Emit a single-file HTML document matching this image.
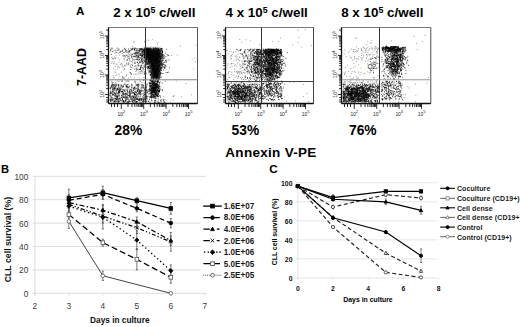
<!DOCTYPE html>
<html><head><meta charset="utf-8"><style>
html,body{margin:0;padding:0;background:#fff;}
body{width:520px;height:327px;overflow:hidden;font-family:"Liberation Sans",sans-serif;}
svg{display:block;}
</style></head><body>
<svg width="520" height="327" viewBox="0 0 520 327">
<rect width="520" height="327" fill="#fff"/>
<defs><filter id="bl" x="-5%" y="-5%" width="110%" height="110%"><feGaussianBlur stdDeviation="0.35"/></filter><filter id="bl2" x="-20%" y="-20%" width="140%" height="140%"><feGaussianBlur stdDeviation="0.8"/></filter></defs>
<text x="76" y="14.9" font-size="11.6" font-weight="bold" font-family="Liberation Sans, sans-serif">A</text>
<text x="113.2" y="16.9" font-size="13.4" font-weight="bold" font-family="Liberation Sans, sans-serif">2 x 10<tspan font-size="8.8" dy="-4.1">5</tspan><tspan dy="4.1"> c/well</tspan></text>
<text x="225.5" y="16.9" font-size="13.4" font-weight="bold" font-family="Liberation Sans, sans-serif">4 x 10<tspan font-size="8.8" dy="-4.1">5</tspan><tspan dy="4.1"> c/well</tspan></text>
<text x="341.2" y="16.9" font-size="13.4" font-weight="bold" font-family="Liberation Sans, sans-serif">8 x 10<tspan font-size="8.8" dy="-4.1">5</tspan><tspan dy="4.1"> c/well</tspan></text>
<text transform="translate(85.8,85.9) rotate(-90)" font-size="12.4" font-weight="bold" font-family="Liberation Sans, sans-serif">7-AAD</text>
<text x="114.6" y="134.6" font-size="13.8" font-weight="bold" font-family="Liberation Sans, sans-serif">28%</text>
<text x="231.6" y="134.6" font-size="13.8" font-weight="bold" font-family="Liberation Sans, sans-serif">53%</text>
<text x="349.0" y="134.6" font-size="13.8" font-weight="bold" font-family="Liberation Sans, sans-serif">76%</text>
<text x="225.3" y="156.6" font-size="13.5" font-weight="bold" letter-spacing="0.3" font-family="Liberation Sans, sans-serif">Annexin V-PE</text>
<path d="M143.4 77.7h.9M131.5 58.1h.9M123.2 56.6h.9M141.6 73.4h.9M137.6 74.3h.9M144.7 70.0h.9M121.1 72.2h.9M119.2 67.5h.9M115.5 75.4h.9M127.1 56.8h.9M142.3 50.7h.9M142.6 72.2h.9M115.2 72.4h.9M130.1 77.0h.9M130.5 61.7h.9M142.7 50.8h.9M137.2 51.3h.9M119.7 51.6h.9M140.5 62.1h.9M135.4 56.2h.9M135.6 68.8h.9M113.4 63.8h.9M135.3 54.9h.9M132.9 56.9h.9M123.0 77.4h.9M143.0 79.9h.9M124.9 66.3h.9M138.3 72.3h.9M126.0 75.6h.9M124.0 78.4h.9M126.5 51.8h.9M136.2 52.6h.9M133.8 49.7h.9M144.6 65.3h.9M135.9 52.2h.9M132.3 60.0h.9M118.7 74.1h.9M111.2 63.3h.9M113.0 75.2h.9M141.3 49.1h.9M126.3 63.0h.9M135.2 71.3h.9M122.0 77.8h.9M116.5 52.4h.9M138.5 51.8h.9M116.5 64.0h.9M121.8 53.2h.9M142.5 63.2h.9M137.5 56.0h.9M141.9 55.1h.9M141.7 67.6h.9M144.0 72.7h.9M132.1 65.1h.9M139.9 62.2h.9M113.4 77.2h.9M138.2 69.8h.9M136.1 55.4h.9M126.2 74.3h.9M143.7 77.5h.9M115.6 69.9h.9M129.4 61.0h.9M115.9 52.4h.9M126.5 63.8h.9M119.4 59.8h.9M129.4 72.4h.9M130.6 53.2h.9M141.0 59.8h.9M143.6 79.4h.9M114.9 66.6h.9M143.8 60.3h.9M129.2 58.0h.9M111.0 54.5h.9M114.3 57.1h.9M132.0 66.0h.9M143.2 69.9h.9M122.7 78.4h.9M132.2 65.4h.9M140.2 69.4h.9M122.6 67.4h.9M120.5 79.0h.9M118.5 79.1h.9M112.3 48.3h.9M129.4 54.6h.9M127.8 51.8h.9M139.3 69.4h.9M133.9 77.7h.9M144.7 69.7h.9M135.0 48.1h.9M111.7 61.6h.9M143.9 58.0h.9M129.9 48.3h.9M124.6 76.9h.9M130.6 74.4h.9M110.5 54.5h.9M116.3 74.6h.9M113.6 77.8h.9M119.4 76.2h.9M128.0 58.4h.9M143.8 61.0h.9M134.4 50.2h.9M139.1 79.4h.9M113.9 71.9h.9M119.5 52.7h.9M122.7 69.2h.9M143.4 79.8h.9M144.8 67.9h.9M132.9 53.2h.9M135.4 65.6h.9M122.6 76.8h.9M118.9 52.5h.9M115.5 52.8h.9M130.6 73.6h.9M115.6 64.1h.9M130.1 65.9h.9M124.4 65.4h.9M110.5 49.9h.9M124.8 55.6h.9M136.5 55.7h.9M138.8 55.7h.9M113.2 63.3h.9M123.6 58.7h.9M136.8 55.1h.9M133.5 74.7h.9M125.8 64.1h.9M142.3 67.3h.9M116.3 50.2h.9M112.9 58.6h.9M113.1 68.8h.9M124.8 57.9h.9M127.9 78.0h.9M118.7 81.0h.9M121.0 81.6h.9M143.6 83.0h.9M125.6 81.1h.9M111.2 80.9h.9M141.3 82.8h.9M115.4 82.7h.9M111.7 82.3h.9M122.1 80.9h.9M137.3 83.0h.9M128.6 81.1h.9M134.6 82.0h.9M134.3 80.8h.9M143.3 80.5h.9M117.9 81.9h.9M116.9 80.8h.9M135.3 84.0h.9M122.1 81.4h.9M134.6 81.3h.9M124.5 82.9h.9M125.7 81.0h.9M112.1 82.4h.9M146.6 83.7h.9M113.2 82.3h.9M127.8 81.2h.9M134.6 82.2h.9M139.8 81.5h.9M144.5 83.4h.9M127.3 81.0h.9M127.6 80.9h.9M135.2 82.9h.9M131.2 83.9h.9M111.2 83.0h.9M139.5 80.9h.9M121.6 80.7h.9M181.0 96.7h.9M172.5 96.1h.9M173.2 96.5h.9M170.0 102.2h.9M175.8 81.1h.9M163.3 96.8h.9M191.1 94.8h.9M165.6 99.9h.9M185.8 83.5h.9M173.7 95.6h.9M160.1 81.9h.9M172.7 100.0h.9M195.9 45.2h.9M193.2 69.1h.9M191.8 59.0h.9M195.0 61.8h.9M194.4 57.9h.9M171.1 55.5h.9M180.0 46.2h.9M176.6 55.0h.9M148.2 40.0h.9M133.3 42.5h.9M144.2 41.8h.9M151.9 39.7h.9M145.5 40.5h.9M157.0 44.3h.9M157.5 42.7h.9M132.0 46.3h.9M144.5 41.4h.9M133.9 41.6h.9M114.4 53.8h.9M140.5 62.7h.9M129.5 58.7h.9M122.1 65.0h.9M139.5 69.4h.9M136.3 55.5h.9M134.7 54.0h.9M133.5 56.1h.9M123.6 52.7h.9M135.0 63.5h.9M123.4 55.9h.9M122.2 76.9h.9M140.3 57.4h.9M130.9 74.2h.9M128.8 54.9h.9M123.9 55.7h.9M135.5 53.0h.9M120.6 64.2h.9M126.5 65.1h.9M145.5 70.7h.9M145.6 48.1h.9M135.3 54.4h.9M127.8 64.8h.9M144.0 56.8h.9M131.5 61.6h.9M117.3 68.3h.9M138.7 71.7h.9M137.8 65.3h.9M134.2 53.9h.9M134.1 69.2h.9M139.7 65.9h.9M123.8 49.0h.9M135.5 68.7h.9M137.2 52.6h.9M142.1 54.4h.9M126.9 59.8h.9M125.4 51.6h.9M145.5 51.3h.9M120.7 51.2h.9M117.7 66.3h.9M144.2 71.8h.9M129.1 59.0h.9M135.8 56.1h.9M124.8 50.2h.9M124.2 69.0h.9M129.3 60.8h.9M130.2 55.4h.9M123.5 55.4h.9M139.7 69.6h.9M111.5 57.0h.9M120.9 63.5h.9M127.9 53.1h.9M124.9 51.5h.9M129.9 50.3h.9M117.7 53.4h.9M145.0 58.4h.9M128.1 48.9h.9M112.3 58.7h.9M127.0 60.2h.9M133.2 48.1h.9M134.2 50.3h.9M112.5 58.9h.9M142.0 53.6h.9M131.9 48.4h.9M143.3 59.0h.9M131.3 74.1h.9M132.5 68.2h.9M138.6 58.9h.9M120.5 51.3h.9M131.0 57.4h.9M123.9 65.3h.9M129.0 51.1h.9M112.4 51.2h.9M144.2 67.2h.9M121.5 66.6h.9M123.8 61.2h.9M140.0 62.5h.9M136.3 70.8h.9M131.9 48.3h.9M117.7 57.8h.9M145.7 50.1h.9M129.1 51.7h.9M142.1 71.7h.9M130.9 55.7h.9M144.5 64.0h.9M142.9 62.6h.9M122.4 49.5h.9M110.3 51.6h.9M138.2 54.7h.9M127.5 50.3h.9M125.9 60.3h.9M140.1 49.7h.9M137.1 56.2h.9M136.9 56.2h.9M126.4 52.5h.9M132.2 62.6h.9M119.9 64.7h.9M137.3 53.3h.9M133.8 56.2h.9M127.5 57.4h.9M122.0 51.2h.9M114.9 58.6h.9M143.2 61.2h.9M119.2 55.1h.9M137.5 64.8h.9M140.8 48.9h.9M117.4 67.1h.9M139.3 51.8h.9M145.0 58.2h.9M142.7 65.8h.9M128.4 64.0h.9M133.2 56.5h.9M131.0 56.6h.9M124.0 59.2h.9M130.8 54.6h.9M125.3 50.8h.9M127.7 54.8h.9M118.6 62.4h.9M135.8 56.7h.9M114.9 58.2h.9M135.7 57.7h.9M122.4 50.7h.9M138.3 64.8h.9M133.8 53.3h.9M130.9 64.6h.9M135.8 48.5h.9M143.0 49.8h.9M129.9 67.0h.9M145.0 52.6h.9M138.0 56.1h.9M144.8 55.5h.9M129.4 51.4h.9M136.9 59.4h.9M139.3 49.4h.9M141.1 54.1h.9M128.0 52.1h.9M126.5 55.1h.9M133.9 66.2h.9M126.9 52.2h.9M114.7 51.6h.9M126.9 59.3h.9M135.8 70.3h.9M141.9 58.9h.9M115.5 55.7h.9M145.8 53.7h.9M124.9 56.4h.9M131.9 60.9h.9M140.9 57.1h.9M128.2 49.1h.9M133.6 56.0h.9M141.5 71.1h.9M124.0 69.1h.9M133.4 59.5h.9M135.3 53.0h.9M124.4 55.9h.9M136.7 52.2h.9M136.9 54.2h.9M137.3 60.2h.9M135.6 62.0h.9M144.9 66.6h.9M125.6 48.4h.9M122.3 55.7h.9M142.3 55.9h.9M124.4 52.4h.9M113.6 57.9h.9M145.5 50.9h.9M113.7 62.1h.9M137.9 60.5h.9M123.0 52.5h.9M128.5 64.3h.9" stroke="#000" stroke-width="0.9" fill="none" stroke-opacity="0.45" filter="url(#bl)"/>
<polygon points="144.3,48.3 160.5,48.3 161,58 160.3,70 159,76 157,78.8 152.5,78.8 151,72 149,62 145.5,56" fill="#0a0a0a" filter="url(#bl2)"/>
<path d="M124.9 49.5h.9M116.8 48.1h.9M141.3 49.3h.9M140.4 49.0h.9M132.7 48.9h.9M134.1 49.5h.9M131.7 48.4h.9M131.7 49.3h.9M120.1 51.9h.9M134.7 50.9h.9M123.9 48.3h.9M135.6 49.0h.9M121.8 50.9h.9M118.3 49.0h.9M128.6 51.1h.9M134.0 48.4h.9M110.4 50.2h.9M136.0 50.4h.9M145.3 49.2h.9M110.5 49.0h.9M145.3 49.7h.9M114.6 50.5h.9M141.2 48.8h.9M130.9 49.4h.9M134.2 49.6h.9M139.5 49.6h.9M125.8 50.5h.9M112.3 51.7h.9M134.6 48.2h.9M131.9 49.8h.9M129.4 50.8h.9M140.5 48.6h.9M117.4 50.4h.9M111.4 48.2h.9M118.6 49.8h.9M145.6 67.7h.9M141.7 61.3h.9M140.8 65.2h.9M139.1 62.5h.9M142.9 60.0h.9M143.8 65.1h.9M137.9 56.6h.9M139.9 68.3h.9M138.3 63.5h.9M134.4 62.2h.9M142.0 62.1h.9M137.8 65.9h.9M141.4 55.3h.9M137.2 59.1h.9M138.9 59.4h.9M126.4 55.6h.9M145.0 49.5h.9M139.7 68.6h.9M144.3 73.4h.9M131.5 56.8h.9M138.3 65.6h.9M140.9 70.8h.9M139.3 61.7h.9M144.0 61.3h.9M139.6 73.8h.9M145.2 57.4h.9M144.6 57.6h.9M140.7 66.3h.9M141.1 65.7h.9M143.1 51.3h.9M140.0 49.7h.9M143.8 74.3h.9M135.5 74.0h.9M144.9 58.4h.9M130.1 72.7h.9M139.5 54.6h.9M142.0 63.7h.9M145.7 73.4h.9M136.3 69.2h.9M140.6 61.1h.9M128.5 56.5h.9M130.7 67.4h.9M141.6 54.5h.9M140.0 67.5h.9M140.4 71.9h.9M139.7 69.4h.9M136.6 67.9h.9M130.6 50.2h.9M130.2 69.6h.9M133.8 59.9h.9M139.0 59.7h.9M137.0 62.1h.9M142.7 69.0h.9M139.0 48.7h.9M137.2 69.7h.9M131.8 54.6h.9M145.0 67.1h.9M140.0 67.2h.9M140.8 49.4h.9M132.2 54.2h.9M144.6 54.9h.9M135.5 53.1h.9M132.3 58.9h.9M134.1 63.3h.9M128.2 63.0h.9M143.6 57.5h.9M128.8 52.1h.9M141.5 55.9h.9M143.9 66.7h.9M143.3 62.9h.9M144.5 71.8h.9M138.5 55.8h.9M135.4 66.2h.9M142.8 68.1h.9M135.5 59.2h.9M141.5 67.4h.9M139.8 58.2h.9M134.9 56.8h.9M144.5 60.9h.9M135.7 52.4h.9M158.9 79.1h.9M145.5 56.5h.9M148.8 52.1h.9M151.7 77.2h.9M159.5 56.3h.9M154.6 70.4h.9M145.2 49.8h.9M156.9 61.6h.9M155.9 73.7h.9M152.3 58.9h.9M154.3 77.7h.9M148.7 52.1h.9M153.8 55.6h.9M145.6 53.2h.9M144.5 54.5h.9M149.6 57.8h.9M158.3 57.3h.9M153.3 53.7h.9M150.3 48.6h.9M148.4 48.5h.9M157.8 65.6h.9M147.2 63.2h.9M161.7 51.4h.9M159.5 61.8h.9M153.2 74.7h.9M151.2 64.2h.9M156.9 79.4h.9M150.2 74.6h.9M157.3 68.4h.9M151.4 59.1h.9M144.6 52.2h.9M148.5 53.2h.9M160.5 69.5h.9M149.0 55.8h.9M149.2 62.7h.9M146.6 62.3h.9M149.5 59.4h.9M152.8 64.1h.9M147.4 64.2h.9M145.3 60.8h.9M144.3 48.7h.9M149.4 55.4h.9M154.9 64.9h.9M158.1 69.0h.9M157.5 76.1h.9M151.1 58.4h.9M157.6 68.6h.9M160.9 68.1h.9M157.8 74.0h.9M146.2 64.8h.9M153.3 74.7h.9M159.2 74.4h.9M154.9 76.6h.9M156.8 70.2h.9M148.0 49.0h.9M146.1 59.5h.9M154.4 68.1h.9M155.7 69.8h.9M153.0 48.1h.9M159.1 71.9h.9M153.3 65.1h.9M156.4 50.1h.9M157.9 56.1h.9M145.0 56.5h.9M157.7 54.6h.9M157.9 79.2h.9M153.1 60.2h.9M152.8 69.9h.9M158.5 67.7h.9M156.0 50.5h.9M146.4 56.1h.9M158.0 57.7h.9M154.6 48.4h.9M144.7 56.6h.9M156.6 70.1h.9M156.7 57.3h.9M153.6 62.9h.9M152.6 51.8h.9M160.9 54.4h.9M152.3 56.6h.9M147.6 66.6h.9M146.3 64.8h.9M162.1 52.2h.9M159.5 64.3h.9M160.8 70.5h.9M153.0 48.8h.9M152.3 57.7h.9M146.2 59.0h.9M149.7 74.9h.9M159.9 51.8h.9M161.1 57.3h.9M150.8 60.6h.9M150.5 61.7h.9M148.9 49.5h.9M148.4 56.5h.9M153.5 54.1h.9M150.8 78.6h.9M155.8 77.2h.9M161.8 65.6h.9M157.5 49.6h.9M157.8 62.4h.9M158.2 68.6h.9M149.1 49.6h.9M161.6 52.1h.9M152.7 59.0h.9M149.3 71.6h.9M162.5 56.3h.9M156.3 57.6h.9M154.4 60.6h.9M146.8 53.2h.9M153.2 55.0h.9M152.3 52.5h.9M147.3 50.9h.9M150.2 50.9h.9M148.2 56.3h.9M154.6 76.4h.9M158.1 61.2h.9M151.6 64.8h.9M150.8 58.8h.9M144.7 56.9h.9M162.4 52.0h.9M153.3 68.1h.9M160.3 54.9h.9M148.8 56.0h.9M151.3 62.3h.9M160.5 48.7h.9M161.0 63.1h.9M154.9 48.0h.9M151.1 77.7h.9M159.6 75.4h.9M162.5 56.0h.9M145.6 52.9h.9M153.7 69.8h.9M156.1 72.5h.9M152.4 65.6h.9M156.1 57.7h.9M146.0 56.1h.9M155.9 70.4h.9M145.7 50.3h.9M153.7 66.7h.9M151.1 55.2h.9M155.2 48.3h.9M149.4 62.7h.9M160.7 63.2h.9M148.1 55.9h.9M149.5 48.7h.9M153.2 69.6h.9M151.7 56.2h.9M156.5 77.6h.9M147.9 49.1h.9M150.1 61.5h.9M156.8 54.3h.9M159.0 71.7h.9M153.3 54.6h.9M162.4 58.0h.9M159.5 55.4h.9M153.2 54.0h.9M147.9 61.3h.9M156.5 78.4h.9M146.4 60.6h.9M146.3 49.7h.9M157.8 79.9h.9M161.7 58.5h.9M158.1 49.0h.9M156.5 60.1h.9M150.8 58.6h.9M146.8 48.1h.9M149.0 59.2h.9M162.1 52.0h.9M162.3 54.6h.9M150.5 74.3h.9M159.5 61.8h.9M150.8 77.4h.9M147.3 59.7h.9M161.0 49.0h.9M151.5 74.0h.9M158.5 49.3h.9M144.2 50.0h.9M161.4 56.2h.9M158.1 76.8h.9M150.1 56.7h.9M148.6 70.9h.9M149.7 56.8h.9M161.4 68.3h.9M161.9 48.8h.9M148.1 63.2h.9M151.0 56.0h.9M151.9 63.8h.9M161.6 53.9h.9M159.2 71.6h.9M159.5 72.7h.9M155.3 58.5h.9M149.7 59.6h.9M158.8 50.5h.9M148.3 50.1h.9M148.7 50.7h.9M157.3 62.3h.9M148.1 61.3h.9M155.6 69.6h.9M158.1 75.1h.9M156.5 51.9h.9M159.9 57.4h.9M154.6 59.9h.9M157.9 54.4h.9M148.3 55.9h.9M154.8 58.4h.9M151.2 79.8h.9M153.4 55.4h.9M159.3 68.9h.9M152.8 74.2h.9M144.3 57.4h.9M145.8 54.1h.9M161.6 59.9h.9M160.4 62.4h.9M148.6 72.9h.9M161.9 51.4h.9M155.1 67.8h.9M147.7 59.8h.9M146.3 54.5h.9M148.5 67.2h.9M156.2 54.5h.9M156.7 53.9h.9M149.6 54.5h.9M159.0 65.5h.9M144.7 51.2h.9M151.2 65.6h.9M156.0 50.9h.9M151.5 57.1h.9M149.6 66.1h.9M150.5 61.3h.9M150.6 54.3h.9M157.7 54.5h.9M151.8 74.3h.9M151.4 76.3h.9M152.5 53.2h.9M156.0 77.1h.9M150.7 64.1h.9M146.3 57.1h.9M153.7 77.6h.9M145.6 63.7h.9M159.2 78.9h.9M147.3 52.1h.9M152.9 49.7h.9M161.6 60.4h.9M161.1 67.9h.9M159.6 53.1h.9M158.8 55.1h.9M151.4 75.1h.9M159.7 53.9h.9M147.8 60.8h.9M153.6 60.3h.9M145.9 55.9h.9M157.6 76.7h.9M158.3 49.2h.9M159.8 51.8h.9M155.2 65.6h.9M155.7 57.8h.9M151.7 66.6h.9M151.8 69.1h.9M152.2 62.0h.9M153.0 55.5h.9M158.4 73.0h.9M152.4 53.7h.9M152.7 51.4h.9M146.0 61.8h.9M145.3 62.1h.9M153.4 49.3h.9M155.9 50.6h.9M157.8 72.9h.9M153.5 49.7h.9M153.3 60.1h.9M162.0 52.4h.9M157.8 74.1h.9M153.1 78.6h.9M161.4 53.3h.9M158.9 77.8h.9M144.8 59.2h.9M158.2 53.1h.9M161.0 56.8h.9M159.4 52.6h.9M153.3 77.4h.9M147.6 56.4h.9M153.4 58.2h.9M144.2 53.8h.9M156.8 76.7h.9M155.9 59.5h.9M160.5 65.8h.9M154.8 76.2h.9M155.8 60.6h.9M159.1 56.5h.9M150.5 72.5h.9M152.1 53.7h.9M158.0 49.5h.9M159.5 56.1h.9M156.0 79.5h.9M154.9 69.2h.9M149.6 48.1h.9M144.2 52.8h.9M155.5 61.8h.9M153.5 76.7h.9M146.1 55.3h.9M156.2 48.7h.9M145.6 59.4h.9M147.9 66.7h.9M155.0 54.5h.9M155.7 63.2h.9M148.2 52.8h.9M160.5 73.0h.9M151.3 56.5h.9M154.5 59.2h.9M156.1 62.2h.9M151.4 55.6h.9M161.8 52.6h.9M147.4 67.5h.9M153.4 68.5h.9M159.4 53.6h.9M149.5 57.6h.9M158.8 70.9h.9M158.0 62.9h.9M158.0 62.5h.9M147.9 51.4h.9M148.0 49.2h.9M150.0 72.0h.9M157.1 75.1h.9M157.4 56.5h.9M154.3 62.0h.9M158.9 64.7h.9M148.7 68.5h.9M162.3 54.9h.9M160.7 48.5h.9M148.6 55.6h.9M158.0 78.2h.9M158.0 58.5h.9M160.7 58.5h.9M155.8 70.2h.9M156.5 79.3h.9M152.7 74.9h.9M157.1 75.4h.9M152.0 71.2h.9M154.6 57.8h.9M147.6 67.9h.9M146.3 48.9h.9M150.2 52.5h.9M144.1 49.3h.9M157.0 68.3h.9M157.1 71.6h.9M150.6 74.2h.9M159.5 76.5h.9M145.6 54.6h.9M145.7 49.1h.9M160.0 74.0h.9M155.9 74.4h.9M155.8 57.2h.9M145.4 51.1h.9M158.3 54.6h.9M149.7 61.6h.9M143.9 56.2h.9M149.0 70.9h.9M150.7 58.3h.9M162.3 64.1h.9M160.1 67.8h.9M152.0 72.7h.9M150.3 70.5h.9M154.0 54.9h.9M160.3 50.9h.9M159.5 53.5h.9M143.5 54.5h.9M158.4 79.3h.9M153.1 73.5h.9M147.1 63.8h.9M150.3 74.6h.9M149.0 54.9h.9M157.1 63.9h.9M157.1 73.2h.9M155.7 59.4h.9M151.3 60.6h.9M160.9 50.8h.9M160.8 48.8h.9M147.5 56.4h.9M161.1 64.0h.9M150.9 76.3h.9M148.1 62.7h.9M153.9 72.1h.9M158.2 68.7h.9M150.3 58.5h.9M156.4 71.7h.9M146.8 62.0h.9M158.6 66.5h.9M146.0 62.8h.9M160.8 55.6h.9M147.2 57.6h.9M157.2 75.0h.9M146.5 53.0h.9M148.3 58.5h.9M153.7 53.1h.9M149.9 54.1h.9M145.5 60.3h.9M157.8 61.9h.9M147.3 68.4h.9M145.6 54.6h.9M151.1 49.1h.9M151.3 73.3h.9M157.0 64.0h.9M155.8 62.8h.9M151.4 71.7h.9M161.2 61.8h.9M154.7 72.0h.9M151.7 55.3h.9M157.6 76.2h.9M158.6 70.4h.9M160.1 69.7h.9M156.0 62.5h.9M149.6 68.1h.9M145.4 61.4h.9M158.8 70.8h.9M155.8 56.0h.9M151.8 62.6h.9M155.6 61.1h.9M156.7 77.8h.9M158.7 60.4h.9M153.1 79.2h.9M161.8 64.6h.9M154.1 71.0h.9M153.5 68.5h.9M159.7 64.7h.9M151.5 78.3h.9M147.6 69.9h.9M151.2 72.4h.9M150.4 49.8h.9M148.8 60.8h.9M151.7 70.3h.9M150.4 56.5h.9M161.8 64.9h.9M151.1 54.8h.9M159.3 68.3h.9M152.6 66.0h.9M150.4 68.4h.9M159.5 74.1h.9M152.6 57.4h.9M154.2 52.0h.9M159.8 59.4h.9M160.1 56.6h.9M150.8 56.1h.9M151.8 53.9h.9M149.0 55.8h.9M149.4 63.3h.9M151.9 68.4h.9M156.4 59.6h.9M155.8 48.5h.9M156.3 56.0h.9M145.5 52.6h.9M150.3 52.9h.9M155.4 73.0h.9M156.5 76.6h.9M158.9 74.8h.9M153.9 71.7h.9M152.1 76.2h.9M154.3 56.5h.9M148.1 52.5h.9M153.1 49.9h.9M152.6 52.6h.9M153.1 63.9h.9M154.0 75.6h.9M152.6 66.0h.9M156.5 74.9h.9M150.8 61.4h.9M162.2 50.4h.9M155.9 68.4h.9M156.8 77.8h.9M153.5 63.5h.9M161.0 49.1h.9M157.5 68.0h.9M150.1 75.6h.9M150.6 63.2h.9M153.7 72.7h.9M147.6 61.9h.9M151.7 65.7h.9M159.6 57.4h.9M159.6 60.9h.9M153.3 56.7h.9M153.4 79.2h.9M156.3 73.3h.9M150.0 58.1h.9M149.3 66.8h.9M155.9 73.1h.9M160.8 65.5h.9M144.5 57.6h.9M143.6 54.1h.9M161.5 67.5h.9M156.3 73.2h.9M161.2 67.6h.9M155.5 68.1h.9M157.1 67.1h.9M156.8 54.8h.9M156.5 62.7h.9M158.4 51.2h.9M147.0 49.2h.9M158.6 77.3h.9M156.3 59.8h.9M159.5 73.2h.9M154.5 56.3h.9M149.4 61.5h.9M149.7 61.8h.9M156.0 77.9h.9M144.3 51.8h.9M159.3 66.4h.9M161.4 62.3h.9M155.0 78.0h.9M151.5 51.3h.9M156.1 54.8h.9M146.5 48.5h.9M146.0 48.6h.9M157.5 55.8h.9M157.8 54.0h.9M157.4 75.4h.9M157.7 50.7h.9M155.8 70.7h.9M152.5 77.8h.9M157.5 48.4h.9M159.4 50.5h.9M149.6 71.3h.9M153.0 49.9h.9M150.7 66.4h.9M152.1 69.7h.9M150.6 68.6h.9M155.8 61.4h.9M151.0 73.2h.9M154.6 57.4h.9M157.2 74.5h.9M150.0 67.4h.9M155.2 57.9h.9M151.9 76.4h.9M150.8 69.9h.9M155.2 76.7h.9M159.2 57.1h.9M151.7 66.8h.9M159.4 76.4h.9M159.3 75.8h.9M154.7 56.8h.9M160.1 73.8h.9M156.9 77.2h.9M150.3 50.7h.9M154.3 73.5h.9M161.7 55.5h.9M155.3 69.7h.9M152.6 54.6h.9M148.5 72.0h.9M158.9 62.7h.9M158.6 55.5h.9M154.8 76.7h.9M160.8 64.7h.9M152.8 66.9h.9M147.2 54.2h.9M150.6 66.1h.9M151.3 64.6h.9M146.4 49.4h.9M162.9 60.0h.9M158.9 53.0h.9M155.1 59.0h.9M153.6 48.7h.9M160.4 63.6h.9M154.6 56.4h.9M158.7 61.6h.9M148.5 49.2h.9M147.4 53.8h.9M145.1 49.6h.9M154.4 75.9h.9M152.4 78.3h.9M161.2 50.1h.9M155.2 60.7h.9M148.5 66.1h.9M156.0 78.6h.9M156.6 60.6h.9M152.2 53.1h.9M147.8 49.2h.9M148.5 59.3h.9M159.8 49.5h.9M158.8 70.7h.9M156.1 79.5h.9M144.6 52.6h.9M158.2 78.1h.9M156.7 57.6h.9M155.0 72.3h.9M145.6 58.4h.9M148.5 52.0h.9M152.9 53.4h.9M148.1 52.6h.9M156.7 48.4h.9M157.5 54.2h.9M146.2 62.3h.9M159.9 68.1h.9M152.3 58.9h.9M159.5 63.3h.9M155.7 52.6h.9M147.8 49.8h.9M157.4 65.7h.9M148.7 61.2h.9M146.5 56.7h.9M159.9 58.7h.9M146.8 63.7h.9M147.0 52.6h.9M145.9 54.3h.9M144.5 52.4h.9M149.0 68.4h.9M143.6 54.4h.9M148.4 49.3h.9M147.4 54.5h.9M148.9 48.4h.9M147.8 55.5h.9M143.8 48.0h.9M148.0 59.6h.9M144.1 57.6h.9M148.5 52.8h.9M146.4 51.0h.9M147.3 52.3h.9M143.5 49.9h.9M146.7 58.9h.9M144.6 52.5h.9M146.7 63.6h.9M147.9 60.8h.9M144.2 49.4h.9M147.4 57.0h.9M147.3 49.2h.9M147.9 55.4h.9M148.1 67.0h.9M146.0 48.3h.9M148.5 58.5h.9M148.2 53.9h.9M145.2 51.6h.9M145.2 61.1h.9M145.7 59.3h.9M147.9 67.0h.9M148.7 58.9h.9M146.1 59.7h.9M146.2 48.5h.9M148.8 52.9h.9M144.1 50.3h.9M143.2 50.1h.9M147.2 52.3h.9M146.5 59.5h.9M147.2 50.3h.9M148.2 63.8h.9M143.3 50.7h.9M146.0 59.0h.9M144.7 50.7h.9M145.4 51.0h.9M147.5 51.6h.9M145.3 57.3h.9M148.0 59.6h.9M147.7 55.4h.9M144.4 55.4h.9M147.8 68.1h.9M147.9 66.6h.9M148.7 68.6h.9M144.5 57.3h.9M146.8 56.0h.9M146.2 49.5h.9M145.6 59.1h.9M148.8 65.1h.9M148.6 61.9h.9M147.9 67.5h.9M148.3 48.8h.9M146.8 53.8h.9M147.1 54.0h.9M146.7 53.5h.9M146.1 57.5h.9M148.7 54.3h.9M144.8 62.2h.9M148.7 59.3h.9M144.6 58.3h.9M146.2 51.3h.9M143.7 50.9h.9M144.8 56.9h.9M144.7 53.4h.9M148.0 61.4h.9M146.4 62.3h.9M145.8 60.1h.9M146.7 58.3h.9M144.9 53.3h.9M144.3 59.3h.9M145.3 60.9h.9M148.2 53.2h.9M146.3 58.8h.9M144.0 49.5h.9M148.2 57.7h.9M145.6 64.2h.9M143.7 53.0h.9M148.8 64.3h.9M143.9 55.4h.9M145.1 62.9h.9M146.7 66.7h.9M147.9 59.4h.9M147.4 64.4h.9M147.6 58.5h.9M147.7 63.6h.9M148.5 50.8h.9M148.2 48.1h.9M147.6 60.9h.9M146.4 57.2h.9M147.7 67.2h.9M146.6 56.4h.9M145.7 58.1h.9M147.3 54.4h.9M145.3 60.2h.9M145.3 55.1h.9M147.7 66.7h.9M146.0 57.8h.9M144.1 54.7h.9M146.5 49.9h.9M148.5 55.1h.9M166.2 49.3h.9M165.0 60.6h.9M163.9 62.2h.9M159.8 58.3h.9M167.5 55.4h.9M159.4 60.9h.9M161.8 54.7h.9M160.5 70.4h.9M158.7 77.7h.9M161.4 53.3h.9M165.4 66.5h.9M159.9 68.0h.9M166.4 60.0h.9M159.1 66.1h.9M165.8 61.8h.9M164.3 68.1h.9M168.6 60.0h.9M161.6 61.7h.9M166.6 54.5h.9M165.4 56.6h.9M164.4 67.5h.9M159.5 61.3h.9M163.7 66.7h.9M160.2 54.1h.9M162.4 60.2h.9M158.5 69.4h.9M161.4 73.5h.9M165.6 62.2h.9M165.2 53.1h.9M162.0 57.4h.9M159.2 62.1h.9M162.6 73.5h.9M160.2 58.3h.9M164.3 65.2h.9M163.1 58.2h.9M164.5 64.9h.9M158.9 52.5h.9M163.4 62.5h.9M163.3 55.0h.9M162.4 54.7h.9M164.1 67.5h.9M168.3 72.1h.9M160.6 58.3h.9M160.2 64.4h.9M168.9 67.7h.9M159.1 66.1h.9M163.0 64.4h.9M168.3 55.4h.9M160.5 77.7h.9M164.0 55.8h.9M163.1 69.9h.9M162.6 56.5h.9M160.8 77.2h.9M163.1 66.9h.9M161.8 66.0h.9M165.4 60.8h.9M161.6 60.5h.9M160.1 60.3h.9M162.1 63.7h.9M167.0 72.5h.9M161.7 66.8h.9M163.9 68.1h.9M163.1 64.1h.9M161.6 55.7h.9M165.6 72.4h.9M165.0 65.5h.9M163.8 58.4h.9M163.6 57.6h.9M160.1 72.2h.9M164.9 81.0h.9M154.6 84.3h.9M154.0 82.5h.9M156.8 85.0h.9M158.9 91.2h.9M153.0 84.7h.9M155.7 84.0h.9M158.6 82.3h.9M154.6 90.3h.9M152.0 94.7h.9M153.2 92.5h.9M155.2 85.9h.9M153.3 81.6h.9M150.9 96.2h.9M152.5 92.6h.9M150.2 90.7h.9M153.0 89.5h.9M152.3 81.3h.9M152.4 84.3h.9M150.4 93.6h.9M152.1 87.7h.9M150.5 85.3h.9M156.3 86.7h.9M153.5 92.5h.9M156.7 84.7h.9M158.3 86.7h.9M155.9 83.5h.9M157.1 93.5h.9M149.4 80.8h.9M150.8 83.8h.9M152.3 87.2h.9M149.4 85.9h.9M156.0 83.4h.9M158.2 90.8h.9M156.9 84.8h.9M153.8 93.0h.9M152.8 80.0h.9M158.2 94.8h.9M152.1 80.8h.9M158.4 91.5h.9M149.5 84.6h.9M151.3 97.4h.9M157.2 81.6h.9M156.6 87.5h.9M157.2 95.7h.9M152.1 81.7h.9M159.4 88.1h.9M157.1 95.8h.9M155.9 88.6h.9M153.7 89.7h.9M159.2 82.4h.9M157.4 80.8h.9M156.7 95.3h.9M151.9 90.4h.9M155.0 84.7h.9M149.7 86.8h.9M153.5 83.8h.9M152.4 82.6h.9M156.8 92.7h.9M151.6 84.6h.9M154.7 88.5h.9M159.3 86.7h.9M152.3 96.8h.9M150.6 90.7h.9M152.7 95.5h.9M155.0 94.4h.9M150.9 92.7h.9M155.6 88.8h.9M157.4 95.8h.9M150.3 85.5h.9M153.0 83.9h.9M149.7 85.3h.9M151.2 93.3h.9M153.9 82.1h.9M152.6 88.9h.9M153.0 83.2h.9M149.8 80.2h.9M150.2 89.3h.9M153.8 83.6h.9M155.0 80.2h.9M156.2 84.8h.9M151.7 82.6h.9M158.2 85.6h.9M151.0 92.1h.9M150.9 94.9h.9M158.1 94.1h.9M152.6 83.5h.9M158.1 86.1h.9M153.1 90.5h.9M153.1 95.8h.9M151.6 80.8h.9M155.2 91.9h.9M158.0 93.4h.9M154.4 89.5h.9M150.7 85.7h.9M155.4 81.5h.9M156.6 83.1h.9M150.0 80.8h.9M153.8 83.6h.9M157.0 80.1h.9M157.7 88.1h.9M152.1 92.6h.9M154.7 88.0h.9M152.7 88.3h.9M156.3 95.7h.9M158.9 83.1h.9M152.3 88.4h.9M155.2 86.6h.9M151.1 81.6h.9M152.6 88.7h.9M157.9 81.1h.9M156.4 91.6h.9M152.3 90.9h.9M159.5 89.1h.9M156.1 85.7h.9M152.8 96.8h.9M149.3 83.6h.9M156.5 88.5h.9M149.9 92.5h.9M153.1 91.0h.9M153.6 90.1h.9M155.2 87.5h.9M150.3 83.4h.9M158.8 90.4h.9M151.8 81.8h.9M154.8 84.8h.9M154.4 90.5h.9M151.5 90.9h.9M150.2 89.8h.9M155.5 81.5h.9M153.5 81.4h.9M153.8 96.4h.9M155.1 93.6h.9M157.3 82.2h.9M153.3 83.3h.9M157.5 82.6h.9M157.5 81.1h.9M151.6 87.1h.9M151.3 85.7h.9M156.8 88.1h.9M158.8 91.8h.9M158.6 90.7h.9M150.8 94.2h.9M152.8 94.5h.9M156.5 95.7h.9M150.3 87.1h.9M156.9 80.8h.9M155.6 81.9h.9M155.0 95.3h.9M156.4 84.8h.9M151.1 88.5h.9M158.2 91.0h.9M150.2 80.4h.9M151.0 90.5h.9M152.2 93.1h.9M153.2 82.7h.9M158.6 90.2h.9M156.6 95.4h.9M152.8 82.9h.9M154.5 96.6h.9M157.8 80.7h.9M151.0 95.5h.9M156.5 87.5h.9M154.2 83.0h.9M158.3 87.5h.9M158.6 91.6h.9M149.8 86.3h.9M151.4 97.0h.9M155.5 80.8h.9M150.9 86.9h.9M154.1 91.0h.9M153.3 86.7h.9M152.7 80.4h.9M149.5 82.8h.9M156.4 85.2h.9M152.0 89.5h.9M151.9 90.8h.9M155.2 94.6h.9M156.0 92.1h.9M153.0 85.4h.9M157.7 96.6h.9M152.3 94.5h.9M157.1 89.7h.9M156.0 86.7h.9M155.1 87.7h.9M149.7 86.4h.9M154.3 87.0h.9M151.7 84.5h.9M152.8 82.6h.9M154.0 88.5h.9M155.3 85.7h.9M150.9 81.3h.9M152.3 85.9h.9M157.0 90.5h.9M159.3 86.5h.9M159.1 91.1h.9M149.9 83.4h.9M152.9 94.7h.9M153.7 96.5h.9M149.7 89.2h.9M158.9 85.2h.9M151.8 80.4h.9M150.8 85.1h.9M156.7 84.1h.9M153.4 83.8h.9M155.6 96.4h.9M156.1 83.7h.9M155.6 81.5h.9M157.9 96.6h.9M152.8 82.6h.9M151.1 90.2h.9M158.6 92.2h.9M159.2 84.0h.9M152.6 94.2h.9M156.1 87.7h.9M156.5 86.4h.9M149.6 87.9h.9M152.7 89.4h.9M155.6 84.9h.9M154.1 80.3h.9M159.2 90.7h.9M155.8 93.8h.9M152.6 81.8h.9M150.7 82.7h.9M157.4 81.7h.9M158.0 88.0h.9M154.9 91.2h.9M155.1 92.5h.9M155.6 86.3h.9M157.2 84.9h.9M156.8 94.5h.9M157.5 85.9h.9M154.0 85.3h.9M154.8 97.9h.9M150.5 80.2h.9M154.2 92.5h.9M157.5 86.9h.9M157.3 81.7h.9M149.3 82.5h.9M149.7 89.5h.9M155.1 83.5h.9M159.3 86.9h.9M150.6 83.4h.9M150.8 80.6h.9M157.6 84.6h.9M156.0 86.5h.9M157.8 88.7h.9M152.6 97.2h.9M150.2 93.9h.9M153.4 96.4h.9M149.7 90.7h.9M149.1 93.6h.9M157.4 87.2h.9M154.3 91.9h.9M153.8 93.0h.9M154.2 91.5h.9M154.2 83.6h.9M151.5 100.7h.9M154.7 93.8h.9M156.9 95.3h.9M155.4 86.8h.9M154.0 81.9h.9M153.5 92.3h.9M148.5 89.7h.9M156.1 93.9h.9M151.7 86.6h.9M149.3 85.2h.9M155.3 96.6h.9M151.1 94.1h.9M155.1 87.2h.9M153.8 89.8h.9M159.4 95.6h.9M159.7 89.5h.9M156.5 94.0h.9M155.3 90.3h.9M153.5 87.5h.9M150.9 96.2h.9M152.9 81.3h.9M154.7 88.9h.9M154.4 95.7h.9M153.7 88.0h.9M152.1 88.9h.9M152.9 89.8h.9M161.9 90.5h.9M151.8 96.1h.9M156.2 92.0h.9M155.8 92.0h.9M155.7 94.2h.9M156.5 94.0h.9M152.7 89.0h.9M152.2 92.5h.9M156.1 87.3h.9M155.5 98.7h.9M157.1 84.9h.9M153.8 91.3h.9M153.9 90.4h.9M157.0 90.2h.9M151.2 91.6h.9M153.8 89.4h.9M152.6 83.9h.9M150.8 87.7h.9M156.9 84.7h.9M152.2 91.0h.9M147.9 94.0h.9M152.1 91.4h.9M152.8 90.1h.9M154.3 89.0h.9M149.4 83.6h.9M153.9 94.2h.9M152.6 91.0h.9M154.4 90.8h.9M156.5 83.5h.9M154.7 88.3h.9M153.2 85.8h.9M152.0 85.2h.9M151.2 98.3h.9M158.3 89.0h.9M155.9 85.4h.9M154.4 94.3h.9M153.9 85.3h.9M153.4 85.3h.9M150.5 88.1h.9M153.0 86.0h.9M151.8 85.6h.9M154.6 94.2h.9M153.5 97.3h.9M149.9 90.0h.9M151.1 88.4h.9M154.3 91.1h.9M156.9 86.9h.9M150.9 88.3h.9M154.7 86.4h.9M156.3 95.2h.9M150.4 90.3h.9M156.6 81.9h.9M154.5 88.2h.9M150.4 93.9h.9M154.6 87.2h.9M155.1 91.4h.9M155.9 91.1h.9M155.0 84.6h.9M152.9 89.5h.9M153.0 85.1h.9M149.4 89.9h.9M154.1 86.8h.9M152.9 85.7h.9M152.1 88.6h.9M152.4 91.5h.9M153.6 89.5h.9M155.0 93.7h.9M155.5 89.8h.9M153.6 86.0h.9M153.1 91.5h.9M154.6 87.6h.9M150.6 83.3h.9M154.8 92.8h.9M154.9 83.9h.9M153.5 89.8h.9M151.7 90.3h.9M153.5 85.9h.9M150.9 92.0h.9M154.9 85.7h.9M151.4 92.3h.9M155.5 87.9h.9M158.0 87.9h.9M151.3 93.0h.9M153.5 90.3h.9M154.1 85.3h.9M151.0 88.3h.9M157.6 85.3h.9M157.4 89.8h.9M151.2 90.0h.9M155.4 85.7h.9M148.6 90.3h.9M151.2 90.6h.9M149.2 88.5h.9M152.0 83.5h.9M153.4 89.6h.9M152.6 84.6h.9M154.5 82.5h.9M155.4 90.8h.9M158.2 92.3h.9M154.9 90.0h.9M154.1 84.1h.9M157.7 90.9h.9M153.3 84.8h.9M157.8 91.0h.9M151.0 91.5h.9M158.8 88.9h.9M155.0 87.5h.9M152.4 93.0h.9M161.8 89.4h.9M153.7 91.9h.9M153.2 91.7h.9M156.1 85.2h.9M151.3 88.7h.9M156.1 90.0h.9M157.1 83.9h.9M155.2 86.7h.9M154.3 90.2h.9M151.6 88.2h.9M151.1 90.0h.9M151.9 87.2h.9M154.6 86.6h.9M156.9 86.7h.9M156.1 90.0h.9M151.4 88.2h.9M151.9 87.7h.9M153.3 95.7h.9M152.9 94.8h.9M155.1 84.2h.9M148.2 91.5h.9M149.0 91.6h.9M156.6 90.4h.9M153.5 88.1h.9M154.7 87.9h.9M152.7 87.6h.9M156.9 86.7h.9M155.0 84.8h.9M152.2 83.9h.9M153.5 91.5h.9M154.8 87.2h.9M155.5 87.7h.9M154.9 90.0h.9M150.7 91.8h.9M153.7 97.3h.9M153.4 87.0h.9M157.8 91.0h.9M158.8 90.9h.9M153.5 91.7h.9M152.0 87.4h.9M152.6 88.2h.9M156.0 87.2h.9M154.8 87.2h.9M153.5 89.6h.9M151.3 92.7h.9M154.5 93.7h.9M156.4 91.4h.9M153.6 85.0h.9M153.4 87.3h.9M154.6 87.3h.9M161.7 83.1h.9M157.0 87.3h.9M153.4 92.4h.9M154.0 84.5h.9M155.0 88.3h.9M148.8 89.7h.9M151.3 86.3h.9M155.2 90.1h.9M153.3 97.0h.9M155.1 86.7h.9M154.6 88.6h.9M148.5 83.2h.9M150.5 96.6h.9M153.5 88.0h.9M152.6 92.6h.9M154.1 95.3h.9M156.0 95.0h.9M153.7 90.4h.9M152.9 88.4h.9M149.7 86.9h.9M151.6 86.6h.9M157.1 90.0h.9M157.1 92.1h.9M156.3 92.7h.9M152.5 91.9h.9M153.2 87.1h.9M157.0 96.9h.9M151.5 95.4h.9M156.1 85.9h.9M154.7 90.4h.9M142.1 51.6h.9M137.3 53.1h.9M143.5 56.0h.9M142.9 57.2h.9M138.1 52.8h.9M142.0 56.9h.9M141.5 55.0h.9M141.4 61.1h.9M134.7 52.9h.9M135.7 53.5h.9M136.9 50.4h.9M141.6 59.6h.9M142.3 55.6h.9M143.9 53.8h.9M138.5 52.6h.9M142.0 51.9h.9M139.1 51.6h.9M136.7 49.1h.9M140.7 51.6h.9M141.1 58.4h.9M141.9 52.9h.9M137.6 48.8h.9M142.1 49.6h.9M142.2 48.9h.9M141.4 52.7h.9M143.9 51.5h.9M139.9 53.9h.9M141.2 59.5h.9M140.3 50.9h.9M140.1 54.8h.9M141.7 55.7h.9M137.0 62.5h.9M137.5 53.6h.9M142.3 58.3h.9M145.0 56.5h.9M140.0 54.9h.9M145.4 51.7h.9M141.0 50.8h.9M145.1 49.3h.9M138.3 50.7h.9M142.7 50.6h.9M144.6 51.8h.9M142.4 52.3h.9M140.9 60.6h.9M141.2 55.6h.9M138.9 53.8h.9M134.5 53.4h.9M136.9 57.4h.9M139.9 53.9h.9M138.8 57.5h.9M144.5 53.1h.9M142.4 53.2h.9M142.2 49.1h.9M138.4 50.3h.9M139.9 55.4h.9M137.5 59.1h.9M139.2 50.7h.9M143.0 54.7h.9M140.0 48.9h.9M144.3 57.2h.9M142.0 55.9h.9M143.7 52.0h.9M142.0 61.3h.9M138.2 55.9h.9M144.4 51.7h.9M142.9 52.8h.9M141.9 50.9h.9M140.9 53.0h.9M144.3 61.6h.9M135.8 55.1h.9M141.0 56.7h.9M144.1 56.0h.9M143.3 49.3h.9M136.1 59.4h.9M144.5 49.3h.9M144.7 55.6h.9M133.9 56.5h.9M138.1 57.5h.9M139.0 50.1h.9M136.5 52.2h.9M143.5 93.2h.9M123.1 102.1h.9M111.6 99.4h.9M135.1 94.3h.9M126.3 97.9h.9M142.9 97.5h.9M137.6 84.6h.9M121.7 86.5h.9M145.2 100.5h.9M114.9 94.9h.9M131.1 84.9h.9M124.2 97.8h.9M133.6 89.2h.9M138.1 89.4h.9M129.9 91.8h.9M146.2 96.0h.9M139.7 96.5h.9M123.8 101.8h.9M136.1 96.8h.9M119.9 87.0h.9M131.1 99.3h.9M139.3 90.4h.9M114.7 93.5h.9M142.4 87.0h.9M137.2 87.2h.9M121.2 85.0h.9M120.7 91.1h.9M145.8 101.8h.9M116.5 89.7h.9M144.9 87.7h.9M121.5 92.1h.9M113.6 88.8h.9M124.3 91.1h.9M145.6 88.9h.9M117.1 100.8h.9M126.4 99.5h.9M133.4 98.4h.9M121.3 86.8h.9M137.9 92.7h.9M130.5 96.4h.9M137.7 89.1h.9M123.1 101.0h.9M129.4 89.3h.9M133.1 88.8h.9M138.4 84.8h.9M140.5 94.5h.9M122.8 101.4h.9M119.5 88.5h.9M112.1 94.1h.9M137.8 96.5h.9M125.0 98.9h.9M113.7 89.7h.9M133.7 101.9h.9M133.3 96.8h.9M138.5 91.3h.9M144.8 97.7h.9M122.3 91.3h.9M139.7 90.5h.9M116.5 100.1h.9M129.4 93.6h.9M134.6 100.7h.9M114.5 90.3h.9M112.0 91.6h.9M128.3 99.8h.9M134.5 94.7h.9M124.6 94.6h.9M119.8 99.6h.9M139.1 99.5h.9M115.2 96.4h.9M137.8 93.3h.9M143.2 100.6h.9M137.4 99.2h.9M133.8 100.3h.9M114.4 97.0h.9M135.9 95.3h.9M119.8 85.2h.9M132.1 99.2h.9M119.7 87.9h.9M117.9 85.7h.9M134.9 102.0h.9M139.6 90.7h.9M135.7 85.3h.9M140.9 90.0h.9M109.6 95.6h.9M114.7 89.1h.9M111.7 92.2h.9M130.3 98.9h.9M111.0 99.3h.9M113.6 88.2h.9M133.1 90.3h.9M121.9 94.5h.9M117.7 98.7h.9M117.3 99.5h.9M139.8 93.9h.9M110.6 98.4h.9M110.6 93.3h.9M125.4 85.2h.9M133.1 97.4h.9M131.4 91.4h.9M128.7 94.9h.9M118.0 100.1h.9M146.8 98.9h.9M145.6 90.1h.9M146.5 85.3h.9M127.4 86.5h.9M126.5 96.6h.9M136.1 92.4h.9M122.3 87.5h.9M124.6 89.2h.9M116.8 97.6h.9M128.9 92.1h.9M116.9 97.0h.9M116.9 88.9h.9M130.5 97.0h.9M146.0 97.8h.9M145.1 101.0h.9M136.6 97.3h.9M111.9 87.8h.9M110.0 100.0h.9M136.6 95.7h.9M119.4 90.6h.9M115.6 95.7h.9M146.7 89.7h.9M111.2 87.2h.9M122.8 100.6h.9M139.7 92.4h.9M113.3 86.0h.9M115.3 98.4h.9M127.2 102.3h.9M143.7 98.7h.9M127.4 99.2h.9M114.3 86.0h.9M130.6 93.4h.9M117.3 88.7h.9M110.3 100.8h.9M136.1 101.5h.9M146.3 92.1h.9M137.0 91.1h.9M139.9 99.6h.9M114.5 84.2h.9M117.5 94.8h.9M123.7 84.2h.9M140.6 98.5h.9M126.9 84.8h.9M142.8 93.9h.9M112.2 90.0h.9M132.9 100.4h.9M127.7 95.8h.9M117.2 88.5h.9M143.5 91.1h.9M113.4 94.9h.9M114.2 87.7h.9M126.6 94.8h.9M133.4 97.1h.9M126.0 85.2h.9M136.7 85.0h.9M127.1 91.4h.9M134.7 97.2h.9M118.5 96.0h.9M135.5 92.7h.9M114.8 100.8h.9M132.0 85.2h.9M118.4 102.3h.9M118.1 91.3h.9M139.1 99.2h.9M133.3 97.7h.9M110.9 85.7h.9M146.1 98.9h.9M110.9 84.9h.9M118.5 101.2h.9M117.7 96.4h.9M144.4 95.8h.9M144.0 88.9h.9M115.3 84.3h.9M137.9 85.9h.9M146.0 97.1h.9M116.5 98.9h.9M115.6 93.5h.9M113.5 98.6h.9M142.9 101.0h.9M109.6 99.8h.9M130.3 99.2h.9M128.3 95.5h.9M131.8 98.8h.9M112.4 85.0h.9M130.0 89.4h.9M124.4 84.1h.9M137.4 84.4h.9M140.6 99.0h.9M126.7 86.3h.9M133.9 87.8h.9M125.6 86.0h.9M146.1 94.1h.9M122.7 85.7h.9M136.9 99.7h.9M141.3 85.9h.9M123.3 89.6h.9M138.1 86.7h.9M132.2 102.1h.9M138.3 84.1h.9M112.3 86.1h.9M135.5 95.1h.9M129.0 92.4h.9M124.8 95.3h.9M133.8 101.0h.9M137.0 98.7h.9M143.7 99.5h.9M136.4 84.6h.9M135.0 99.7h.9M125.7 100.2h.9M116.2 101.4h.9M126.1 97.1h.9M119.0 89.6h.9M122.6 90.0h.9M113.1 92.2h.9M146.3 96.1h.9M144.5 98.1h.9M140.9 102.4h.9M137.7 89.1h.9M118.9 91.6h.9M110.3 88.3h.9M142.7 101.0h.9M121.8 98.3h.9M138.6 100.5h.9M139.3 93.8h.9M113.4 99.3h.9M121.3 95.6h.9M123.3 93.9h.9M145.7 87.0h.9M129.4 96.0h.9M129.7 101.4h.9M124.8 100.9h.9M135.4 101.9h.9M112.9 87.9h.9M120.3 100.8h.9M110.0 88.8h.9M136.3 102.3h.9M116.1 92.1h.9M135.3 96.8h.9M137.5 97.9h.9M118.8 88.8h.9M110.5 96.8h.9M117.3 88.8h.9M145.7 95.9h.9M131.7 96.1h.9M131.9 96.9h.9M120.9 85.2h.9M112.0 84.3h.9M123.1 86.6h.9M113.7 93.1h.9M145.9 96.7h.9M119.8 98.2h.9M116.2 85.9h.9M120.9 91.6h.9M135.4 92.2h.9M136.8 85.8h.9M144.5 90.3h.9M140.7 84.6h.9M140.6 88.2h.9M141.6 98.9h.9M134.7 89.1h.9M109.9 87.5h.9M143.4 86.9h.9M134.2 94.9h.9M134.3 87.3h.9M114.9 85.8h.9M146.4 91.1h.9M134.0 94.5h.9M117.9 85.2h.9M110.1 99.8h.9M114.4 101.8h.9M123.1 97.4h.9M114.7 98.6h.9M118.9 90.8h.9M129.1 86.1h.9M118.8 98.7h.9M120.2 91.0h.9M138.2 88.1h.9M116.8 88.1h.9M123.9 90.8h.9M133.6 92.7h.9M142.1 84.9h.9M134.4 99.5h.9M118.3 84.5h.9M125.9 86.1h.9M126.7 97.2h.9M113.0 86.2h.9M127.5 87.2h.9M118.2 92.1h.9M113.9 85.3h.9M123.0 92.7h.9M144.6 94.3h.9M112.2 88.1h.9M137.4 94.4h.9M142.1 101.8h.9M141.7 86.0h.9M144.9 93.7h.9M118.5 87.2h.9M141.9 87.9h.9M112.6 88.9h.9M144.2 92.5h.9M136.9 85.4h.9M126.5 89.9h.9M117.2 96.3h.9M123.0 86.2h.9M146.4 92.9h.9M116.2 84.2h.9M134.0 93.5h.9M110.4 92.7h.9M137.3 93.9h.9M118.3 93.2h.9M132.2 96.0h.9M114.9 98.9h.9M145.0 97.7h.9M141.6 90.8h.9M143.4 87.4h.9M118.0 95.1h.9M143.3 85.5h.9M117.6 84.7h.9M126.0 86.6h.9M116.7 97.9h.9M131.4 101.4h.9M124.6 96.6h.9M110.0 101.5h.9M118.2 92.8h.9M128.7 101.5h.9M128.0 102.3h.9M132.8 88.0h.9M140.8 87.7h.9M147.0 92.4h.9M118.0 101.8h.9M121.6 91.5h.9M122.4 96.4h.9M110.4 90.9h.9M115.6 99.3h.9M109.5 95.2h.9M119.2 92.4h.9M130.6 97.2h.9M114.7 88.4h.9M114.0 101.8h.9M115.1 86.5h.9M129.1 94.8h.9M142.7 85.1h.9M118.3 87.1h.9M131.5 92.4h.9M124.8 100.4h.9M134.3 99.9h.9M145.4 89.0h.9M144.8 91.5h.9M111.4 100.9h.9M113.4 84.3h.9M120.4 89.3h.9M145.8 100.1h.9M125.3 93.8h.9M141.3 98.9h.9M134.0 93.5h.9M113.9 88.5h.9M134.2 94.8h.9M139.5 100.6h.9M145.6 87.6h.9M112.4 100.6h.9M130.9 87.4h.9M135.5 88.7h.9M118.4 90.8h.9M129.1 96.5h.9M112.3 97.7h.9M132.9 92.7h.9M134.7 98.8h.9M109.9 92.8h.9M134.9 97.1h.9M133.8 87.3h.9M145.4 98.5h.9M118.2 92.0h.9M145.4 87.8h.9M124.8 101.8h.9M143.3 88.3h.9M137.1 90.7h.9M134.4 98.2h.9M114.3 88.1h.9M117.6 88.9h.9M110.8 86.5h.9M124.7 91.8h.9M112.4 94.8h.9M144.8 94.7h.9M122.8 97.0h.9M125.9 87.2h.9M127.6 84.3h.9M134.8 87.0h.9M123.4 101.8h.9M138.3 99.5h.9M133.6 95.7h.9M135.9 101.9h.9M116.9 98.2h.9M120.8 88.7h.9M140.3 95.1h.9M141.4 100.2h.9M131.6 87.7h.9M110.1 93.9h.9M136.7 89.0h.9M112.1 84.1h.9M116.0 96.9h.9M109.6 88.3h.9M119.4 97.2h.9M146.5 84.4h.9M113.8 101.3h.9M145.9 86.7h.9M122.1 93.7h.9M121.5 91.7h.9M127.5 88.8h.9M111.6 85.6h.9M115.6 85.7h.9M132.9 96.9h.9M119.4 98.6h.9M136.8 90.3h.9M127.9 87.5h.9M144.3 94.4h.9M111.4 86.8h.9M135.5 91.1h.9M136.4 88.2h.9M139.4 98.8h.9M113.0 94.8h.9M116.7 97.1h.9M139.7 98.6h.9M118.2 85.7h.9M134.4 94.5h.9M114.7 87.6h.9M131.3 86.0h.9M133.3 88.5h.9M119.2 91.8h.9M129.5 97.4h.9M110.7 97.4h.9M117.8 89.4h.9M133.5 96.8h.9M132.6 100.7h.9M117.2 89.8h.9M134.3 88.8h.9M115.4 88.2h.9M138.4 99.3h.9M136.4 101.7h.9M139.3 89.7h.9M121.3 97.3h.9M111.6 95.3h.9M112.8 84.9h.9M128.8 86.8h.9M144.4 100.2h.9M126.8 87.7h.9M114.0 93.4h.9M129.0 90.7h.9M136.4 93.8h.9M138.6 86.0h.9M112.1 94.2h.9M127.6 92.4h.9M134.6 92.0h.9M121.4 95.4h.9M136.2 99.4h.9M123.4 95.0h.9M144.3 101.6h.9M132.7 90.4h.9M126.6 97.6h.9M119.9 89.5h.9M146.3 101.3h.9M114.3 95.3h.9M132.7 93.0h.9M112.1 99.1h.9M138.4 94.9h.9M112.7 94.3h.9M113.0 102.0h.9M111.4 92.9h.9M138.3 90.8h.9M113.5 90.0h.9M115.6 96.2h.9M140.7 91.3h.9M116.0 99.3h.9M125.5 93.6h.9M114.1 92.3h.9M145.9 90.6h.9M119.2 99.0h.9M142.9 101.2h.9M127.2 101.9h.9M132.2 92.9h.9M126.9 98.7h.9M137.0 90.8h.9M116.8 101.9h.9M113.5 100.0h.9M122.2 92.3h.9M119.1 95.3h.9M146.6 91.0h.9M141.5 93.3h.9M116.0 99.1h.9M122.3 91.5h.9M125.2 100.1h.9M141.9 96.8h.9M109.9 99.3h.9M132.2 101.1h.9M145.2 93.4h.9M141.3 100.1h.9M119.5 93.9h.9M123.5 93.8h.9M123.7 90.5h.9M118.0 101.3h.9M124.9 97.6h.9M142.8 99.2h.9M118.7 101.4h.9M139.7 102.4h.9M136.8 99.2h.9M140.0 92.4h.9M134.1 94.1h.9M141.0 90.8h.9M129.7 93.5h.9M140.3 93.7h.9M141.1 100.4h.9M142.5 90.9h.9M144.7 99.0h.9M134.9 97.8h.9M111.3 100.7h.9M130.0 95.2h.9M122.2 99.6h.9M138.8 100.7h.9M117.5 93.6h.9M118.9 90.4h.9M121.8 89.4h.9M139.4 92.1h.9M112.1 89.9h.9M137.3 91.7h.9M126.8 94.4h.9M139.6 101.9h.9M121.1 97.5h.9M143.1 95.4h.9M143.2 98.9h.9M121.2 100.8h.9M131.0 90.4h.9M131.5 100.2h.9M128.9 95.5h.9M125.1 100.9h.9M134.5 91.8h.9M123.1 93.9h.9M145.4 98.4h.9M114.2 101.3h.9M110.8 97.0h.9M125.7 98.7h.9M125.6 90.2h.9M129.1 100.1h.9M139.1 93.8h.9M117.8 99.1h.9M139.6 92.0h.9M142.6 102.4h.9M125.8 94.1h.9M136.1 101.6h.9M117.1 93.1h.9M121.8 98.9h.9M116.5 96.4h.9M128.3 98.0h.9M114.9 101.9h.9M147.0 96.6h.9M139.3 91.5h.9M143.6 96.4h.9M138.0 100.7h.9M123.1 101.5h.9M117.3 89.3h.9M128.3 101.1h.9M143.3 101.9h.9M128.7 101.6h.9M130.5 90.9h.9M133.2 99.8h.9M125.4 97.1h.9M119.2 92.7h.9M125.3 95.9h.9M127.1 90.2h.9M109.7 93.6h.9M136.4 99.1h.9M118.4 92.5h.9M128.9 91.4h.9M132.1 101.2h.9M117.1 96.9h.9M136.5 99.1h.9M136.2 98.6h.9M119.7 100.3h.9M144.2 89.7h.9M144.9 95.0h.9M112.7 89.9h.9M139.4 98.1h.9M114.8 95.2h.9M133.5 102.5h.9M122.1 99.3h.9M118.7 91.7h.9M115.5 94.5h.9M132.7 93.1h.9M115.6 91.9h.9M112.7 91.6h.9M121.3 95.8h.9M116.4 95.5h.9M126.0 102.1h.9M127.7 101.8h.9M127.2 91.7h.9M131.7 91.0h.9M115.8 90.0h.9M135.8 102.1h.9M124.6 93.8h.9M125.4 93.8h.9M135.4 94.3h.9M115.2 100.7h.9M131.0 89.1h.9M141.4 98.8h.9M122.8 97.5h.9M144.0 94.4h.9M125.7 93.0h.9M130.3 97.9h.9M137.1 101.8h.9M114.9 93.9h.9M141.4 99.7h.9M131.6 98.1h.9M122.3 101.8h.9M130.1 94.4h.9M116.3 90.6h.9M143.2 99.8h.9M110.5 93.4h.9M127.5 95.7h.9M123.1 101.1h.9M122.6 96.2h.9M144.4 97.6h.9M127.4 93.5h.9M124.0 97.2h.9M139.0 92.5h.9M123.4 94.2h.9M123.1 101.3h.9M129.7 92.7h.9M122.0 100.1h.9M115.5 98.3h.9M110.3 91.6h.9M111.7 99.9h.9M150.5 97.5h.9M149.0 97.8h.9M160.5 100.8h.9M163.5 102.3h.9M157.4 102.2h.9M149.5 102.2h.9M155.4 97.3h.9M160.7 101.8h.9M154.6 96.6h.9M162.8 101.0h.9M158.1 102.5h.9M148.6 96.4h.9M150.1 96.1h.9M160.0 100.2h.9M149.9 97.1h.9M151.1 100.1h.9M159.4 102.5h.9M154.1 102.6h.9M155.4 98.6h.9M152.3 97.6h.9M164.6 102.7h.9M160.0 97.2h.9M151.1 97.0h.9M154.0 100.9h.9M149.0 99.6h.9M159.6 96.2h.9M155.5 101.3h.9M157.8 99.0h.9M163.0 100.0h.9M153.7 98.7h.9M164.0 101.8h.9M163.6 99.8h.9M150.4 97.2h.9M154.5 100.6h.9M148.1 101.4h.9M161.4 99.4h.9M148.1 101.3h.9M155.0 100.5h.9M157.7 100.9h.9M154.9 102.4h.9" stroke="#000" stroke-width="0.9" fill="none" stroke-opacity="0.8" filter="url(#bl)"/>
<rect x="108.5" y="27.5" width="89.00" height="76.00" fill="none" stroke="#7a7a7a" stroke-width="1"/>
<line x1="197.5" y1="27.5" x2="197.5" y2="103.5" stroke="#555" stroke-width="1"/>
<line x1="108.5" y1="27.5" x2="108.5" y2="103.5" stroke="#111" stroke-width="1.3"/>
<line x1="108.5" y1="103.5" x2="197.5" y2="103.5" stroke="#111" stroke-width="1.3"/>
<line x1="145.5" y1="27.5" x2="145.5" y2="103.5" stroke="#333" stroke-width="1"/>
<line x1="108.5" y1="79.8" x2="197.5" y2="79.8" stroke="#858585" stroke-width="1.1"/>
<path d="M104.9 94.5h3.6M106.1 88.6h2.4M106.1 85.2h2.4M106.1 82.8h2.4M106.1 80.9h2.4M106.1 79.3h2.4M106.1 78.0h2.4M106.1 76.9h2.4M106.1 75.9h2.4M104.9 75.0h3.6M106.1 69.1h2.4M106.1 65.7h2.4M106.1 63.3h2.4M106.1 61.4h2.4M106.1 59.8h2.4M106.1 58.5h2.4M106.1 57.4h2.4M106.1 56.4h2.4M104.9 55.5h3.6M106.1 49.6h2.4M106.1 46.2h2.4M106.1 43.8h2.4M106.1 41.9h2.4M106.1 40.3h2.4M106.1 39.0h2.4M106.1 37.9h2.4M106.1 36.9h2.4M104.9 36.0h3.6M106.1 97.5h2.4M106.1 100.0h2.4M106.1 102.0h2.4M106.1 30.1h2.4M121.3 103.5v5.3M128.0 103.5v3.5M132.0 103.5v3.5M134.8 103.5v3.5M137.0 103.5v3.5M138.7 103.5v3.5M140.2 103.5v3.5M141.5 103.5v3.5M142.7 103.5v3.5M143.7 103.5v5.3M150.4 103.5v3.5M154.4 103.5v3.5M157.2 103.5v3.5M159.4 103.5v3.5M161.1 103.5v3.5M162.6 103.5v3.5M163.9 103.5v3.5M165.1 103.5v3.5M166.1 103.5v5.3M172.8 103.5v3.5M176.8 103.5v3.5M179.6 103.5v3.5M181.8 103.5v3.5M183.5 103.5v3.5M185.0 103.5v3.5M186.3 103.5v3.5M187.5 103.5v3.5M188.5 103.5v5.3M111.5 103.5v3.5M114.5 103.5v3.5M117.5 103.5v3.5" stroke="#111" stroke-width="0.9" fill="none"/>
<text x="117.6" y="115.6" font-size="4.9" fill="#222" font-family="Liberation Sans, sans-serif">10<tspan font-size="4.1" dy="-2.7">2</tspan></text>
<text x="140.0" y="115.6" font-size="4.9" fill="#222" font-family="Liberation Sans, sans-serif">10<tspan font-size="4.1" dy="-2.7">3</tspan></text>
<text x="162.4" y="115.6" font-size="4.9" fill="#222" font-family="Liberation Sans, sans-serif">10<tspan font-size="4.1" dy="-2.7">4</tspan></text>
<text x="184.8" y="115.6" font-size="4.9" fill="#222" font-family="Liberation Sans, sans-serif">10<tspan font-size="4.1" dy="-2.7">5</tspan></text>
<text transform="translate(104.3,97.8) rotate(-90)" font-size="5.5" fill="#222" font-family="Liberation Sans, sans-serif">10<tspan font-size="3.8" dy="-2.3">2</tspan></text>
<text transform="translate(104.3,78.3) rotate(-90)" font-size="5.5" fill="#222" font-family="Liberation Sans, sans-serif">10<tspan font-size="3.8" dy="-2.3">3</tspan></text>
<text transform="translate(104.3,58.8) rotate(-90)" font-size="5.5" fill="#222" font-family="Liberation Sans, sans-serif">10<tspan font-size="3.8" dy="-2.3">4</tspan></text>
<text transform="translate(104.3,39.3) rotate(-90)" font-size="5.5" fill="#222" font-family="Liberation Sans, sans-serif">10<tspan font-size="3.8" dy="-2.3">5</tspan></text>
<path d="M231.4 74.5h.9M236.2 71.5h.9M240.0 71.7h.9M235.5 51.8h.9M247.5 57.2h.9M232.9 63.8h.9M242.1 77.5h.9M248.5 62.9h.9M240.4 68.2h.9M230.6 58.5h.9M245.5 79.1h.9M245.4 55.7h.9M257.0 74.5h.9M233.5 60.8h.9M227.6 73.4h.9M233.4 75.4h.9M249.1 73.8h.9M244.3 56.8h.9M227.6 68.0h.9M226.9 65.6h.9M250.9 53.5h.9M240.3 66.3h.9M231.2 55.5h.9M245.7 54.6h.9M231.3 56.1h.9M256.0 77.7h.9M230.0 67.3h.9M239.5 50.0h.9M234.4 69.8h.9M227.1 79.7h.9M235.5 60.1h.9M256.4 53.5h.9M230.6 64.1h.9M236.4 59.2h.9M244.9 79.4h.9M239.6 50.4h.9M238.2 76.3h.9M240.1 50.9h.9M234.4 56.3h.9M237.5 59.2h.9M247.6 72.0h.9M227.9 53.7h.9M252.4 77.0h.9M251.3 54.7h.9M248.3 51.4h.9M247.8 56.1h.9M253.0 76.0h.9M241.2 72.2h.9M256.3 77.6h.9M246.9 68.7h.9M237.7 70.9h.9M230.9 63.7h.9M229.2 51.9h.9M247.5 62.6h.9M233.0 79.4h.9M235.7 66.3h.9M241.9 54.9h.9M257.8 73.3h.9M254.6 58.6h.9M255.2 78.1h.9M256.2 54.7h.9M231.4 51.7h.9M229.3 71.4h.9M228.1 63.9h.9M237.7 72.3h.9M228.0 72.1h.9M256.7 58.5h.9M239.2 72.7h.9M236.1 76.1h.9M257.9 56.1h.9M241.3 53.7h.9M244.1 61.6h.9M257.1 72.3h.9M257.8 74.9h.9M252.5 61.2h.9M247.4 52.6h.9M237.5 78.5h.9M257.4 54.5h.9M242.1 62.0h.9M246.0 68.0h.9M234.7 77.2h.9M240.7 73.8h.9M249.2 80.4h.9M242.7 67.8h.9M250.8 56.3h.9M227.9 75.0h.9M248.4 73.0h.9M251.7 55.4h.9M254.2 69.5h.9M256.2 66.8h.9M253.8 50.8h.9M231.7 66.7h.9M247.5 61.3h.9M228.8 77.4h.9M228.8 77.4h.9M233.8 71.6h.9M245.2 56.6h.9M236.8 56.7h.9M243.3 57.9h.9M243.6 58.0h.9M230.8 83.2h.9M235.8 83.9h.9M240.9 82.2h.9M252.0 83.8h.9M239.6 83.3h.9M238.3 84.0h.9M237.2 81.6h.9M226.6 82.9h.9M248.7 82.2h.9M241.2 82.5h.9M239.4 82.0h.9M245.8 83.2h.9M227.5 83.7h.9M235.7 82.7h.9M234.2 83.2h.9M240.9 83.0h.9M241.0 82.8h.9M229.6 84.0h.9M241.6 82.3h.9M256.6 82.2h.9M254.6 82.6h.9M230.6 82.9h.9M236.4 82.0h.9M261.6 83.8h.9M243.2 83.5h.9M250.3 82.3h.9M231.1 83.0h.9M233.3 83.4h.9M247.6 82.1h.9M254.1 83.9h.9M243.5 83.9h.9M242.5 81.5h.9M242.9 82.4h.9M259.1 82.8h.9M260.6 81.9h.9M293.5 82.3h.9M283.5 96.7h.9M283.0 86.6h.9M295.0 101.1h.9M289.1 82.1h.9M303.0 96.4h.9M286.2 101.2h.9M308.0 101.4h.9M306.7 93.3h.9M303.0 84.6h.9M301.3 47.1h.9M292.1 45.0h.9M284.4 70.3h.9M304.9 29.5h.9M297.4 30.2h.9M298.4 37.5h.9M310.8 45.3h.9M297.7 42.4h.9M280.2 38.1h.9M250.1 40.3h.9M272.3 41.7h.9M278.1 41.3h.9M241.3 42.6h.9M239.3 39.5h.9M261.1 43.7h.9M245.7 39.8h.9M261.1 42.5h.9M259.1 44.7h.9M248.9 63.2h.9M246.5 56.5h.9M244.3 69.5h.9M256.2 57.2h.9M247.2 57.9h.9M254.2 63.8h.9M241.8 53.5h.9M255.7 67.4h.9M255.6 72.9h.9M244.0 61.9h.9M256.8 67.4h.9M241.5 54.8h.9M235.4 64.5h.9M243.2 65.1h.9M249.8 59.9h.9M249.6 68.3h.9M237.6 54.2h.9M256.8 69.1h.9M235.8 55.1h.9M261.0 69.2h.9M246.9 71.8h.9M260.3 75.5h.9M235.9 49.6h.9M243.7 61.6h.9M245.0 64.4h.9M261.3 72.5h.9M256.9 62.0h.9M250.3 61.8h.9M248.0 70.6h.9M237.9 71.8h.9M250.3 53.0h.9M256.7 62.1h.9M239.4 65.7h.9M239.0 71.3h.9M250.2 61.3h.9M255.8 62.3h.9M257.4 75.6h.9M255.7 52.8h.9M254.1 59.5h.9M250.9 71.3h.9M242.3 64.0h.9M261.2 54.1h.9M246.5 69.0h.9M246.1 71.8h.9M251.5 60.7h.9M251.0 71.2h.9M257.5 58.7h.9M239.5 64.4h.9M255.1 61.6h.9M257.9 58.7h.9M256.8 51.5h.9M231.7 54.3h.9M254.4 65.9h.9M231.4 63.4h.9M254.1 78.0h.9M255.1 66.9h.9M234.1 65.6h.9M230.7 59.2h.9M244.9 52.8h.9M239.1 60.7h.9M253.3 55.9h.9M250.8 68.8h.9M248.0 80.2h.9M245.4 55.1h.9M231.3 72.2h.9M254.2 60.3h.9M250.9 60.8h.9M255.9 61.9h.9M250.2 61.3h.9M253.0 50.2h.9M251.7 68.1h.9M249.5 71.0h.9M242.2 56.5h.9M257.8 71.1h.9M239.6 68.3h.9M258.3 50.0h.9M248.3 60.2h.9M254.4 62.0h.9M229.7 56.9h.9M253.9 66.1h.9M250.0 74.8h.9M234.4 68.2h.9M241.7 67.2h.9M238.8 74.1h.9M247.2 73.8h.9M251.2 70.5h.9M244.6 64.1h.9M244.8 70.6h.9M243.0 72.5h.9M246.6 67.2h.9M255.6 56.5h.9M249.9 65.8h.9M235.6 72.1h.9M256.3 67.5h.9M253.5 65.4h.9M235.7 57.2h.9M255.4 58.9h.9M248.4 65.5h.9M248.9 64.5h.9M252.5 62.0h.9M238.3 59.5h.9M256.6 55.6h.9M252.3 64.9h.9M248.0 54.7h.9M242.6 70.9h.9M241.3 65.3h.9M249.2 63.9h.9M256.7 60.7h.9M245.7 55.7h.9M248.5 62.5h.9M240.0 77.5h.9M241.5 60.7h.9M236.8 63.4h.9M251.3 72.3h.9M256.9 57.3h.9M261.9 78.2h.9M244.5 51.9h.9M252.9 75.6h.9M251.7 72.4h.9M253.4 70.4h.9" stroke="#000" stroke-width="0.9" fill="none" stroke-opacity="0.45" filter="url(#bl)"/>
<path d="M256.7 50.0h.9M249.2 50.3h.9M252.8 50.5h.9M233.2 52.2h.9M248.6 49.8h.9M244.2 51.3h.9M247.3 49.4h.9M240.6 49.4h.9M239.8 50.1h.9M260.1 52.2h.9M250.2 49.2h.9M246.3 55.5h.9M250.2 53.3h.9M243.9 51.4h.9M243.8 52.7h.9M252.4 50.0h.9M237.7 50.8h.9M258.8 50.2h.9M252.5 49.4h.9M250.6 49.4h.9M250.7 52.4h.9M252.3 53.9h.9M236.6 49.4h.9M243.9 53.0h.9M257.2 49.4h.9M240.2 49.8h.9M239.8 53.7h.9M255.8 52.8h.9M257.9 50.2h.9M226.6 50.3h.9M259.0 80.4h.9M247.0 71.6h.9M255.0 62.4h.9M251.3 69.1h.9M256.4 70.3h.9M250.6 51.4h.9M260.8 76.5h.9M249.7 63.7h.9M254.6 57.3h.9M254.3 60.0h.9M245.4 49.9h.9M258.3 63.2h.9M249.5 78.0h.9M248.6 60.7h.9M252.9 76.5h.9M260.8 78.9h.9M256.4 59.2h.9M250.1 49.9h.9M260.5 76.0h.9M253.5 55.5h.9M257.0 68.7h.9M253.9 52.9h.9M254.4 58.6h.9M257.4 69.7h.9M255.6 59.9h.9M262.0 71.4h.9M260.5 72.1h.9M256.9 67.8h.9M247.5 69.9h.9M258.4 65.8h.9M243.9 60.9h.9M257.1 71.1h.9M251.7 71.8h.9M252.7 57.1h.9M250.8 71.3h.9M258.6 53.2h.9M247.2 65.2h.9M245.6 68.0h.9M256.0 58.1h.9M252.8 68.7h.9M242.7 63.8h.9M256.5 72.9h.9M259.9 63.3h.9M244.5 76.9h.9M257.5 57.9h.9M259.1 74.0h.9M250.2 56.8h.9M248.1 63.2h.9M246.6 67.7h.9M259.1 58.9h.9M256.2 62.8h.9M260.5 57.2h.9M257.3 56.6h.9M254.3 63.9h.9M245.1 77.3h.9M255.3 80.3h.9M246.9 66.0h.9M256.5 80.9h.9M252.7 59.7h.9M257.2 63.0h.9M248.6 71.3h.9M241.8 54.3h.9M261.0 59.2h.9M251.1 67.6h.9M259.6 69.1h.9M247.3 58.6h.9M259.2 62.9h.9M249.3 72.4h.9M246.7 57.2h.9M248.9 67.4h.9M250.2 74.7h.9M237.2 73.2h.9M249.2 61.4h.9M256.3 65.9h.9M247.1 78.4h.9M256.4 59.3h.9M254.2 53.4h.9M245.8 61.1h.9M255.1 65.0h.9M248.5 50.7h.9M243.2 79.3h.9M255.2 56.3h.9M260.0 69.2h.9M250.6 58.1h.9M259.7 67.1h.9M249.6 58.3h.9M248.9 66.4h.9M254.5 69.8h.9M255.6 53.9h.9M251.8 55.0h.9M255.8 51.4h.9M249.6 55.8h.9M249.4 61.5h.9M261.8 61.5h.9M244.6 61.1h.9M257.4 69.3h.9M259.5 64.9h.9M260.1 51.2h.9M252.0 55.7h.9M254.0 79.5h.9M250.1 79.3h.9M247.0 77.7h.9M243.1 55.9h.9M258.8 63.1h.9M253.8 63.9h.9M254.1 62.3h.9M247.3 61.2h.9M253.6 55.4h.9M255.7 80.9h.9M243.4 58.8h.9M251.4 64.2h.9M253.6 57.0h.9M252.8 64.1h.9M252.5 78.8h.9M253.8 49.8h.9M243.9 69.7h.9M251.0 58.1h.9M245.1 61.0h.9M252.5 57.4h.9M251.0 72.5h.9M257.6 69.2h.9M252.0 51.0h.9M257.5 78.4h.9M260.4 75.2h.9M254.6 67.6h.9M252.9 76.0h.9M257.5 60.9h.9M248.7 61.1h.9M258.4 64.7h.9M251.3 70.0h.9M241.4 73.1h.9M252.6 65.5h.9M256.9 59.3h.9M253.7 68.8h.9M251.0 67.7h.9M254.9 70.9h.9M247.3 58.9h.9M250.5 75.5h.9M255.0 51.6h.9M247.7 65.4h.9M261.3 79.5h.9M250.9 61.1h.9M253.6 76.4h.9M255.8 56.0h.9M244.1 64.2h.9M256.0 77.1h.9M237.8 76.9h.9M256.6 78.6h.9M257.6 66.0h.9M255.5 67.8h.9M249.3 62.9h.9M253.7 59.7h.9M244.5 50.1h.9M255.9 69.0h.9M253.6 52.8h.9M258.0 60.2h.9M240.9 79.0h.9M256.1 59.8h.9M239.3 57.2h.9M261.6 77.1h.9M250.8 61.3h.9M255.7 62.8h.9M249.3 77.9h.9M244.5 72.9h.9M244.9 76.0h.9M242.2 67.2h.9M250.6 75.9h.9M259.9 65.8h.9M250.2 54.6h.9M255.4 62.9h.9M268.5 49.1h.9M270.2 62.0h.9M276.2 58.5h.9M262.6 53.7h.9M270.8 65.2h.9M274.9 59.7h.9M273.9 64.2h.9M280.0 62.5h.9M271.8 67.9h.9M277.5 55.0h.9M268.5 60.6h.9M259.6 74.3h.9M276.7 63.2h.9M275.8 50.7h.9M279.2 66.6h.9M264.6 63.5h.9M275.0 71.5h.9M271.9 58.5h.9M275.1 56.4h.9M270.6 69.6h.9M263.3 66.3h.9M260.5 55.0h.9M264.4 62.2h.9M274.8 62.6h.9M275.9 63.8h.9M269.9 67.3h.9M269.7 64.2h.9M276.6 58.1h.9M277.2 53.4h.9M268.2 76.8h.9M272.9 74.0h.9M263.1 54.2h.9M273.5 70.2h.9M273.7 62.4h.9M271.6 67.1h.9M265.3 50.4h.9M264.0 61.8h.9M278.0 56.8h.9M266.9 53.0h.9M261.8 63.6h.9M268.4 60.9h.9M265.9 67.2h.9M264.6 67.8h.9M267.5 69.8h.9M266.3 66.8h.9M273.4 62.3h.9M279.7 64.5h.9M266.3 69.0h.9M266.6 58.3h.9M271.1 64.6h.9M269.6 72.8h.9M270.1 65.8h.9M279.2 52.3h.9M271.2 69.9h.9M265.7 64.7h.9M272.0 79.0h.9M278.1 49.6h.9M276.6 71.0h.9M279.7 61.7h.9M268.0 64.3h.9M279.3 68.4h.9M280.1 69.8h.9M267.9 54.2h.9M280.9 49.8h.9M269.1 60.2h.9M266.1 58.0h.9M270.7 58.4h.9M271.7 71.2h.9M266.6 59.5h.9M261.6 69.1h.9M274.6 76.1h.9M275.7 60.6h.9M268.9 60.3h.9M264.5 69.7h.9M267.7 56.7h.9M273.8 64.0h.9M267.9 61.0h.9M268.4 74.7h.9M276.4 56.7h.9M270.8 74.9h.9M269.5 78.5h.9M273.4 68.8h.9M259.9 70.4h.9M272.8 68.1h.9M273.6 67.6h.9M268.3 70.8h.9M271.3 53.9h.9M265.5 64.4h.9M259.9 72.2h.9M262.8 60.8h.9M267.8 67.9h.9M278.6 77.1h.9M265.6 73.8h.9M264.5 65.7h.9M271.9 68.4h.9M266.7 74.7h.9M270.6 62.8h.9M269.6 53.7h.9M274.9 65.9h.9M273.4 79.3h.9M266.3 60.5h.9M271.0 70.5h.9M270.0 71.2h.9M269.5 59.4h.9M274.2 64.5h.9M270.7 74.0h.9M274.2 52.3h.9M267.3 65.9h.9M280.1 61.3h.9M270.1 65.3h.9M275.2 62.2h.9M272.6 59.3h.9M268.0 56.1h.9M274.5 58.1h.9M274.0 66.5h.9M265.8 52.3h.9M270.1 70.0h.9M278.3 66.3h.9M268.9 67.7h.9M259.3 71.1h.9M271.0 68.4h.9M265.5 53.4h.9M267.5 62.6h.9M272.9 59.9h.9M272.9 68.9h.9M264.8 62.1h.9M262.6 58.2h.9M275.9 56.8h.9M281.0 67.4h.9M275.8 63.9h.9M275.6 72.6h.9M271.6 58.4h.9M268.0 79.9h.9M270.0 59.0h.9M268.3 65.8h.9M268.4 56.4h.9M273.2 67.0h.9M268.7 65.7h.9M265.8 70.5h.9M265.7 60.1h.9M271.7 59.3h.9M271.7 51.9h.9M272.7 51.6h.9M274.1 67.7h.9M280.2 73.5h.9M268.5 71.3h.9M268.5 62.0h.9M269.7 67.6h.9M271.6 49.2h.9M267.5 69.0h.9M276.9 77.0h.9M261.2 67.0h.9M268.4 69.7h.9M261.9 61.8h.9M274.8 57.4h.9M269.1 54.4h.9M277.0 51.4h.9M266.1 60.1h.9M272.5 55.7h.9M274.1 66.0h.9M272.5 62.4h.9M273.5 52.7h.9M264.5 59.3h.9M265.1 69.1h.9M281.4 73.8h.9M273.4 66.0h.9M267.3 51.6h.9M273.9 50.0h.9M272.6 61.8h.9M275.0 63.4h.9M271.6 57.9h.9M261.7 60.0h.9M274.7 72.2h.9M278.4 54.3h.9M266.0 69.1h.9M272.7 49.7h.9M268.0 76.8h.9M261.2 64.3h.9M263.5 77.0h.9M268.6 54.0h.9M261.8 56.8h.9M257.3 58.8h.9M269.6 52.8h.9M272.8 58.9h.9M266.4 75.1h.9M273.4 55.2h.9M278.9 62.5h.9M273.7 64.3h.9M277.3 68.4h.9M269.1 69.3h.9M268.9 64.2h.9M279.8 53.7h.9M265.4 59.5h.9M268.3 74.4h.9M279.5 59.1h.9M272.0 59.8h.9M274.6 68.8h.9M275.0 69.7h.9M281.4 61.5h.9M274.8 61.4h.9M271.2 64.9h.9M270.7 66.0h.9M266.4 61.7h.9M267.7 52.8h.9M267.2 58.6h.9M270.2 49.3h.9M269.6 53.1h.9M266.6 64.7h.9M277.0 65.5h.9M268.4 59.1h.9M277.1 49.8h.9M267.6 63.4h.9M269.8 77.6h.9M273.7 62.6h.9M276.1 63.3h.9M266.7 72.9h.9M279.1 74.2h.9M264.7 79.7h.9M268.8 69.7h.9M262.3 54.0h.9M277.3 67.3h.9M273.4 61.4h.9M257.5 58.1h.9M271.0 65.0h.9M275.1 60.7h.9M266.2 59.8h.9M259.7 53.2h.9M270.6 79.7h.9M276.7 64.1h.9M275.0 60.6h.9M266.1 71.8h.9M271.7 77.1h.9M269.6 59.7h.9M272.9 61.3h.9M269.3 55.1h.9M272.4 65.8h.9M280.9 62.8h.9M261.5 67.1h.9M266.7 61.5h.9M255.6 60.1h.9M270.0 49.7h.9M274.1 55.3h.9M261.0 56.7h.9M274.4 79.9h.9M277.7 64.7h.9M268.2 60.7h.9M276.2 58.4h.9M273.2 71.5h.9M266.1 57.8h.9M273.4 63.1h.9M270.3 58.3h.9M270.7 79.3h.9M271.3 63.8h.9M271.2 50.8h.9M270.3 64.3h.9M267.3 65.8h.9M257.9 49.7h.9M271.5 66.4h.9M270.1 59.0h.9M272.0 72.5h.9M275.9 62.3h.9M268.5 72.4h.9M273.9 70.8h.9M269.5 55.4h.9M272.0 57.5h.9M277.2 70.5h.9M259.2 68.9h.9M278.2 72.1h.9M268.4 55.4h.9M276.2 71.9h.9M271.3 52.8h.9M262.8 65.4h.9M266.5 57.0h.9M273.4 72.2h.9M259.9 57.1h.9M278.0 62.6h.9M269.2 68.6h.9M264.9 52.2h.9M271.1 76.8h.9M276.5 63.0h.9M276.5 59.4h.9M272.5 70.9h.9M273.0 62.7h.9M268.8 72.6h.9M270.7 50.3h.9M278.4 57.3h.9M273.1 63.0h.9M276.7 65.2h.9M277.6 64.9h.9M268.5 58.5h.9M274.5 55.7h.9M276.0 60.9h.9M266.0 55.3h.9M270.2 78.6h.9M275.2 63.2h.9M266.1 79.8h.9M269.5 63.0h.9M268.7 74.8h.9M272.0 59.0h.9M272.0 54.2h.9M265.3 61.6h.9M255.5 73.4h.9M270.2 49.1h.9M271.9 64.9h.9M275.0 51.2h.9M267.8 57.3h.9M269.9 62.6h.9M268.3 70.0h.9M279.3 53.5h.9M276.7 63.2h.9M277.8 72.3h.9M271.7 58.6h.9M273.4 63.3h.9M267.0 62.3h.9M272.7 59.4h.9M270.8 63.5h.9M276.7 62.0h.9M256.9 50.1h.9M273.2 62.2h.9M271.0 56.6h.9M268.7 70.3h.9M272.9 62.8h.9M268.4 64.9h.9M277.4 62.8h.9M269.0 52.6h.9M271.5 54.9h.9M263.2 70.7h.9M267.1 79.3h.9M270.4 51.3h.9M265.0 69.4h.9M273.2 64.9h.9M269.9 67.3h.9M279.3 67.3h.9M270.1 50.6h.9M273.4 76.9h.9M274.5 51.9h.9M272.0 74.5h.9M267.6 67.4h.9M277.5 77.5h.9M273.0 69.2h.9M269.1 62.8h.9M268.8 73.6h.9M259.0 65.3h.9M264.1 57.0h.9M262.7 55.0h.9M270.9 63.2h.9M280.7 61.0h.9M272.9 66.1h.9M272.4 76.0h.9M271.8 64.3h.9M270.4 63.0h.9M270.7 71.8h.9M271.1 63.6h.9M270.7 69.7h.9M268.4 71.3h.9M267.9 69.1h.9M281.4 65.1h.9M270.5 52.5h.9M275.0 63.1h.9M275.9 57.2h.9M273.8 79.0h.9M273.2 60.1h.9M263.9 62.9h.9M274.6 68.3h.9M264.9 53.9h.9M265.7 54.0h.9M269.5 65.4h.9M281.4 64.7h.9M279.4 70.1h.9M273.4 70.3h.9M274.4 80.0h.9M261.5 77.3h.9M270.5 74.7h.9M269.1 57.2h.9M269.1 65.8h.9M272.0 57.5h.9M273.9 68.5h.9M266.0 53.1h.9M260.3 60.3h.9M271.1 56.8h.9M267.7 61.8h.9M271.2 68.1h.9M275.5 66.9h.9M277.1 54.4h.9M274.3 66.3h.9M265.3 57.0h.9M273.4 63.7h.9M264.2 58.1h.9M279.3 70.5h.9M271.4 75.0h.9M266.1 61.5h.9M276.2 60.0h.9M264.9 68.2h.9M271.8 51.9h.9M269.4 50.4h.9M271.2 56.7h.9M265.6 59.0h.9M272.1 78.6h.9M272.6 76.9h.9M265.2 63.6h.9M268.6 49.1h.9M272.3 56.3h.9M267.9 53.8h.9M276.6 59.4h.9M270.2 64.6h.9M264.3 65.1h.9M270.1 67.0h.9M268.9 63.3h.9M273.8 71.6h.9M267.3 71.6h.9M265.6 61.3h.9M271.7 64.3h.9M257.4 54.3h.9M270.0 71.2h.9M267.2 76.4h.9M261.2 63.7h.9M273.9 63.2h.9M272.4 71.3h.9M266.6 68.2h.9M276.8 60.9h.9M258.4 52.4h.9M266.4 53.6h.9M273.3 55.8h.9M263.9 60.5h.9M279.3 69.0h.9M265.5 72.2h.9M268.0 68.3h.9M274.1 59.0h.9M270.2 73.3h.9M273.7 62.5h.9M273.4 78.5h.9M276.1 67.2h.9M272.8 49.1h.9M271.7 58.7h.9M275.0 57.6h.9M273.4 53.6h.9M275.9 56.5h.9M270.8 68.1h.9M269.2 63.1h.9M276.8 78.7h.9M261.2 55.0h.9M274.7 71.4h.9M268.4 63.8h.9M269.9 52.4h.9M262.6 51.6h.9M278.1 59.5h.9M273.1 68.7h.9M275.3 71.2h.9M265.7 58.0h.9M268.0 63.9h.9M269.6 52.0h.9M267.2 78.9h.9M273.1 62.7h.9M266.4 69.3h.9M270.6 77.8h.9M273.5 60.2h.9M256.6 62.1h.9M275.6 56.7h.9M275.8 69.1h.9M261.4 61.3h.9M272.7 69.7h.9M271.8 62.9h.9M269.1 60.4h.9M271.0 53.6h.9M274.5 60.1h.9M273.8 58.5h.9M273.2 64.1h.9M275.8 67.1h.9M276.1 61.5h.9M270.7 60.7h.9M264.2 61.9h.9M276.9 69.8h.9M266.4 65.7h.9M275.1 50.9h.9M272.9 65.9h.9M275.1 65.3h.9M277.9 74.2h.9M271.5 52.8h.9M278.4 62.7h.9M273.8 67.2h.9M276.2 72.0h.9M263.3 50.5h.9M271.8 63.1h.9M275.2 61.8h.9M270.0 81.0h.9M278.5 73.3h.9M276.6 56.0h.9M270.5 62.4h.9M265.1 55.3h.9M271.9 52.2h.9M273.9 67.2h.9M269.7 60.0h.9M274.3 67.3h.9M273.0 52.2h.9M267.5 59.8h.9M261.1 55.9h.9M267.0 70.1h.9M256.6 50.6h.9M268.8 58.6h.9M266.8 59.1h.9M262.4 65.4h.9M277.5 64.4h.9M268.1 74.2h.9M273.7 53.9h.9M267.9 57.6h.9M270.8 73.7h.9M267.2 61.7h.9M271.6 52.5h.9M268.4 68.4h.9M274.8 60.4h.9M278.0 68.5h.9M268.9 55.6h.9M263.2 67.9h.9M273.8 70.2h.9M272.9 49.8h.9M268.8 60.9h.9M271.9 69.8h.9M278.7 65.5h.9M259.8 54.0h.9M259.4 56.2h.9M264.5 65.1h.9M269.8 72.9h.9M276.9 59.0h.9M276.1 63.1h.9M273.5 74.9h.9M264.8 62.4h.9M279.4 56.3h.9M272.2 64.2h.9M268.7 51.4h.9M267.3 54.3h.9M276.9 65.2h.9M274.8 52.5h.9M273.7 64.3h.9M276.7 56.6h.9M275.4 75.1h.9M280.8 54.8h.9M264.9 50.1h.9M276.2 68.3h.9M272.9 55.4h.9M277.8 77.2h.9M270.8 61.9h.9M277.5 67.5h.9M278.3 59.4h.9M272.8 60.0h.9M267.9 60.4h.9M269.5 67.5h.9M269.4 63.6h.9M266.6 52.2h.9M278.8 54.3h.9M280.9 71.3h.9M258.6 57.4h.9M268.7 63.2h.9M270.0 57.7h.9M277.8 61.9h.9M276.2 57.0h.9M267.3 74.8h.9M269.5 53.3h.9M270.1 72.3h.9M270.1 56.7h.9M274.5 71.7h.9M269.9 60.2h.9M270.0 78.4h.9M270.2 66.6h.9M259.9 64.6h.9M271.3 60.2h.9M268.8 51.0h.9M262.9 64.5h.9M267.5 62.2h.9M270.0 58.5h.9M267.1 79.4h.9M265.0 58.5h.9M269.4 52.8h.9M265.8 70.6h.9M276.1 64.2h.9M277.7 55.8h.9M276.9 77.8h.9M269.0 78.9h.9M266.6 53.0h.9M270.8 55.9h.9M274.5 53.3h.9M270.8 72.3h.9M269.6 65.8h.9M276.9 53.4h.9M264.1 63.7h.9M272.5 60.7h.9M265.7 73.7h.9M264.7 60.7h.9M270.8 69.4h.9M268.6 55.8h.9M275.3 61.7h.9M268.4 62.6h.9M269.6 65.7h.9M257.2 62.8h.9M271.4 54.5h.9M281.0 68.6h.9M272.3 60.3h.9M278.6 59.1h.9M266.6 69.1h.9M265.8 56.1h.9M270.7 64.1h.9M272.4 50.2h.9M269.8 60.1h.9M281.5 71.8h.9M266.9 70.7h.9M274.6 62.0h.9M269.7 60.6h.9M262.6 57.5h.9M276.1 75.7h.9M281.1 59.7h.9M269.6 51.9h.9M265.4 53.3h.9M273.2 70.4h.9M266.0 78.8h.9M271.9 55.7h.9M272.9 62.9h.9M275.5 66.0h.9M267.6 69.9h.9M275.2 54.2h.9M267.0 55.9h.9M257.6 68.6h.9M269.9 73.8h.9M268.0 63.7h.9M275.0 71.5h.9M272.8 53.9h.9M278.4 77.2h.9M278.6 66.7h.9M273.6 68.6h.9M262.9 70.1h.9M265.7 66.7h.9M265.5 69.3h.9M272.1 67.5h.9M266.1 60.5h.9M270.7 60.5h.9M268.7 55.3h.9M275.2 59.6h.9M266.6 66.2h.9M266.6 61.5h.9M268.3 54.9h.9M269.8 55.8h.9M264.2 66.1h.9M269.4 50.2h.9M268.9 64.6h.9M273.4 66.3h.9M272.4 68.2h.9M268.4 56.0h.9M274.4 59.4h.9M271.1 68.7h.9M276.1 73.7h.9M267.3 59.8h.9M274.1 50.5h.9M264.2 68.3h.9M267.7 54.9h.9M275.4 67.7h.9M276.0 60.1h.9M269.5 60.0h.9M267.3 69.2h.9M266.8 62.4h.9M271.7 67.6h.9M268.5 53.1h.9M271.6 61.3h.9M281.3 80.9h.9M276.3 54.1h.9M266.7 56.4h.9M268.3 65.3h.9M266.8 60.9h.9M279.0 75.6h.9M261.0 54.7h.9M269.0 74.4h.9M269.3 79.7h.9M273.0 75.6h.9M266.4 60.3h.9M276.6 68.0h.9M261.0 60.6h.9M272.0 68.5h.9M267.6 78.2h.9M271.9 75.7h.9M273.2 63.7h.9M269.3 52.8h.9M275.7 69.6h.9M276.1 59.7h.9M265.6 59.7h.9M269.4 62.9h.9M276.4 55.0h.9M268.4 69.0h.9M273.9 55.6h.9M265.4 56.1h.9M271.4 65.2h.9M270.7 57.7h.9M270.1 62.3h.9M274.3 63.7h.9M266.7 52.8h.9M279.1 62.3h.9M270.1 62.8h.9M277.2 60.3h.9M272.0 60.9h.9M274.2 54.2h.9M272.2 72.0h.9M277.5 68.4h.9M272.7 76.7h.9M274.9 75.2h.9M264.6 53.4h.9M275.4 60.7h.9M268.7 54.7h.9M279.1 52.6h.9M271.6 50.9h.9M265.6 77.2h.9M272.9 53.6h.9M263.2 72.8h.9M267.1 53.7h.9M272.0 61.4h.9M277.1 63.8h.9M279.7 72.9h.9M280.7 72.8h.9M271.5 67.8h.9M271.2 49.5h.9M264.7 69.5h.9M258.3 55.8h.9M264.2 62.5h.9M265.5 65.2h.9M270.0 58.9h.9M271.5 51.8h.9M269.5 66.2h.9M276.7 69.1h.9M279.0 50.7h.9M274.7 76.7h.9M273.2 53.4h.9M273.2 58.5h.9M267.6 72.3h.9M270.1 53.3h.9M267.4 80.1h.9M266.5 68.9h.9M272.0 73.2h.9M269.6 54.8h.9M267.6 54.1h.9M269.4 74.0h.9M274.6 61.4h.9M274.4 65.4h.9M277.1 77.4h.9M269.4 62.7h.9M270.1 73.7h.9M273.2 69.8h.9M275.9 57.5h.9M271.8 75.1h.9M276.1 70.1h.9M269.6 59.9h.9M266.5 60.7h.9M270.7 50.6h.9M277.3 56.4h.9M272.4 68.3h.9M276.3 66.6h.9M269.7 72.9h.9M275.9 54.7h.9M269.7 75.3h.9M266.6 70.2h.9M263.0 60.5h.9M276.2 78.0h.9M273.5 69.6h.9M261.9 79.5h.9M271.4 65.3h.9M271.2 57.7h.9M271.0 61.9h.9M274.7 68.9h.9M276.4 68.1h.9M265.9 75.1h.9M256.8 64.0h.9M272.9 58.4h.9M281.1 53.5h.9M264.8 58.6h.9M273.3 69.9h.9M271.7 68.8h.9M267.3 57.8h.9M271.8 51.3h.9M272.1 59.6h.9M274.8 54.2h.9M268.3 58.1h.9M269.1 54.3h.9M269.7 51.3h.9M274.0 68.9h.9M271.0 61.4h.9M266.3 54.7h.9M269.9 55.2h.9M264.8 64.5h.9M271.0 59.5h.9M266.7 62.6h.9M267.4 59.3h.9M272.1 69.3h.9M275.1 57.7h.9M277.5 53.0h.9M270.2 74.4h.9M269.2 59.8h.9M264.6 61.8h.9M268.8 56.5h.9M277.5 56.3h.9M280.1 70.3h.9M274.5 57.9h.9M272.5 60.7h.9M273.2 57.2h.9M273.7 50.0h.9M259.4 67.2h.9M277.9 60.0h.9M270.2 49.6h.9M265.8 69.2h.9M267.2 62.7h.9M270.3 80.3h.9M275.8 51.5h.9M268.5 53.0h.9M263.7 57.1h.9M276.9 63.4h.9M274.7 61.8h.9M268.8 63.7h.9M270.7 79.8h.9M280.6 66.3h.9M266.8 70.1h.9M277.6 59.6h.9M269.9 59.1h.9M275.3 63.2h.9M279.1 73.3h.9M269.4 57.7h.9M269.8 55.4h.9M268.8 62.4h.9M275.8 49.3h.9M263.6 56.3h.9M269.5 67.0h.9M266.9 76.2h.9M268.3 61.1h.9M271.4 73.2h.9M272.7 63.2h.9M268.2 64.5h.9M273.2 60.0h.9M268.3 73.3h.9M278.6 62.4h.9M259.6 79.0h.9M268.9 71.8h.9M267.8 75.0h.9M277.2 53.7h.9M269.9 52.5h.9M272.5 59.5h.9M263.1 53.9h.9M272.4 49.7h.9M276.8 66.9h.9M270.1 75.2h.9M266.2 69.0h.9M263.9 60.2h.9M274.5 58.3h.9M270.5 68.7h.9M279.1 74.4h.9M273.5 60.7h.9M263.4 78.0h.9M275.7 62.6h.9M274.8 65.8h.9M270.0 63.0h.9M270.9 73.2h.9M269.7 58.3h.9M274.5 68.6h.9M273.4 65.5h.9M278.9 72.7h.9M272.2 61.2h.9M268.3 56.8h.9M272.0 59.6h.9M271.0 60.2h.9M277.6 70.3h.9M276.0 73.6h.9M269.1 57.2h.9M267.2 63.9h.9M276.4 53.8h.9M268.2 51.3h.9M272.2 52.4h.9M265.6 57.4h.9M271.2 51.9h.9M269.9 73.7h.9M271.1 63.9h.9M260.0 60.6h.9M270.3 56.9h.9M263.7 62.4h.9M265.6 58.2h.9M262.6 62.2h.9M275.9 55.6h.9M272.8 49.7h.9M274.1 67.8h.9M269.0 70.8h.9M266.4 63.4h.9M280.0 62.8h.9M265.1 73.1h.9M273.9 60.6h.9M263.0 76.0h.9M272.6 55.5h.9M277.1 75.8h.9M266.6 67.2h.9M262.4 66.3h.9M280.6 50.6h.9M271.4 57.4h.9M270.6 63.8h.9M272.5 70.8h.9M273.8 72.2h.9M276.4 72.6h.9M267.5 66.6h.9M269.1 55.6h.9M281.4 65.6h.9M269.8 69.8h.9M270.0 58.2h.9M278.8 60.3h.9M269.3 62.1h.9M269.8 72.2h.9M274.1 62.4h.9M269.1 61.0h.9M280.0 60.3h.9M274.5 49.2h.9M272.7 69.0h.9M277.8 65.8h.9M274.1 65.8h.9M276.7 81.0h.9M272.1 55.8h.9M274.2 62.0h.9M274.4 69.8h.9M271.9 59.1h.9M272.7 52.1h.9M272.5 55.2h.9M273.4 64.1h.9M269.9 52.4h.9M271.3 57.0h.9M270.3 69.1h.9M276.1 51.7h.9M276.0 75.0h.9M277.0 65.4h.9M270.6 78.3h.9M269.4 49.6h.9M271.5 65.5h.9M265.6 52.3h.9M281.5 64.0h.9M275.2 57.9h.9M263.1 61.4h.9M278.1 57.1h.9M261.6 61.5h.9M269.6 63.1h.9M265.6 60.3h.9M268.2 70.8h.9M271.9 70.7h.9M260.8 67.7h.9M275.7 70.7h.9M268.5 66.6h.9M278.3 60.0h.9M268.1 56.2h.9M276.4 70.6h.9M261.5 73.7h.9M266.2 50.1h.9M262.7 56.6h.9M264.5 57.1h.9M271.9 66.7h.9M268.5 49.1h.9M268.9 57.0h.9M260.9 51.4h.9M281.1 51.3h.9M269.5 50.8h.9M263.6 52.8h.9M273.8 50.3h.9M260.4 50.7h.9M277.5 50.1h.9M272.9 52.4h.9M273.3 53.6h.9M263.5 52.6h.9M278.8 51.0h.9M275.4 51.2h.9M273.2 49.9h.9M269.6 53.9h.9M270.4 50.9h.9M279.5 53.4h.9M269.6 51.6h.9M265.8 51.3h.9M274.0 51.0h.9M273.1 51.9h.9M272.5 49.8h.9M266.1 50.4h.9M268.0 49.8h.9M264.7 52.2h.9M265.9 53.2h.9M277.7 52.4h.9M278.5 50.8h.9M261.1 50.8h.9M264.5 53.7h.9M274.8 54.3h.9M276.2 51.2h.9M274.7 53.1h.9M271.9 50.5h.9M274.0 50.2h.9M278.6 50.0h.9M273.1 50.5h.9M272.6 49.6h.9M278.9 52.5h.9M275.6 53.9h.9M276.9 50.6h.9M265.6 52.4h.9M273.8 51.7h.9M271.3 52.5h.9M277.0 49.6h.9M272.3 54.2h.9M267.4 55.3h.9M280.9 51.9h.9M268.4 53.2h.9M278.1 50.9h.9M263.7 50.5h.9M275.7 55.2h.9M261.0 51.4h.9M280.0 49.4h.9M276.9 53.0h.9M275.8 51.6h.9M278.3 50.7h.9M276.6 53.0h.9M280.3 52.3h.9M272.6 52.7h.9M265.5 49.6h.9M271.1 51.2h.9M267.3 53.4h.9M261.4 57.9h.9M265.3 55.1h.9M264.4 51.1h.9M273.8 50.0h.9M272.2 51.4h.9M264.9 51.1h.9M265.7 52.6h.9M280.6 53.6h.9M268.1 50.8h.9M273.4 50.5h.9M274.6 53.7h.9M275.6 51.0h.9M270.8 55.4h.9M264.3 55.9h.9M276.8 51.2h.9M267.4 55.5h.9M279.8 53.2h.9M272.7 50.2h.9M267.5 51.2h.9M275.5 52.3h.9M275.6 52.5h.9M273.3 52.8h.9M275.3 54.3h.9M265.5 49.3h.9M268.2 54.4h.9M274.0 50.7h.9M268.4 51.1h.9M280.3 50.2h.9M280.7 49.5h.9M280.4 49.9h.9M272.5 52.0h.9M277.9 53.3h.9M271.5 52.9h.9M265.4 52.1h.9M266.4 52.0h.9M269.0 54.8h.9M272.2 51.3h.9M261.8 58.1h.9M281.1 55.3h.9M267.2 51.8h.9M266.3 53.1h.9M266.7 50.6h.9M280.5 52.3h.9M261.8 54.0h.9M275.4 51.1h.9M280.2 51.4h.9M267.4 50.7h.9M271.5 51.0h.9M273.9 50.4h.9M259.9 49.9h.9M281.0 54.1h.9M265.8 56.1h.9M260.8 50.4h.9M279.6 52.1h.9M262.6 49.3h.9M267.1 53.9h.9M266.6 53.2h.9M259.6 51.5h.9M271.3 53.0h.9M264.6 53.3h.9M261.5 50.9h.9M270.7 51.3h.9M265.6 53.1h.9M265.8 49.6h.9M276.8 51.3h.9M267.1 54.1h.9M275.4 53.6h.9M270.9 54.2h.9M280.2 52.8h.9M261.1 51.4h.9M277.6 50.1h.9M274.8 49.5h.9M271.6 50.8h.9M264.7 51.8h.9M268.7 52.3h.9M276.9 51.7h.9M276.8 50.2h.9M269.7 54.2h.9M261.0 55.4h.9M275.4 50.9h.9M272.6 52.5h.9M267.0 51.7h.9M273.3 51.2h.9M276.3 52.4h.9M276.6 53.0h.9M265.1 54.0h.9M263.8 52.7h.9M278.0 53.5h.9M274.5 52.2h.9M272.2 50.1h.9M271.0 50.6h.9M271.8 51.2h.9M267.5 49.4h.9M266.3 55.0h.9M278.1 50.5h.9M276.0 59.3h.9M265.7 52.2h.9M268.1 54.7h.9M279.3 50.7h.9M276.0 49.0h.9M261.7 53.1h.9M265.7 50.5h.9M279.9 51.1h.9M271.9 51.1h.9M277.6 50.9h.9M273.1 50.8h.9M264.8 54.4h.9M269.2 51.1h.9M263.7 51.4h.9M264.6 51.4h.9M266.3 54.7h.9M265.1 53.6h.9M262.0 54.7h.9M267.6 52.6h.9M263.9 52.4h.9M280.0 51.7h.9M274.1 50.6h.9M269.1 51.6h.9M271.2 49.3h.9M264.2 51.0h.9M267.0 53.2h.9M275.4 50.1h.9M265.2 49.2h.9M271.9 51.2h.9M278.3 49.1h.9M277.0 49.4h.9M278.4 50.8h.9M267.6 53.0h.9M268.0 52.7h.9M261.3 53.5h.9M268.6 49.4h.9M266.4 53.0h.9M273.0 52.9h.9M263.2 52.2h.9M272.2 51.2h.9M266.7 53.6h.9M275.2 53.9h.9M269.7 52.7h.9M270.8 51.4h.9M263.3 49.2h.9M258.5 49.4h.9M267.0 49.3h.9M271.3 50.8h.9M267.2 49.2h.9M280.5 54.6h.9M270.2 52.8h.9M275.0 51.3h.9M271.1 54.0h.9M275.7 50.4h.9M270.5 53.3h.9M268.1 49.2h.9M270.2 49.8h.9M280.2 51.9h.9M271.4 49.7h.9M281.2 52.1h.9M270.6 49.6h.9M270.1 51.5h.9M277.2 52.2h.9M265.3 49.5h.9M262.1 53.9h.9M269.9 53.4h.9M268.1 53.2h.9M268.4 52.0h.9M265.0 54.5h.9M274.8 53.6h.9M270.2 54.2h.9M272.5 49.8h.9M267.8 51.1h.9M272.8 52.8h.9M270.1 53.1h.9M267.8 51.4h.9M256.5 52.5h.9M277.5 52.4h.9M276.2 55.5h.9M269.6 53.7h.9M281.4 52.2h.9M260.4 50.6h.9M271.6 52.9h.9M270.3 50.5h.9M265.8 51.1h.9M279.3 52.5h.9M272.5 49.8h.9M280.0 53.2h.9M260.7 51.8h.9M256.3 54.7h.9M276.0 49.4h.9M263.6 50.2h.9M260.6 52.4h.9M271.9 54.0h.9M263.7 50.1h.9M268.4 51.5h.9M277.5 51.8h.9M276.8 54.0h.9M272.3 51.6h.9M274.6 52.2h.9M265.1 50.3h.9M271.0 51.1h.9M267.1 50.7h.9M273.9 51.5h.9M275.8 53.1h.9M275.6 53.4h.9M277.5 54.5h.9M276.1 49.4h.9M280.1 52.8h.9M274.8 50.1h.9M264.8 52.2h.9M275.7 49.0h.9M271.9 51.6h.9M273.0 52.3h.9M277.0 50.1h.9M261.4 56.4h.9M276.9 52.5h.9M268.0 56.9h.9M256.7 54.2h.9M271.7 51.8h.9M274.1 50.4h.9M269.4 55.6h.9M277.7 50.0h.9M255.7 49.4h.9M257.5 61.4h.9M258.6 66.8h.9M262.6 67.6h.9M264.1 73.8h.9M257.6 53.5h.9M259.7 71.7h.9M251.8 51.8h.9M260.8 58.0h.9M263.8 64.9h.9M255.8 51.0h.9M252.8 51.1h.9M264.8 78.4h.9M257.1 59.5h.9M260.8 74.2h.9M257.2 73.2h.9M255.2 80.9h.9M257.1 51.5h.9M265.8 56.8h.9M258.0 51.7h.9M260.7 64.7h.9M256.8 59.4h.9M255.7 56.5h.9M252.3 73.9h.9M261.6 50.4h.9M253.3 66.7h.9M256.7 60.7h.9M259.0 61.4h.9M262.3 71.9h.9M260.2 77.2h.9M257.1 58.0h.9M259.4 53.3h.9M257.4 59.5h.9M253.7 73.1h.9M256.4 67.1h.9M255.9 64.3h.9M256.2 63.7h.9M257.6 56.8h.9M259.8 61.3h.9M254.1 53.5h.9M259.8 75.0h.9M252.7 59.2h.9M259.8 72.4h.9M260.9 52.3h.9M258.1 71.1h.9M259.0 61.0h.9M253.2 64.5h.9M257.7 63.3h.9M264.0 73.7h.9M254.8 65.1h.9M256.7 63.9h.9M264.6 71.3h.9M258.2 57.0h.9M257.3 66.3h.9M256.0 72.9h.9M258.1 52.3h.9M256.9 61.9h.9M262.0 73.1h.9M263.9 77.1h.9M259.3 64.0h.9M262.1 62.8h.9M252.9 58.9h.9M260.7 68.5h.9M253.6 73.8h.9M259.2 49.4h.9M259.9 72.1h.9M260.1 60.2h.9M254.8 73.1h.9M258.9 62.9h.9M256.4 53.7h.9M250.5 59.9h.9M262.5 69.9h.9M255.3 76.8h.9M257.1 53.9h.9M261.9 75.5h.9M256.4 52.0h.9M258.2 76.8h.9M259.1 56.4h.9M260.8 58.5h.9M263.1 59.8h.9M258.8 54.5h.9M252.9 66.1h.9M259.4 54.2h.9M260.3 59.3h.9M255.8 62.3h.9M259.6 69.6h.9M263.0 66.4h.9M255.1 56.8h.9M259.5 52.2h.9M257.3 59.5h.9M257.6 64.6h.9M262.2 77.8h.9M261.5 72.1h.9M253.7 72.4h.9M263.2 50.8h.9M258.3 55.8h.9M255.7 72.7h.9M259.0 59.6h.9M262.6 54.5h.9M254.6 57.9h.9M255.0 69.2h.9M257.1 53.5h.9M258.7 63.9h.9M260.4 60.9h.9M259.6 54.6h.9M258.1 64.4h.9M253.1 68.3h.9M258.6 63.5h.9M258.0 56.1h.9M254.6 68.3h.9M257.2 55.9h.9M255.1 71.4h.9M258.3 72.5h.9M257.9 52.3h.9M261.5 65.9h.9M255.4 60.2h.9M254.1 70.5h.9M256.3 67.3h.9M259.0 60.7h.9M259.5 60.8h.9M253.3 59.2h.9M253.3 69.8h.9M260.6 57.7h.9M260.5 65.2h.9M261.9 54.6h.9M258.1 54.1h.9M255.3 75.3h.9M260.0 70.0h.9M251.1 66.3h.9M262.4 71.2h.9M255.1 75.2h.9M257.2 68.5h.9M257.2 77.3h.9M256.7 64.7h.9M259.1 56.5h.9M257.1 52.8h.9M257.1 63.8h.9M259.0 77.8h.9M259.7 52.6h.9M258.3 62.9h.9M254.0 69.5h.9M265.6 69.1h.9M261.1 72.6h.9M257.5 71.7h.9M254.8 64.6h.9M260.8 74.7h.9M256.8 60.4h.9M259.9 62.3h.9M258.5 70.2h.9M254.9 70.9h.9M259.5 60.6h.9M253.0 57.3h.9M257.8 71.4h.9M250.1 69.4h.9M258.8 52.9h.9M261.4 66.6h.9M259.7 54.2h.9M253.6 71.1h.9M263.6 66.3h.9M257.2 59.0h.9M251.2 71.8h.9M257.6 74.0h.9M255.1 72.4h.9M255.2 68.2h.9M263.5 56.7h.9M261.6 62.9h.9M254.3 64.8h.9M260.6 56.6h.9M256.9 57.9h.9M254.9 61.1h.9M261.3 58.6h.9M262.9 59.6h.9M255.3 72.6h.9M263.6 57.2h.9M260.3 52.6h.9M256.4 59.7h.9M260.8 51.8h.9M256.0 56.8h.9M258.4 52.0h.9M258.8 49.6h.9M261.3 51.3h.9M250.5 77.9h.9M263.0 55.5h.9M253.7 67.2h.9M260.6 52.4h.9M250.9 66.4h.9M262.0 64.2h.9M258.0 75.3h.9M254.7 72.8h.9M261.3 57.4h.9M258.5 64.0h.9M260.3 54.3h.9M257.1 63.8h.9M258.1 63.2h.9M259.0 61.3h.9M256.0 72.2h.9M255.5 60.2h.9M254.5 52.8h.9M259.8 62.6h.9M257.5 67.0h.9M257.3 69.0h.9M265.1 66.1h.9M257.0 77.7h.9M263.3 64.9h.9M261.4 52.8h.9M254.7 57.2h.9M260.2 53.0h.9M255.2 71.4h.9M255.5 64.0h.9M257.7 61.9h.9M252.4 71.6h.9M261.2 70.8h.9M256.0 52.8h.9M257.6 64.5h.9M257.3 57.8h.9M254.1 56.5h.9M257.7 58.7h.9M264.6 60.6h.9M259.8 58.9h.9M257.3 54.4h.9M256.1 49.7h.9M253.8 66.8h.9M257.5 58.0h.9M260.9 58.1h.9M259.7 59.7h.9M261.8 71.4h.9M258.3 72.7h.9M260.0 76.7h.9M257.5 49.3h.9M258.8 65.1h.9M256.6 61.2h.9M256.9 51.9h.9M264.7 56.1h.9M253.8 49.0h.9M254.7 62.6h.9M263.8 68.3h.9M255.1 52.0h.9M253.6 62.3h.9M261.4 58.7h.9M264.3 80.0h.9M262.3 62.1h.9M260.6 71.7h.9M254.0 63.6h.9M258.7 56.3h.9M260.7 61.8h.9M256.4 79.6h.9M258.6 77.4h.9M257.4 72.1h.9M255.0 64.3h.9M260.1 60.6h.9M282.7 63.4h.9M279.8 51.9h.9M279.2 56.3h.9M279.3 63.7h.9M276.7 70.3h.9M279.4 66.7h.9M279.3 58.9h.9M278.4 64.4h.9M281.0 54.3h.9M279.2 70.4h.9M282.1 61.2h.9M276.5 59.1h.9M278.2 71.7h.9M276.2 57.5h.9M276.5 56.5h.9M278.9 64.9h.9M278.5 67.4h.9M284.3 63.2h.9M277.2 60.6h.9M279.7 59.2h.9M282.8 71.0h.9M284.9 66.1h.9M281.6 55.7h.9M278.5 69.1h.9M280.3 53.2h.9M280.0 52.4h.9M279.9 52.7h.9M277.7 57.9h.9M286.8 52.7h.9M277.1 57.8h.9M282.6 68.2h.9M281.7 59.4h.9M280.3 55.9h.9M279.5 55.7h.9M276.4 54.2h.9M284.7 65.1h.9M278.1 61.1h.9M278.9 71.5h.9M279.9 57.0h.9M281.6 64.5h.9M278.3 55.9h.9M277.8 69.9h.9M282.1 70.7h.9M278.9 57.3h.9M279.3 58.2h.9M283.1 60.2h.9M283.3 56.4h.9M280.9 74.7h.9M278.2 56.9h.9M279.3 56.9h.9M285.4 58.2h.9M282.3 61.7h.9M280.7 67.6h.9M278.6 62.3h.9M280.3 74.9h.9M283.4 63.3h.9M276.7 68.9h.9M279.8 71.1h.9M280.1 63.4h.9M281.6 56.2h.9M266.4 81.0h.9M265.3 75.6h.9M273.6 75.2h.9M277.3 66.7h.9M275.1 63.9h.9M270.2 73.3h.9M275.5 76.2h.9M264.9 70.9h.9M269.1 69.3h.9M265.5 69.4h.9M276.1 77.3h.9M274.0 78.6h.9M270.4 67.7h.9M266.4 72.8h.9M275.4 76.7h.9M265.1 75.7h.9M267.1 74.3h.9M274.8 77.8h.9M267.1 72.9h.9M272.2 70.3h.9M270.4 74.3h.9M261.1 69.5h.9M266.9 64.8h.9M264.8 74.0h.9M273.6 73.7h.9M273.1 69.6h.9M278.5 67.6h.9M272.7 70.9h.9M260.8 75.5h.9M268.5 74.8h.9M276.7 72.6h.9M266.4 71.1h.9M269.6 77.7h.9M274.5 78.2h.9M274.0 69.0h.9M274.9 75.8h.9M269.3 73.8h.9M268.2 67.0h.9M269.4 75.0h.9M268.0 63.2h.9M265.6 76.3h.9M271.1 76.4h.9M265.9 70.3h.9M264.6 68.9h.9M272.7 72.5h.9M267.3 73.2h.9M262.9 70.5h.9M261.9 66.1h.9M262.7 67.7h.9M278.4 77.4h.9M276.7 69.7h.9M273.3 67.5h.9M267.0 72.9h.9M261.4 72.8h.9M273.2 63.9h.9M256.8 70.9h.9M269.3 72.6h.9M263.9 74.2h.9M270.6 69.1h.9M278.7 73.0h.9M273.9 79.3h.9M267.3 71.1h.9M260.6 71.1h.9M272.9 72.8h.9M263.2 68.6h.9M260.0 66.6h.9M270.5 73.2h.9M265.0 71.1h.9M265.6 74.4h.9M273.3 69.8h.9M267.5 67.2h.9M267.4 80.6h.9M269.8 75.4h.9M273.0 77.8h.9M268.2 68.4h.9M275.5 75.6h.9M266.4 76.3h.9M269.8 71.8h.9M279.8 74.1h.9M271.6 70.7h.9M271.0 76.2h.9M272.4 69.0h.9M272.3 71.5h.9M271.6 71.2h.9M258.2 65.6h.9M267.8 63.3h.9M261.8 80.0h.9M273.6 70.2h.9M271.7 63.1h.9M271.2 75.9h.9M270.9 66.8h.9M275.1 69.9h.9M266.8 72.8h.9M268.3 80.1h.9M269.2 80.5h.9M272.3 67.1h.9M269.9 72.2h.9M277.6 77.1h.9M265.1 73.4h.9M278.6 68.0h.9M268.0 69.0h.9M272.7 73.6h.9M269.7 74.6h.9M265.7 70.5h.9M272.4 80.0h.9M269.7 72.2h.9M277.0 72.3h.9M276.9 72.9h.9M276.1 72.7h.9M265.0 68.6h.9M272.2 79.5h.9M279.9 70.7h.9M265.4 75.7h.9M261.7 75.6h.9M271.9 74.5h.9M263.4 73.5h.9M275.0 71.8h.9M275.4 72.1h.9M271.8 70.7h.9M262.6 71.4h.9M272.6 69.0h.9M259.4 65.8h.9M277.0 71.1h.9M265.8 76.9h.9M269.0 66.0h.9M267.5 68.5h.9M268.9 68.4h.9M270.3 73.8h.9M266.8 71.2h.9M269.1 75.3h.9M266.0 75.0h.9M276.6 71.2h.9M264.7 70.8h.9M260.4 69.8h.9M263.5 71.3h.9M267.9 74.1h.9M270.5 73.7h.9M269.7 73.1h.9M263.8 74.6h.9M276.9 76.4h.9M262.7 73.7h.9M261.1 75.0h.9M268.8 70.2h.9M265.9 71.1h.9M269.9 68.2h.9M270.2 73.0h.9M272.8 71.8h.9M275.4 73.3h.9M262.4 74.5h.9M273.0 61.4h.9M269.0 73.5h.9M270.1 72.4h.9M269.1 77.5h.9M272.0 70.9h.9M268.7 80.3h.9M265.3 69.9h.9M271.7 72.6h.9M271.6 77.4h.9M276.1 73.7h.9M270.2 71.8h.9M268.7 76.0h.9M263.1 67.8h.9M267.5 68.2h.9M265.9 76.8h.9M257.7 74.3h.9M262.8 71.0h.9M266.8 68.0h.9M261.9 72.3h.9M267.8 76.4h.9M280.0 70.8h.9M265.6 70.9h.9M272.5 75.7h.9M264.8 73.9h.9M269.8 76.6h.9M267.7 71.2h.9M265.3 66.7h.9M271.4 74.8h.9M276.0 73.1h.9M267.4 68.3h.9M263.6 69.1h.9M271.8 72.4h.9M257.5 71.6h.9M268.4 67.8h.9M269.8 74.1h.9M264.3 66.6h.9M268.2 73.1h.9M268.5 78.2h.9M270.7 68.0h.9M274.2 69.4h.9M273.7 72.4h.9M276.6 68.0h.9M273.9 73.7h.9M265.0 74.8h.9M265.8 71.4h.9M277.0 73.0h.9M278.0 69.4h.9M277.1 65.7h.9M269.0 70.8h.9M267.3 76.9h.9M266.7 73.4h.9M280.0 75.3h.9M267.7 69.1h.9M259.0 73.5h.9M274.8 76.4h.9M271.3 80.6h.9M274.2 62.8h.9M265.1 75.2h.9M267.8 75.4h.9M261.9 72.4h.9M274.9 69.7h.9M278.6 68.5h.9M268.9 75.7h.9M268.8 69.8h.9M269.9 74.6h.9M279.4 77.4h.9M280.2 71.9h.9M260.9 71.8h.9M267.7 68.0h.9M267.1 71.7h.9M270.3 75.7h.9M269.1 93.9h.9M266.8 86.3h.9M279.5 96.1h.9M280.6 96.0h.9M265.9 90.8h.9M278.7 96.5h.9M266.6 90.7h.9M273.8 82.2h.9M266.9 95.3h.9M275.3 90.0h.9M273.4 91.5h.9M268.9 83.5h.9M276.8 95.9h.9M270.7 95.9h.9M278.6 94.4h.9M278.2 99.4h.9M262.8 99.0h.9M271.0 96.0h.9M276.7 83.8h.9M273.7 83.6h.9M276.6 88.1h.9M269.5 86.9h.9M278.2 93.5h.9M268.0 95.3h.9M265.7 96.4h.9M274.1 95.8h.9M274.3 99.7h.9M275.9 90.3h.9M273.8 92.2h.9M267.7 87.5h.9M278.0 96.7h.9M281.3 94.4h.9M272.1 89.1h.9M276.1 93.7h.9M280.9 95.5h.9M269.7 87.0h.9M262.9 96.0h.9M270.6 89.1h.9M263.1 90.9h.9M280.0 87.0h.9M276.9 95.7h.9M275.2 92.7h.9M267.0 94.1h.9M273.7 99.4h.9M272.3 88.4h.9M280.1 93.2h.9M268.8 93.7h.9M265.0 85.4h.9M279.7 90.3h.9M278.0 85.9h.9M271.4 86.3h.9M278.0 92.7h.9M269.9 88.9h.9M266.2 85.8h.9M275.8 87.6h.9M264.1 88.9h.9M271.1 99.8h.9M269.7 89.3h.9M281.4 95.0h.9M271.2 89.2h.9M266.5 84.7h.9M271.4 93.5h.9M264.1 90.6h.9M265.5 92.8h.9M268.9 94.0h.9M277.7 89.3h.9M269.7 83.4h.9M266.2 93.2h.9M278.1 84.5h.9M281.5 98.5h.9M269.3 91.7h.9M275.5 87.9h.9M269.3 95.0h.9M271.7 89.9h.9M273.3 84.1h.9M271.4 87.3h.9M265.3 91.4h.9M276.0 91.5h.9M272.0 94.1h.9M270.4 99.7h.9M266.3 82.1h.9M273.4 94.5h.9M269.6 89.2h.9M268.9 86.4h.9M277.8 97.5h.9M267.6 92.2h.9M271.2 84.4h.9M276.7 91.6h.9M281.8 98.4h.9M280.1 86.7h.9M264.2 96.6h.9M264.2 94.4h.9M265.5 94.7h.9M263.1 83.6h.9M279.4 91.3h.9M271.0 99.5h.9M277.7 86.1h.9M276.1 88.9h.9M271.3 87.6h.9M266.5 87.4h.9M267.5 85.4h.9M279.5 88.8h.9M273.2 96.6h.9M275.6 84.8h.9M281.1 98.8h.9M278.8 87.9h.9M278.6 93.6h.9M262.6 88.8h.9M276.0 91.8h.9M281.0 96.2h.9M278.7 99.6h.9M268.9 98.3h.9M262.0 96.4h.9M263.8 91.0h.9M270.8 83.3h.9M274.7 96.2h.9M266.5 86.4h.9M277.4 91.5h.9M262.4 87.5h.9M280.9 87.0h.9M267.8 90.1h.9M279.7 96.6h.9M269.7 94.0h.9M262.6 83.2h.9M269.4 93.4h.9M264.8 82.8h.9M279.1 85.3h.9M263.1 83.5h.9M263.6 87.1h.9M273.6 93.8h.9M267.7 91.3h.9M268.6 92.4h.9M264.2 93.2h.9M262.0 98.6h.9M266.2 92.0h.9M265.8 90.0h.9M267.3 93.5h.9M277.6 97.2h.9M281.5 90.2h.9M273.0 88.3h.9M267.8 91.1h.9M281.5 83.0h.9M276.9 87.8h.9M274.0 86.8h.9M276.4 90.9h.9M268.2 90.1h.9M262.1 83.8h.9M280.2 83.5h.9M270.0 94.1h.9M262.7 98.8h.9M266.1 99.3h.9M270.7 92.6h.9M274.1 83.6h.9M272.1 95.5h.9M277.8 95.2h.9M275.6 84.3h.9M270.2 91.2h.9M262.8 95.8h.9M264.0 92.2h.9M267.3 84.9h.9M281.1 93.2h.9M276.7 92.9h.9M273.3 97.7h.9M263.3 88.8h.9M266.4 92.7h.9M269.9 98.6h.9M266.7 86.8h.9M280.3 95.0h.9M270.6 88.7h.9M276.7 84.7h.9M276.4 86.1h.9M278.1 83.3h.9M280.3 97.5h.9M262.5 84.9h.9M280.3 96.7h.9M267.8 96.4h.9M273.6 86.4h.9M275.8 89.5h.9M264.8 97.3h.9M276.3 86.4h.9M270.5 94.3h.9M269.4 86.6h.9M272.5 99.1h.9M263.9 86.5h.9M271.7 99.7h.9M281.9 82.2h.9M274.8 84.5h.9M266.1 84.4h.9M272.0 99.9h.9M281.3 88.6h.9M280.0 94.4h.9M263.5 98.2h.9M267.5 99.6h.9M264.6 98.2h.9M272.3 91.3h.9M265.7 90.8h.9M277.2 92.0h.9M281.6 91.6h.9M280.1 84.4h.9M276.7 92.8h.9M274.0 83.0h.9M269.8 90.8h.9M268.9 86.1h.9M270.5 90.9h.9M277.5 93.3h.9M268.4 83.4h.9M275.5 86.0h.9M272.2 88.5h.9M268.7 92.9h.9M281.0 90.1h.9M266.7 87.3h.9M275.9 89.6h.9M265.9 90.8h.9M274.4 88.9h.9M267.5 85.9h.9M267.3 84.6h.9M268.3 84.5h.9M270.5 86.5h.9M266.3 85.4h.9M269.5 88.5h.9M272.7 84.3h.9M262.5 88.1h.9M264.5 94.0h.9M269.0 84.1h.9M269.1 83.4h.9M266.2 86.4h.9M276.2 87.8h.9M276.5 82.8h.9M279.4 83.7h.9M271.2 83.4h.9M269.1 93.8h.9M274.2 92.4h.9M275.4 89.8h.9M269.0 91.0h.9M268.4 84.8h.9M276.9 82.2h.9M271.3 86.3h.9M266.9 88.2h.9M270.1 83.4h.9M271.2 89.3h.9M269.9 82.2h.9M274.7 82.7h.9M272.2 90.9h.9M277.9 93.9h.9M276.2 86.8h.9M268.8 87.0h.9M273.2 100.8h.9M263.4 83.6h.9M273.7 85.5h.9M268.6 90.9h.9M270.5 95.7h.9M267.3 93.0h.9M272.6 91.7h.9M284.3 84.3h.9M274.9 87.1h.9M270.8 95.6h.9M274.2 93.8h.9M271.8 90.3h.9M273.1 85.6h.9M265.8 84.0h.9M270.1 84.1h.9M268.0 82.5h.9M275.2 84.8h.9M269.3 84.9h.9M277.9 83.4h.9M279.2 89.0h.9M267.1 88.3h.9M268.6 87.6h.9M268.8 84.6h.9M270.1 87.6h.9M274.7 93.3h.9M268.1 100.5h.9M268.0 94.8h.9M267.4 84.3h.9M266.2 85.4h.9M274.0 88.0h.9M275.2 85.2h.9M268.6 92.0h.9M280.3 87.9h.9M282.6 88.0h.9M255.2 98.1h.9M234.0 101.7h.9M249.3 84.6h.9M261.3 96.9h.9M233.0 100.5h.9M247.7 95.8h.9M227.5 87.9h.9M254.6 84.3h.9M233.4 85.3h.9M247.2 86.5h.9M254.3 92.4h.9M254.3 100.9h.9M261.0 87.5h.9M239.4 98.7h.9M238.3 101.4h.9M238.4 95.6h.9M235.6 97.4h.9M236.6 91.8h.9M252.2 99.3h.9M231.5 87.2h.9M234.0 98.2h.9M250.4 97.3h.9M255.2 88.3h.9M244.1 84.1h.9M239.0 95.1h.9M235.7 98.7h.9M234.0 92.2h.9M250.8 88.1h.9M250.1 91.4h.9M228.2 86.0h.9M249.7 99.2h.9M250.6 100.0h.9M250.1 98.4h.9M256.3 95.0h.9M245.4 87.0h.9M234.9 85.6h.9M230.4 91.2h.9M236.9 94.4h.9M255.9 89.0h.9M258.3 99.4h.9M233.3 94.9h.9M233.5 85.2h.9M234.3 87.8h.9M226.8 84.5h.9M255.2 100.0h.9M257.2 85.4h.9M227.3 99.9h.9M239.8 90.4h.9M251.4 93.8h.9M238.2 86.8h.9M230.6 97.2h.9M258.6 84.7h.9M234.4 93.7h.9M236.0 93.1h.9M244.3 88.9h.9M230.7 91.8h.9M255.3 86.6h.9M245.6 99.0h.9M246.8 90.4h.9M259.5 98.5h.9M261.9 89.5h.9M243.7 92.3h.9M256.3 95.5h.9M246.0 93.5h.9M258.1 90.5h.9M231.2 87.3h.9M235.2 85.8h.9M261.2 94.3h.9M254.8 92.4h.9M245.0 88.2h.9M258.1 91.8h.9M240.9 97.7h.9M257.3 102.5h.9M243.6 91.8h.9M255.8 91.9h.9M233.7 92.8h.9M237.4 88.8h.9M253.9 90.5h.9M248.7 89.6h.9M230.6 98.5h.9M254.0 97.0h.9M248.2 87.2h.9M244.3 99.4h.9M254.3 94.9h.9M248.9 87.2h.9M228.5 99.7h.9M227.1 88.7h.9M240.7 97.0h.9M251.2 100.0h.9M259.5 89.0h.9M235.3 86.3h.9M238.2 85.9h.9M260.6 94.6h.9M243.9 85.1h.9M258.9 88.5h.9M253.8 87.8h.9M236.1 86.5h.9M245.5 89.3h.9M246.8 97.2h.9M234.5 86.4h.9M244.8 91.4h.9M242.4 90.8h.9M232.4 86.3h.9M252.3 95.7h.9M250.9 95.8h.9M244.7 87.6h.9M258.9 93.9h.9M242.8 88.8h.9M239.9 102.1h.9M240.9 98.9h.9M230.9 95.1h.9M236.1 88.3h.9M237.3 91.3h.9M249.3 91.5h.9M257.1 86.9h.9M256.9 92.1h.9M254.6 91.3h.9M235.6 100.5h.9M249.1 97.4h.9M245.0 97.1h.9M260.5 97.7h.9M260.9 90.5h.9M237.1 100.3h.9M256.1 100.4h.9M242.0 91.7h.9M260.1 87.7h.9M232.4 87.2h.9M237.2 91.7h.9M240.1 92.5h.9M227.8 90.3h.9M244.5 85.0h.9M243.6 100.7h.9M249.7 101.5h.9M257.0 93.1h.9M227.3 85.1h.9M247.0 99.6h.9M238.3 86.4h.9M253.4 94.0h.9M243.1 86.4h.9M246.2 94.6h.9M251.7 100.7h.9M229.2 99.4h.9M237.9 91.7h.9M238.7 98.9h.9M242.2 85.3h.9M243.3 86.7h.9M227.1 84.9h.9M240.0 92.3h.9M226.5 86.5h.9M258.5 94.1h.9M261.3 94.0h.9M260.4 96.8h.9M240.2 84.9h.9M231.7 98.7h.9M250.0 89.5h.9M232.3 95.8h.9M259.5 88.6h.9M261.9 93.9h.9M233.9 87.4h.9M251.8 101.2h.9M233.7 88.4h.9M231.6 87.9h.9M234.5 91.7h.9M234.9 96.3h.9M235.0 88.9h.9M241.4 87.1h.9M228.3 85.7h.9M226.7 96.5h.9M228.2 92.9h.9M258.1 95.4h.9M237.4 91.4h.9M241.7 89.9h.9M228.4 86.9h.9M231.6 87.8h.9M238.2 85.9h.9M248.4 87.7h.9M244.6 96.8h.9M244.1 97.7h.9M254.2 92.3h.9M234.0 84.8h.9M251.1 90.8h.9M236.8 85.5h.9M232.9 100.5h.9M243.3 99.7h.9M256.5 88.6h.9M234.5 100.4h.9M234.9 95.1h.9M259.7 92.6h.9M241.6 101.7h.9M257.1 101.1h.9M251.6 88.1h.9M228.2 84.4h.9M259.3 94.0h.9M257.9 101.7h.9M234.9 101.9h.9M236.2 87.3h.9M236.2 102.4h.9M259.9 90.5h.9M243.6 99.2h.9M255.0 100.6h.9M239.4 88.3h.9M244.7 101.3h.9M248.3 100.1h.9M233.5 93.4h.9M259.1 94.6h.9M254.7 98.9h.9M242.2 96.8h.9M251.1 92.1h.9M245.0 99.0h.9M257.8 102.3h.9M239.5 96.5h.9M246.1 99.8h.9M235.0 92.6h.9M235.6 98.9h.9M251.7 84.1h.9M230.4 86.6h.9M247.5 98.3h.9M238.7 85.5h.9M247.3 95.4h.9M241.8 89.0h.9M238.8 88.3h.9M255.4 91.1h.9M251.8 94.2h.9M234.6 89.2h.9M250.3 100.0h.9M259.1 86.8h.9M235.7 85.8h.9M233.2 91.2h.9M252.0 100.9h.9M247.5 86.7h.9M239.9 86.7h.9M236.4 94.6h.9M244.3 87.2h.9M236.3 100.6h.9M248.9 95.1h.9M237.9 89.5h.9M253.5 84.3h.9M249.7 101.7h.9M249.1 84.9h.9M227.7 98.5h.9M233.1 91.8h.9M249.6 96.5h.9M236.7 96.6h.9M258.9 92.7h.9M240.6 96.7h.9M257.5 96.7h.9M259.4 98.5h.9M260.5 88.6h.9M250.4 87.9h.9M230.7 90.3h.9M260.1 89.4h.9M237.5 101.1h.9M261.4 98.0h.9M239.0 99.2h.9M228.8 84.2h.9M228.7 90.2h.9M235.1 99.9h.9M242.4 99.7h.9M243.8 90.9h.9M238.5 84.9h.9M242.6 101.6h.9M261.0 101.2h.9M230.0 92.2h.9M256.1 86.9h.9M228.8 87.8h.9M229.5 97.7h.9M251.8 102.3h.9M228.3 97.0h.9M254.7 87.3h.9M229.3 102.1h.9M254.6 85.3h.9M233.1 96.2h.9M232.6 92.1h.9M231.8 85.7h.9M243.7 94.0h.9M256.6 84.1h.9M239.1 85.3h.9M246.1 87.1h.9M238.3 101.9h.9M249.6 96.4h.9M248.0 87.7h.9M250.8 101.9h.9M229.7 99.5h.9M238.7 87.7h.9M249.8 99.7h.9M232.4 87.6h.9M244.3 87.8h.9M244.5 102.3h.9M227.4 91.9h.9M233.7 87.1h.9M247.4 101.5h.9M243.2 94.3h.9M251.3 99.9h.9M260.8 90.2h.9M232.8 101.0h.9M248.0 100.3h.9M231.7 98.6h.9M230.7 86.4h.9M230.8 90.7h.9M241.2 96.2h.9M259.8 91.9h.9M247.0 91.6h.9M240.1 88.9h.9M226.7 88.7h.9M252.2 98.8h.9M250.9 92.2h.9M241.1 87.5h.9M235.1 102.5h.9M247.4 91.5h.9M245.5 93.1h.9M236.9 91.7h.9M241.8 100.6h.9M258.1 89.3h.9M242.7 88.1h.9M260.3 86.5h.9M243.6 84.2h.9M242.9 92.5h.9M227.0 86.8h.9M244.2 92.8h.9M237.3 85.0h.9M238.0 90.4h.9M230.2 95.1h.9M234.3 93.8h.9M251.7 84.3h.9M244.2 95.8h.9M258.2 96.8h.9M256.2 96.3h.9M234.5 99.0h.9M253.3 93.0h.9M259.4 84.9h.9M258.7 90.6h.9M245.8 98.7h.9M232.4 93.2h.9M227.0 84.7h.9M260.4 88.1h.9M241.7 86.2h.9M259.6 93.4h.9M256.9 89.0h.9M242.9 88.6h.9M247.4 97.1h.9M246.9 94.8h.9M237.5 101.6h.9M227.2 87.1h.9M250.2 102.0h.9M256.6 88.6h.9M260.0 92.4h.9M246.8 96.0h.9M248.4 100.3h.9M258.4 89.8h.9M258.2 89.8h.9M250.8 86.9h.9M249.1 89.6h.9M261.8 96.3h.9M240.3 101.8h.9M230.6 97.8h.9M249.5 84.3h.9M242.8 86.2h.9M262.0 85.8h.9M249.1 94.0h.9M230.9 101.3h.9M246.9 95.4h.9M235.8 86.8h.9M238.1 84.6h.9M233.6 93.2h.9M240.4 98.1h.9M231.5 87.8h.9M245.1 96.7h.9M237.7 87.8h.9M230.9 90.7h.9M240.0 98.7h.9M235.0 90.3h.9M253.0 87.8h.9M227.9 102.0h.9M259.0 89.8h.9M236.6 92.5h.9M234.0 98.6h.9M257.9 97.2h.9M240.7 99.5h.9M259.7 87.4h.9M250.2 87.2h.9M261.5 98.7h.9M241.0 97.7h.9M236.9 85.2h.9M244.7 85.4h.9M242.7 99.8h.9M247.0 88.9h.9M234.0 94.3h.9M244.6 100.7h.9M232.6 92.6h.9M242.4 91.0h.9M233.1 91.1h.9M245.8 87.6h.9M237.9 93.7h.9M259.9 92.9h.9M238.8 84.6h.9M244.9 90.4h.9M230.6 92.8h.9M248.4 90.5h.9M252.6 95.7h.9M228.7 84.9h.9M245.2 95.2h.9M246.3 88.2h.9M238.7 97.3h.9M240.6 93.8h.9M234.6 95.6h.9M243.5 84.1h.9M253.3 98.9h.9M261.5 101.4h.9M251.4 92.6h.9M235.9 97.0h.9M241.4 90.0h.9M230.7 95.2h.9M251.7 98.2h.9M231.9 87.8h.9M249.1 86.4h.9M258.0 101.2h.9M248.9 88.8h.9M246.5 98.2h.9M238.7 96.0h.9M247.8 100.8h.9M254.1 96.4h.9M245.8 100.5h.9M247.9 96.7h.9M237.5 86.0h.9M246.3 88.1h.9M260.9 88.1h.9M258.3 90.2h.9M233.3 94.7h.9M237.9 102.4h.9M248.4 85.9h.9M237.5 86.1h.9M244.0 93.8h.9M237.7 96.4h.9M242.3 99.2h.9M250.6 88.8h.9M256.0 84.5h.9M234.9 84.5h.9M260.3 93.9h.9M256.4 102.3h.9M229.7 100.7h.9M227.2 97.0h.9M254.7 91.1h.9M258.1 98.2h.9M244.2 89.2h.9M232.2 85.4h.9M245.7 93.7h.9M233.2 93.8h.9M229.3 89.6h.9M250.3 86.8h.9M245.1 86.5h.9M257.8 87.9h.9M259.6 101.0h.9M260.7 89.2h.9M250.7 85.3h.9M261.0 96.8h.9M227.8 86.6h.9M230.2 90.4h.9M259.8 98.6h.9M238.1 99.0h.9M226.9 94.1h.9M240.3 85.4h.9M259.1 96.2h.9M261.8 95.8h.9M248.5 86.4h.9M243.4 100.6h.9M246.3 95.8h.9M242.8 90.6h.9M226.9 88.0h.9M233.1 85.7h.9M228.4 98.0h.9M261.8 96.9h.9M256.0 87.9h.9M256.7 91.0h.9M256.8 88.4h.9M237.1 93.7h.9M234.4 88.8h.9M252.3 98.6h.9M261.4 96.1h.9M238.9 92.7h.9M247.3 95.0h.9M250.1 91.1h.9M250.0 92.8h.9M237.9 94.4h.9M235.4 98.6h.9M249.7 94.4h.9M245.3 96.4h.9M254.9 87.3h.9M249.0 97.9h.9M237.0 94.1h.9M236.7 99.3h.9M229.6 96.6h.9M251.3 96.5h.9M235.5 92.1h.9M249.7 90.1h.9M232.0 98.1h.9M238.8 88.1h.9M232.9 91.3h.9M232.3 99.3h.9M230.8 95.6h.9M234.6 96.6h.9M227.0 87.4h.9M244.4 100.1h.9M227.4 92.7h.9M235.3 90.1h.9M248.5 94.3h.9M227.4 93.2h.9M251.8 91.1h.9M235.2 90.6h.9M241.3 91.7h.9M247.8 90.6h.9M226.8 96.0h.9M242.4 95.1h.9M234.7 92.2h.9M232.6 93.3h.9M235.8 96.4h.9M239.9 96.4h.9M254.5 92.9h.9M237.3 95.7h.9M258.7 92.6h.9M255.0 99.1h.9M231.0 95.8h.9M251.8 94.3h.9M231.8 101.1h.9M232.4 92.1h.9M239.5 97.3h.9M246.0 96.3h.9M233.1 101.6h.9M250.6 94.2h.9M234.7 93.9h.9M237.9 91.1h.9M239.8 91.3h.9M245.6 91.3h.9M244.3 95.4h.9M241.4 96.3h.9M233.6 97.2h.9M240.1 92.2h.9M255.5 98.8h.9M237.4 96.5h.9M246.0 100.8h.9M249.0 93.4h.9M237.6 89.1h.9M242.2 97.7h.9M236.4 96.9h.9M241.1 92.1h.9M228.9 98.8h.9M230.2 89.7h.9M242.2 96.8h.9M256.5 94.8h.9M241.1 95.7h.9M236.7 92.9h.9M249.4 86.7h.9M238.9 96.5h.9M253.7 95.7h.9M246.3 97.1h.9M241.9 95.6h.9M232.6 93.2h.9M256.5 88.8h.9M238.4 88.7h.9M235.1 90.8h.9M228.9 95.1h.9M231.4 96.3h.9M238.4 85.1h.9M238.8 95.7h.9M241.8 99.2h.9M241.3 86.7h.9M253.5 90.0h.9M239.1 95.4h.9M232.0 94.4h.9M253.4 86.9h.9M238.4 88.6h.9M243.4 88.4h.9M245.1 93.8h.9M241.4 88.4h.9M238.0 96.1h.9M248.7 102.6h.9M245.9 93.8h.9M230.2 92.3h.9M237.7 95.9h.9M251.9 84.7h.9M229.4 94.0h.9M248.8 95.8h.9M252.1 96.6h.9M244.1 100.6h.9M235.9 91.7h.9M230.8 95.1h.9M243.9 98.1h.9M253.0 96.7h.9M251.1 93.0h.9M231.3 97.2h.9M249.1 99.8h.9M238.5 92.0h.9M236.7 95.6h.9M239.5 93.3h.9M242.3 92.8h.9M243.0 91.5h.9M257.0 90.6h.9M248.2 99.8h.9M235.1 95.2h.9M253.8 94.8h.9M233.3 94.5h.9M242.6 92.3h.9M237.2 90.5h.9M245.1 94.9h.9M243.1 91.9h.9M244.4 92.8h.9M242.7 93.4h.9M234.0 89.3h.9M238.1 89.0h.9M251.2 89.0h.9M239.0 91.3h.9M246.9 87.8h.9M242.8 95.0h.9M245.1 95.9h.9M241.4 86.3h.9M237.1 89.9h.9M244.8 93.0h.9M241.4 98.8h.9M239.0 101.3h.9M247.5 87.6h.9M234.7 99.3h.9M235.5 99.2h.9M234.9 93.5h.9M249.3 87.2h.9M240.7 92.1h.9M241.5 101.4h.9M244.4 88.2h.9M248.7 92.1h.9M241.5 99.0h.9M237.2 98.2h.9M241.6 90.1h.9M237.2 88.1h.9M250.7 94.7h.9M248.7 89.2h.9M247.6 88.8h.9M242.5 94.0h.9M234.7 95.4h.9M240.3 90.2h.9M233.3 88.3h.9M252.4 94.7h.9M236.7 97.0h.9M232.2 89.0h.9M243.2 100.9h.9M242.7 94.7h.9M255.7 87.3h.9M239.3 88.2h.9M229.1 93.0h.9M234.4 95.2h.9M230.8 92.9h.9M247.4 84.5h.9M237.3 92.7h.9M235.4 93.5h.9M235.3 89.5h.9M247.2 90.2h.9M252.8 96.2h.9M232.6 96.6h.9M234.8 96.5h.9M248.3 99.0h.9M230.5 93.5h.9M240.0 88.7h.9M243.7 97.0h.9M227.6 91.6h.9M230.0 88.5h.9M230.4 100.0h.9M234.0 92.3h.9M248.9 98.5h.9M252.7 85.0h.9M246.8 86.3h.9M234.3 92.2h.9M234.9 102.6h.9M238.5 99.1h.9M238.4 93.7h.9M244.6 95.9h.9M244.5 86.4h.9M244.6 95.4h.9M245.4 93.8h.9M243.7 88.3h.9M250.2 88.7h.9M252.6 98.4h.9M239.4 92.7h.9M247.0 92.7h.9M229.3 95.2h.9M229.0 92.0h.9M256.2 97.5h.9M235.9 93.7h.9M234.2 94.0h.9M227.0 97.0h.9M240.1 91.3h.9M236.0 91.9h.9M234.8 91.8h.9M251.8 97.0h.9M243.8 95.6h.9M253.6 97.1h.9M242.0 95.2h.9M241.8 94.1h.9M237.6 84.3h.9M245.1 94.2h.9M248.8 95.3h.9M237.4 96.6h.9M241.7 92.1h.9M236.6 92.1h.9M237.3 92.1h.9M239.0 98.9h.9M235.7 93.3h.9M233.3 88.0h.9M232.3 91.8h.9M241.4 92.5h.9M229.2 92.4h.9M253.6 90.1h.9M240.6 98.4h.9M232.8 91.5h.9M235.3 94.7h.9M240.9 94.6h.9M244.2 92.7h.9M241.4 88.0h.9M237.1 100.6h.9M242.1 91.1h.9M241.2 98.6h.9M234.0 92.1h.9M239.2 91.5h.9M241.0 94.4h.9M229.5 91.3h.9M228.8 95.3h.9M242.4 96.9h.9M232.1 91.7h.9M249.7 95.9h.9M245.6 95.0h.9M243.3 98.1h.9M237.6 97.6h.9M247.8 95.9h.9M242.4 88.5h.9M249.8 90.1h.9M234.1 90.3h.9M245.0 89.8h.9M244.1 96.5h.9M240.9 92.5h.9M245.4 99.7h.9M235.8 89.4h.9M234.6 90.2h.9M237.9 93.3h.9M232.7 92.1h.9M230.9 95.0h.9M247.6 86.1h.9M242.0 100.6h.9M237.5 98.0h.9M242.8 90.0h.9M248.9 91.3h.9M243.2 92.2h.9M238.1 94.7h.9M251.9 86.6h.9M230.0 94.4h.9M248.7 93.2h.9M238.3 96.3h.9M254.1 90.0h.9M246.9 88.3h.9M250.1 98.1h.9M247.1 90.3h.9M228.4 96.9h.9M242.3 97.0h.9M250.1 98.4h.9M237.5 94.0h.9M244.1 97.3h.9M238.3 91.8h.9M231.2 98.5h.9M243.1 91.5h.9M228.6 91.8h.9M228.5 92.0h.9M235.1 96.2h.9M230.9 86.1h.9M234.6 88.0h.9M246.6 93.1h.9M239.7 93.8h.9M242.6 98.3h.9M249.8 93.5h.9M228.3 92.4h.9M245.8 90.0h.9M251.3 89.8h.9M229.9 97.6h.9M239.1 95.4h.9M237.3 94.1h.9M234.7 102.3h.9M245.9 93.4h.9M244.2 97.6h.9M235.3 94.8h.9M241.8 91.5h.9M233.0 93.1h.9M237.3 92.2h.9M245.9 94.3h.9M255.4 97.8h.9M236.8 91.1h.9M244.5 92.4h.9M237.3 93.0h.9M245.5 94.8h.9M258.2 90.8h.9M239.1 95.3h.9M236.0 91.8h.9M255.7 87.7h.9M243.1 86.4h.9M243.0 85.6h.9M229.5 98.9h.9M253.8 94.6h.9M242.2 89.2h.9M236.8 88.2h.9M239.2 93.6h.9M241.1 97.4h.9M234.2 84.4h.9M229.5 88.5h.9M236.7 92.1h.9M239.6 99.9h.9M240.2 89.3h.9M237.2 90.2h.9M237.8 96.5h.9M229.8 97.1h.9M256.0 100.6h.9M254.6 94.4h.9M239.5 95.0h.9M236.8 89.9h.9M245.5 87.9h.9M227.7 96.4h.9M236.6 90.4h.9M244.4 100.2h.9M237.4 93.4h.9M245.0 98.1h.9M249.3 96.9h.9M234.0 96.3h.9M240.1 86.6h.9M251.1 96.5h.9M252.3 93.7h.9M246.5 93.7h.9M241.5 97.9h.9M240.5 96.6h.9M239.7 99.3h.9M245.8 86.8h.9M254.9 95.9h.9M235.4 91.3h.9M257.8 94.4h.9M244.6 96.6h.9M234.6 101.6h.9M258.8 90.6h.9M250.2 86.9h.9M237.0 94.3h.9M240.5 96.5h.9M243.6 95.6h.9M238.8 95.3h.9M235.0 102.5h.9M240.6 99.4h.9M240.9 93.4h.9M238.4 88.4h.9M258.6 95.8h.9M241.2 92.0h.9M251.5 92.6h.9M235.9 91.7h.9M253.8 95.3h.9M238.7 91.2h.9M251.5 95.2h.9M237.1 97.9h.9M247.9 89.7h.9M250.3 98.7h.9M237.9 88.3h.9M249.8 92.5h.9M238.2 92.8h.9M237.6 97.6h.9M230.3 96.3h.9M250.4 98.6h.9M246.5 95.2h.9M238.3 93.5h.9M232.2 101.2h.9M239.0 89.7h.9M247.5 100.5h.9M242.5 92.6h.9M230.1 96.8h.9M237.9 91.2h.9M245.4 88.5h.9M234.6 87.9h.9M237.9 97.4h.9M228.5 99.9h.9M234.0 91.9h.9M248.9 90.9h.9M253.0 93.1h.9M239.2 89.9h.9M250.3 93.7h.9M235.8 89.9h.9M234.4 93.6h.9M233.7 97.4h.9M239.8 91.4h.9M244.2 100.1h.9M249.7 94.6h.9M247.4 87.4h.9M233.5 98.3h.9M239.3 94.3h.9M245.7 95.6h.9M244.1 91.9h.9M237.5 99.6h.9M235.8 87.9h.9M237.0 97.8h.9M256.0 94.6h.9M234.6 96.6h.9M242.8 99.1h.9M244.7 97.2h.9M244.6 95.8h.9M232.1 93.3h.9M254.3 99.7h.9M248.6 95.7h.9M239.2 95.5h.9M237.2 98.7h.9M237.4 90.8h.9M233.5 90.3h.9M243.7 101.7h.9M246.0 92.6h.9M245.2 90.5h.9M238.0 94.1h.9M240.3 97.3h.9M244.9 102.0h.9M247.5 92.8h.9M242.5 90.4h.9M234.8 92.6h.9M249.1 91.1h.9M226.5 89.7h.9M229.7 93.2h.9M237.6 89.0h.9M233.3 92.2h.9M243.7 96.6h.9M251.8 92.9h.9M245.8 94.3h.9M230.7 91.3h.9M259.4 93.3h.9M254.7 97.5h.9M254.8 93.2h.9M248.4 92.7h.9M230.6 89.0h.9M244.1 87.2h.9M243.5 90.3h.9M243.4 88.2h.9M247.7 93.0h.9M226.9 87.9h.9M240.9 87.1h.9M243.2 96.1h.9M234.6 99.9h.9M252.9 95.3h.9M244.3 96.0h.9M238.0 99.6h.9M240.5 95.9h.9M247.5 89.3h.9M252.5 90.5h.9M245.8 97.1h.9M241.9 98.8h.9M244.6 92.2h.9M253.8 91.6h.9M231.7 98.8h.9M240.9 89.9h.9M236.2 94.3h.9" stroke="#000" stroke-width="0.9" fill="none" stroke-opacity="0.8" filter="url(#bl)"/>
<rect x="225.5" y="27.5" width="88.00" height="76.00" fill="none" stroke="#7a7a7a" stroke-width="1"/>
<line x1="313.5" y1="27.5" x2="313.5" y2="103.5" stroke="#444" stroke-width="1"/>
<line x1="225.5" y1="27.5" x2="225.5" y2="103.5" stroke="#111" stroke-width="1.3"/>
<line x1="225.5" y1="103.5" x2="313.5" y2="103.5" stroke="#111" stroke-width="1.3"/>
<line x1="261.5" y1="27.5" x2="261.5" y2="103.5" stroke="#333" stroke-width="1"/>
<line x1="225.5" y1="81.5" x2="313.5" y2="81.5" stroke="#444" stroke-width="1.1"/>
<path d="M221.9 94.5h3.6M223.1 88.6h2.4M223.1 85.2h2.4M223.1 82.8h2.4M223.1 80.9h2.4M223.1 79.3h2.4M223.1 78.0h2.4M223.1 76.9h2.4M223.1 75.9h2.4M221.9 75.0h3.6M223.1 69.1h2.4M223.1 65.7h2.4M223.1 63.3h2.4M223.1 61.4h2.4M223.1 59.8h2.4M223.1 58.5h2.4M223.1 57.4h2.4M223.1 56.4h2.4M221.9 55.5h3.6M223.1 49.6h2.4M223.1 46.2h2.4M223.1 43.8h2.4M223.1 41.9h2.4M223.1 40.3h2.4M223.1 39.0h2.4M223.1 37.9h2.4M223.1 36.9h2.4M221.9 36.0h3.6M223.1 97.5h2.4M223.1 100.0h2.4M223.1 102.0h2.4M223.1 30.1h2.4M238.3 103.5v5.3M245.0 103.5v3.5M249.0 103.5v3.5M251.8 103.5v3.5M254.0 103.5v3.5M255.7 103.5v3.5M257.2 103.5v3.5M258.5 103.5v3.5M259.7 103.5v3.5M260.7 103.5v5.3M267.4 103.5v3.5M271.4 103.5v3.5M274.2 103.5v3.5M276.4 103.5v3.5M278.1 103.5v3.5M279.6 103.5v3.5M280.9 103.5v3.5M282.1 103.5v3.5M283.1 103.5v5.3M289.8 103.5v3.5M293.8 103.5v3.5M296.6 103.5v3.5M298.8 103.5v3.5M300.5 103.5v3.5M302.0 103.5v3.5M303.3 103.5v3.5M304.5 103.5v3.5M305.5 103.5v5.3M228.5 103.5v3.5M231.5 103.5v3.5M234.5 103.5v3.5" stroke="#111" stroke-width="0.9" fill="none"/>
<text x="234.6" y="115.6" font-size="4.9" fill="#222" font-family="Liberation Sans, sans-serif">10<tspan font-size="4.1" dy="-2.7">2</tspan></text>
<text x="257.0" y="115.6" font-size="4.9" fill="#222" font-family="Liberation Sans, sans-serif">10<tspan font-size="4.1" dy="-2.7">3</tspan></text>
<text x="279.4" y="115.6" font-size="4.9" fill="#222" font-family="Liberation Sans, sans-serif">10<tspan font-size="4.1" dy="-2.7">4</tspan></text>
<text x="301.8" y="115.6" font-size="4.9" fill="#222" font-family="Liberation Sans, sans-serif">10<tspan font-size="4.1" dy="-2.7">5</tspan></text>
<text transform="translate(221.3,97.8) rotate(-90)" font-size="5.5" fill="#222" font-family="Liberation Sans, sans-serif">10<tspan font-size="3.8" dy="-2.3">2</tspan></text>
<text transform="translate(221.3,78.3) rotate(-90)" font-size="5.5" fill="#222" font-family="Liberation Sans, sans-serif">10<tspan font-size="3.8" dy="-2.3">3</tspan></text>
<text transform="translate(221.3,58.8) rotate(-90)" font-size="5.5" fill="#222" font-family="Liberation Sans, sans-serif">10<tspan font-size="3.8" dy="-2.3">4</tspan></text>
<text transform="translate(221.3,39.3) rotate(-90)" font-size="5.5" fill="#222" font-family="Liberation Sans, sans-serif">10<tspan font-size="3.8" dy="-2.3">5</tspan></text>
<path d="M367.5 61.1h.9M376.1 58.8h.9M346.0 76.4h.9M352.9 77.6h.9M366.2 57.8h.9M360.6 72.5h.9M373.7 50.9h.9M353.3 49.5h.9M361.0 55.5h.9M352.8 67.9h.9M377.0 53.1h.9M361.4 60.3h.9M362.9 57.2h.9M349.4 56.0h.9M375.1 62.6h.9M376.3 47.1h.9M349.6 76.5h.9M346.9 65.4h.9M349.2 50.9h.9M359.7 74.8h.9M362.6 47.0h.9M350.4 78.7h.9M370.5 63.4h.9M354.3 56.8h.9M344.3 54.0h.9M372.6 58.4h.9M372.8 77.6h.9M366.8 56.0h.9M358.3 50.4h.9M351.1 57.8h.9M344.4 74.3h.9M360.5 58.0h.9M364.9 61.2h.9M354.1 59.0h.9M358.5 56.4h.9M355.9 61.6h.9M373.1 72.7h.9M373.2 61.7h.9M376.3 48.4h.9M372.6 68.3h.9M343.9 74.0h.9M354.5 66.3h.9M344.9 67.6h.9M366.1 58.0h.9M354.7 72.3h.9M375.0 46.6h.9M353.4 63.6h.9M354.1 57.2h.9M362.8 74.0h.9M371.2 59.1h.9M373.5 78.3h.9M348.1 52.5h.9M377.1 49.7h.9M351.9 78.9h.9M371.6 52.9h.9M357.3 78.8h.9M351.8 71.7h.9M351.9 60.3h.9M375.9 67.9h.9M358.0 77.8h.9M374.4 77.2h.9M361.4 50.5h.9M354.1 52.4h.9M352.9 51.5h.9M366.5 71.8h.9M343.7 73.0h.9M371.1 63.0h.9M377.4 49.8h.9M344.3 50.3h.9M348.1 71.4h.9M365.0 50.5h.9M371.9 69.7h.9M363.1 55.2h.9M356.5 78.3h.9M364.2 48.3h.9M358.2 64.8h.9M367.2 63.9h.9M350.5 68.6h.9M360.6 68.2h.9M377.5 76.0h.9M354.1 71.3h.9M350.3 57.7h.9M345.0 72.1h.9M350.8 73.5h.9M364.0 73.2h.9M367.3 52.4h.9M368.7 72.9h.9M358.3 72.0h.9M354.3 49.6h.9M360.8 48.8h.9M355.8 76.6h.9M373.0 70.9h.9M356.9 51.3h.9M361.2 49.3h.9M369.9 72.6h.9M346.0 56.8h.9M361.5 59.0h.9M367.3 47.7h.9M369.4 68.1h.9M350.9 49.1h.9M358.1 48.6h.9M365.7 48.6h.9M355.3 51.5h.9M356.0 46.8h.9M373.7 54.6h.9M361.0 50.4h.9M364.5 52.2h.9M369.2 48.8h.9M368.9 55.1h.9M374.8 57.5h.9M372.6 54.4h.9M356.2 58.6h.9M370.0 54.6h.9M363.3 47.7h.9M357.6 58.7h.9M365.7 51.9h.9M375.7 53.1h.9M362.5 51.9h.9M366.4 54.8h.9M371.3 47.1h.9M372.3 56.1h.9M376.2 51.2h.9M357.8 59.7h.9M361.6 57.9h.9M376.2 56.3h.9M361.5 53.4h.9M368.1 50.2h.9M368.3 59.8h.9M368.5 54.6h.9M365.3 49.9h.9M374.5 47.7h.9M365.9 54.8h.9M377.7 48.8h.9M376.9 55.2h.9M356.1 50.8h.9M383.8 98.6h.9M395.9 98.8h.9M381.6 89.8h.9M400.7 83.8h.9M388.5 93.3h.9M400.9 85.4h.9M385.8 81.8h.9M393.9 93.9h.9M381.5 83.6h.9M391.4 93.6h.9M381.6 98.7h.9M393.5 93.4h.9M395.6 88.5h.9M394.5 88.8h.9M397.9 91.3h.9M381.7 88.5h.9M382.0 98.8h.9M382.3 89.8h.9M397.7 89.3h.9M381.0 85.0h.9M390.2 86.0h.9M399.9 85.4h.9M402.8 94.7h.9M385.9 89.4h.9M394.2 84.2h.9M401.8 83.8h.9M396.5 91.2h.9M400.2 82.8h.9M383.8 92.2h.9M386.5 86.0h.9M388.0 96.3h.9M393.0 83.9h.9M395.6 84.2h.9M380.5 86.4h.9M389.6 90.8h.9M386.1 84.0h.9M399.8 83.2h.9M392.8 97.1h.9M388.8 94.2h.9M386.9 94.0h.9M382.2 100.2h.9M402.7 100.2h.9M396.4 90.2h.9M395.0 97.1h.9M401.4 90.9h.9M388.3 84.8h.9M387.4 95.1h.9M382.5 93.3h.9M381.6 96.6h.9M385.7 90.0h.9M400.7 95.9h.9M383.2 94.4h.9M389.5 100.8h.9M385.9 93.3h.9M391.6 91.0h.9M395.5 89.4h.9M398.9 93.5h.9M386.5 85.2h.9M395.8 92.0h.9M384.3 89.6h.9M375.6 82.0h.9M353.1 82.7h.9M344.6 81.7h.9M375.6 80.6h.9M347.4 81.7h.9M350.5 80.6h.9M361.0 82.6h.9M343.3 83.0h.9M362.2 82.7h.9M351.1 82.7h.9M378.5 83.6h.9M355.9 80.6h.9M355.5 83.2h.9M357.3 82.7h.9M367.0 82.0h.9M350.3 83.1h.9M359.4 82.3h.9M354.8 82.4h.9M364.4 83.4h.9M367.8 82.4h.9M373.0 83.2h.9M370.4 80.8h.9M375.9 82.1h.9M352.1 83.1h.9M348.7 82.7h.9M344.5 82.9h.9M370.6 83.0h.9M361.7 83.2h.9M350.0 82.2h.9M362.6 81.5h.9M375.8 83.8h.9M362.7 80.6h.9M354.0 83.1h.9M361.4 83.0h.9M362.6 83.3h.9M373.4 83.8h.9M360.4 83.1h.9M372.3 81.4h.9M376.5 80.9h.9M358.8 80.8h.9M374.3 83.1h.9M344.4 81.7h.9M367.8 81.3h.9M349.2 81.6h.9M356.7 82.3h.9M408.6 88.0h.9M426.7 83.0h.9M407.4 86.3h.9M415.4 95.3h.9M415.1 101.6h.9M415.0 84.2h.9M405.2 94.4h.9M404.5 97.8h.9M421.9 41.6h.9M428.1 77.4h.9M413.6 36.3h.9M416.2 43.5h.9M424.6 35.5h.9M416.8 49.4h.9M391.0 40.8h.9M355.9 38.1h.9M371.4 40.6h.9M370.3 43.1h.9M367.3 41.7h.9M355.4 38.1h.9M370.9 42.8h.9M366.2 44.6h.9" stroke="#000" stroke-width="0.9" fill="none" stroke-opacity="0.45" filter="url(#bl)"/>
<path d="M378.0 57.2h.9M369.8 58.9h.9M371.7 48.8h.9M373.5 66.7h.9M376.4 51.7h.9M372.9 72.8h.9M377.4 63.4h.9M375.7 63.6h.9M369.9 61.7h.9M375.4 58.9h.9M376.4 68.3h.9M374.2 57.7h.9M370.5 70.8h.9M372.3 63.0h.9M378.6 67.3h.9M370.3 59.2h.9M371.7 65.5h.9M375.0 58.1h.9M374.6 49.0h.9M371.8 58.4h.9M376.4 57.0h.9M373.5 63.2h.9M378.4 48.1h.9M375.6 61.8h.9M373.8 62.3h.9M390.6 46.5h.9M397.5 48.6h.9M389.9 50.2h.9M386.2 47.5h.9M397.4 50.4h.9M384.4 49.0h.9M390.5 47.5h.9M385.6 47.5h.9M389.7 51.0h.9M396.1 51.4h.9M397.3 50.2h.9M399.6 49.7h.9M401.9 50.9h.9M403.7 49.2h.9M387.1 53.5h.9M390.3 49.8h.9M389.6 47.5h.9M394.9 46.7h.9M391.1 51.5h.9M392.9 50.3h.9M396.2 49.5h.9M392.7 50.0h.9M385.9 49.9h.9M385.2 47.4h.9M395.3 50.0h.9M396.9 47.4h.9M396.6 46.7h.9M404.7 47.0h.9M389.4 50.2h.9M386.0 49.2h.9M398.3 49.1h.9M398.0 47.9h.9M401.7 47.6h.9M386.5 48.8h.9M402.9 47.5h.9M391.9 48.1h.9M386.1 46.3h.9M395.8 50.1h.9M387.2 49.2h.9M394.9 49.5h.9M391.0 48.9h.9M393.8 46.8h.9M391.1 50.3h.9M388.4 51.3h.9M390.5 46.7h.9M392.1 48.4h.9M390.1 49.6h.9M393.9 47.8h.9M397.3 48.0h.9M397.8 51.3h.9M394.4 50.5h.9M383.5 49.9h.9M382.5 48.5h.9M387.0 47.3h.9M386.0 48.8h.9M396.1 46.6h.9M382.4 49.7h.9M397.6 47.3h.9M394.3 47.3h.9M398.9 52.1h.9M387.9 47.9h.9M402.0 51.8h.9M391.9 50.0h.9M381.8 48.2h.9M390.2 48.5h.9M385.3 52.8h.9M396.7 49.7h.9M404.6 49.5h.9M396.7 49.2h.9M389.5 51.0h.9M397.7 50.0h.9M395.7 50.2h.9M390.2 49.6h.9M392.5 48.3h.9M396.2 52.8h.9M389.2 51.1h.9M385.5 48.5h.9M398.6 48.7h.9M394.3 46.5h.9M384.7 51.9h.9M393.0 48.6h.9M383.1 46.9h.9M385.4 48.7h.9M391.3 47.7h.9M387.7 49.0h.9M382.9 50.9h.9M382.9 48.0h.9M392.8 52.2h.9M391.5 50.8h.9M392.9 47.3h.9M397.3 51.6h.9M390.7 50.3h.9M385.2 51.6h.9M387.9 47.3h.9M396.3 52.6h.9M382.8 48.4h.9M394.9 47.7h.9M382.0 49.4h.9M398.4 49.0h.9M385.1 48.2h.9M399.8 50.9h.9M391.5 49.6h.9M388.7 49.0h.9M388.2 49.1h.9M388.7 49.2h.9M396.5 48.8h.9M383.7 49.7h.9M390.4 47.9h.9M395.6 47.2h.9M398.0 49.9h.9M387.6 47.5h.9M391.2 47.1h.9M393.0 48.1h.9M385.0 50.0h.9M388.9 49.7h.9M389.2 48.3h.9M395.4 50.6h.9M398.4 48.8h.9M401.5 48.2h.9M382.8 47.2h.9M392.2 48.7h.9M393.5 48.6h.9M390.4 48.2h.9M392.3 46.7h.9M400.2 51.7h.9M392.2 53.1h.9M385.8 50.5h.9M381.6 49.9h.9M387.2 50.7h.9M392.7 50.6h.9M395.9 49.8h.9M390.3 51.8h.9M394.3 49.7h.9M401.2 48.3h.9M403.2 50.9h.9M399.8 48.2h.9M392.6 49.0h.9M398.1 50.0h.9M394.3 49.1h.9M397.1 49.9h.9M402.4 47.4h.9M400.4 49.5h.9M393.9 50.1h.9M389.9 50.2h.9M390.7 50.2h.9M387.2 51.0h.9M382.3 47.6h.9M391.7 49.3h.9M386.9 48.0h.9M393.7 50.8h.9M400.3 47.9h.9M391.6 48.2h.9M382.3 48.0h.9M403.1 49.2h.9M402.2 47.7h.9M400.1 50.2h.9M397.0 50.2h.9M395.8 50.0h.9M399.7 49.6h.9M396.1 49.6h.9M392.9 47.2h.9M396.4 48.2h.9M400.2 54.7h.9M397.0 47.9h.9M394.5 48.4h.9M393.9 52.8h.9M402.3 51.2h.9M393.9 52.2h.9M397.3 50.5h.9M384.6 47.6h.9M393.1 48.4h.9M387.3 48.6h.9M394.0 46.8h.9M391.2 52.2h.9M390.9 48.8h.9M400.1 49.2h.9M400.8 49.4h.9M399.5 51.4h.9M401.9 49.2h.9M396.2 56.2h.9M384.3 49.2h.9M395.1 47.5h.9M397.3 48.5h.9M397.1 49.2h.9M386.1 50.8h.9M404.9 50.6h.9M394.1 48.8h.9M394.9 50.7h.9M396.6 53.1h.9M391.9 51.5h.9M391.9 47.0h.9M391.7 49.6h.9M387.4 47.3h.9M393.8 50.5h.9M390.6 49.7h.9M388.9 48.2h.9M393.3 50.7h.9M402.2 48.6h.9M394.9 52.6h.9M397.4 48.1h.9M398.6 47.9h.9M392.6 48.9h.9M390.8 46.6h.9M391.9 50.1h.9M390.8 48.6h.9M394.1 49.3h.9M389.9 50.9h.9M395.3 51.7h.9M381.6 47.8h.9M388.5 51.2h.9M394.2 47.5h.9M391.4 49.0h.9M389.4 48.2h.9M388.1 49.2h.9M402.2 51.6h.9M384.2 53.2h.9M382.6 49.1h.9M393.6 47.6h.9M387.0 48.4h.9M393.8 50.1h.9M388.3 49.3h.9M394.5 50.3h.9M382.7 51.8h.9M384.5 48.4h.9M389.2 47.9h.9M387.2 50.4h.9M397.1 49.5h.9M384.0 47.6h.9M391.7 49.6h.9M388.6 48.3h.9M387.4 51.9h.9M397.5 46.5h.9M397.1 49.1h.9M387.1 50.3h.9M388.3 48.2h.9M392.2 49.2h.9M389.3 49.4h.9M392.1 49.2h.9M394.6 47.6h.9M383.5 48.7h.9M399.9 49.4h.9M393.5 47.4h.9M384.9 46.4h.9M386.3 48.1h.9M382.4 48.6h.9M382.2 50.1h.9M388.7 49.3h.9M394.5 50.3h.9M389.9 48.5h.9M390.6 49.8h.9M387.8 48.5h.9M393.0 48.2h.9M385.3 51.4h.9M395.3 47.1h.9M404.5 47.4h.9M386.6 48.1h.9M395.5 51.7h.9M400.7 49.9h.9M392.5 50.1h.9M387.2 47.5h.9M395.5 49.2h.9M393.6 46.9h.9M397.9 48.8h.9M388.1 47.9h.9M387.7 51.4h.9M392.2 49.3h.9M386.1 46.3h.9M393.6 48.0h.9M395.3 50.8h.9M391.4 49.8h.9M393.2 49.3h.9M388.9 49.3h.9M394.9 49.0h.9M385.4 51.8h.9M398.5 49.4h.9M394.0 48.5h.9M396.4 50.6h.9M390.6 49.4h.9M386.2 47.7h.9M384.8 48.0h.9M386.8 48.1h.9M395.1 46.6h.9M392.7 51.4h.9M393.3 46.5h.9M388.3 51.0h.9M390.5 47.6h.9M397.0 47.5h.9M385.1 50.0h.9M392.2 47.6h.9M395.0 50.9h.9M398.9 49.0h.9M395.0 49.8h.9M382.8 52.0h.9M388.0 47.8h.9M387.0 47.0h.9M399.0 48.8h.9M393.2 48.7h.9M385.7 48.6h.9M384.5 49.8h.9M385.1 47.6h.9M399.1 65.8h.9M398.1 76.0h.9M392.3 55.2h.9M382.4 50.3h.9M397.7 52.1h.9M388.7 69.2h.9M397.1 60.0h.9M399.8 56.9h.9M393.4 73.5h.9M390.4 64.1h.9M398.1 59.0h.9M399.6 65.0h.9M387.7 62.9h.9M401.4 73.7h.9M394.2 53.0h.9M391.0 65.6h.9M393.5 60.6h.9M389.5 74.0h.9M396.9 70.6h.9M394.8 50.8h.9M400.9 70.6h.9M390.5 47.4h.9M399.2 54.7h.9M386.9 59.3h.9M397.6 52.9h.9M394.4 69.6h.9M398.6 77.0h.9M399.9 59.3h.9M390.5 55.2h.9M407.1 60.1h.9M388.1 76.2h.9M405.7 50.0h.9M397.5 63.5h.9M399.5 50.7h.9M399.6 57.4h.9M397.4 62.3h.9M402.8 47.8h.9M385.5 66.3h.9M393.1 66.5h.9M386.6 61.0h.9M383.7 61.2h.9M398.6 76.3h.9M391.0 69.0h.9M402.5 50.1h.9M388.7 64.3h.9M381.5 57.3h.9M398.6 73.8h.9M387.8 65.8h.9M394.0 66.8h.9M392.3 66.4h.9M388.1 50.8h.9M401.8 57.7h.9M388.0 51.8h.9M388.1 61.3h.9M391.9 68.4h.9M387.0 59.4h.9M384.8 55.7h.9M402.6 59.0h.9M399.7 59.5h.9M387.3 51.7h.9M387.1 63.4h.9M404.5 68.2h.9M388.1 61.2h.9M389.6 71.3h.9M385.7 67.4h.9M386.5 55.6h.9M395.2 61.4h.9M393.8 59.5h.9M388.8 59.0h.9M393.7 51.1h.9M397.6 61.8h.9M389.4 72.6h.9M402.0 56.5h.9M403.2 64.3h.9M388.6 70.8h.9M397.0 69.0h.9M394.4 75.1h.9M399.9 56.9h.9M384.8 59.7h.9M394.5 50.6h.9M392.9 74.5h.9M391.2 70.9h.9M388.3 50.8h.9M399.9 58.4h.9M395.5 70.0h.9M404.2 48.2h.9M397.7 62.3h.9M395.0 77.3h.9M392.6 54.4h.9M396.4 51.5h.9M396.1 53.0h.9M397.3 57.7h.9M389.7 65.3h.9M386.1 57.6h.9M391.7 72.8h.9M404.0 64.7h.9M400.9 57.0h.9M385.6 63.0h.9M383.2 75.8h.9M395.7 71.3h.9M392.8 64.8h.9M392.8 55.2h.9M394.6 58.2h.9M402.7 47.5h.9M393.8 64.3h.9M396.2 63.0h.9M400.0 56.7h.9M385.6 75.0h.9M384.1 69.3h.9M396.1 72.1h.9M393.1 55.9h.9M395.9 58.3h.9M397.6 48.3h.9M390.7 55.1h.9M382.9 70.0h.9M394.7 69.6h.9M394.4 62.6h.9M396.3 64.5h.9M386.6 58.8h.9M405.4 73.7h.9M388.8 50.9h.9M393.0 70.3h.9M399.8 54.4h.9M383.7 71.6h.9M403.3 66.5h.9M397.8 65.5h.9M405.5 70.6h.9M403.0 49.0h.9M390.8 60.0h.9M393.9 59.4h.9M392.8 58.9h.9M391.9 46.4h.9M401.0 60.3h.9M396.3 60.4h.9M392.3 65.2h.9M393.3 67.1h.9M389.1 57.2h.9M395.0 59.1h.9M395.1 73.9h.9M391.4 61.3h.9M390.0 65.3h.9M395.4 52.9h.9M387.8 48.5h.9M392.3 61.5h.9M391.0 59.0h.9M394.9 62.1h.9M406.2 63.7h.9M398.1 55.2h.9M390.7 67.5h.9M390.3 53.7h.9M384.7 62.9h.9M393.5 65.3h.9M388.6 48.1h.9M400.9 60.3h.9M399.0 49.0h.9M395.9 69.6h.9M402.3 77.1h.9M382.7 49.5h.9M390.7 52.4h.9M392.7 52.3h.9M384.9 59.6h.9M394.8 52.6h.9M394.2 47.5h.9M392.0 56.8h.9M391.2 59.3h.9M386.1 47.1h.9M388.8 67.1h.9M388.1 51.0h.9M406.4 57.5h.9M391.6 51.5h.9M403.2 65.1h.9M395.7 75.4h.9M400.9 64.2h.9M390.8 67.7h.9M393.4 78.9h.9M386.1 63.5h.9M400.1 68.6h.9M391.8 56.2h.9M391.3 66.7h.9M391.5 58.7h.9M400.4 58.9h.9M395.5 58.8h.9M388.1 63.6h.9M390.0 54.1h.9M389.3 50.8h.9M382.8 64.5h.9M393.7 51.9h.9M391.4 69.5h.9M400.4 63.6h.9M401.2 69.8h.9M391.1 67.7h.9M395.0 67.4h.9M386.2 63.5h.9M390.8 56.5h.9M393.9 59.6h.9M404.7 59.5h.9M395.6 70.3h.9M403.4 50.7h.9M395.9 47.2h.9M397.1 73.7h.9M390.7 57.3h.9M401.4 64.3h.9M399.0 55.6h.9M392.0 56.4h.9M390.8 75.1h.9M393.6 49.4h.9M395.5 57.9h.9M393.2 64.8h.9M395.2 74.6h.9M385.6 59.1h.9M386.7 66.5h.9M388.7 56.8h.9M391.4 64.4h.9M385.8 46.4h.9M395.2 73.2h.9M390.8 64.0h.9M395.6 61.1h.9M393.9 54.6h.9M392.5 71.7h.9M396.8 72.5h.9M389.4 61.2h.9M390.0 47.1h.9M399.6 57.3h.9M392.4 58.8h.9M391.6 69.9h.9M396.8 61.3h.9M395.4 55.7h.9M389.5 57.3h.9M387.6 58.3h.9M393.3 71.0h.9M390.7 61.3h.9M393.8 54.0h.9M401.0 54.4h.9M397.5 47.5h.9M402.5 49.8h.9M389.4 66.5h.9M383.4 75.8h.9M391.2 66.8h.9M391.5 74.7h.9M389.5 61.6h.9M401.2 74.5h.9M395.4 65.7h.9M391.9 59.3h.9M390.4 63.8h.9M399.2 50.1h.9M386.7 60.4h.9M406.4 62.2h.9M394.8 59.6h.9M383.5 53.0h.9M405.2 48.2h.9M403.3 58.6h.9M397.6 54.6h.9M391.2 62.0h.9M392.0 49.3h.9M392.2 66.3h.9M389.1 63.5h.9M385.6 60.9h.9M386.8 67.5h.9M387.5 66.0h.9M381.5 61.7h.9M400.8 51.9h.9M394.3 51.5h.9M396.9 67.4h.9M401.1 73.1h.9M402.1 52.8h.9M394.7 65.2h.9M395.1 47.1h.9M405.3 58.2h.9M397.2 67.8h.9M385.0 56.7h.9M397.0 66.5h.9M396.4 69.1h.9M395.6 55.6h.9M393.3 58.0h.9M393.2 63.0h.9M390.6 59.6h.9M390.4 51.4h.9M396.1 51.8h.9M397.3 59.7h.9M400.7 65.8h.9M381.5 59.7h.9M398.0 61.0h.9M394.2 70.7h.9M398.1 46.7h.9M394.5 69.9h.9M394.9 47.3h.9M398.8 65.9h.9M401.1 61.7h.9M394.6 68.4h.9M387.1 76.9h.9M396.4 62.2h.9M398.7 67.8h.9M393.3 52.2h.9M399.6 69.3h.9M396.3 53.8h.9M394.6 50.5h.9M399.4 76.1h.9M388.6 54.7h.9M385.7 61.5h.9M392.5 60.1h.9M394.2 55.3h.9M394.6 59.3h.9M389.5 56.8h.9M390.4 47.1h.9M397.2 59.6h.9M395.0 71.4h.9M399.9 55.6h.9M396.1 71.8h.9M392.9 63.7h.9M396.5 49.7h.9M395.7 56.1h.9M392.3 64.3h.9M398.0 51.0h.9M392.3 58.0h.9M388.0 63.6h.9M392.6 53.0h.9M399.8 59.1h.9M386.7 59.0h.9M392.8 62.9h.9M408.0 65.4h.9M402.9 58.2h.9M396.9 64.9h.9M393.3 62.4h.9M391.1 66.8h.9M388.3 76.9h.9M393.1 63.6h.9M396.6 51.2h.9M395.2 55.8h.9M385.8 54.4h.9M387.3 62.4h.9M385.2 62.1h.9M397.4 52.6h.9M387.9 56.5h.9M398.8 73.7h.9M407.3 60.8h.9M397.8 61.9h.9M393.8 49.3h.9M391.7 71.0h.9M402.5 54.0h.9M383.8 78.7h.9M394.1 64.5h.9M395.9 50.4h.9M392.1 53.8h.9M384.3 54.9h.9M389.8 67.7h.9M403.6 52.7h.9M397.5 57.9h.9M381.6 71.6h.9M404.8 51.8h.9M397.8 54.8h.9M393.3 55.4h.9M393.0 60.4h.9M390.1 62.7h.9M385.8 68.0h.9M399.1 56.5h.9M390.6 69.0h.9M393.7 79.3h.9M390.8 53.3h.9M392.1 76.7h.9M396.7 65.4h.9M402.6 79.7h.9M390.6 59.7h.9M389.5 57.9h.9M388.5 48.7h.9M400.3 48.6h.9M398.0 50.0h.9M395.5 66.5h.9M387.8 51.7h.9M387.3 65.5h.9M395.8 70.0h.9M385.0 50.7h.9M393.2 55.5h.9M395.9 71.1h.9M394.7 52.0h.9M393.7 52.8h.9M389.8 78.4h.9M398.1 78.1h.9M392.6 59.3h.9M386.0 62.3h.9M398.4 66.8h.9M386.7 61.0h.9M399.7 55.3h.9M398.3 55.0h.9M393.9 54.2h.9M384.7 51.7h.9M395.0 57.1h.9M393.9 54.2h.9M399.4 58.2h.9M396.4 55.2h.9M402.0 58.9h.9M389.8 63.2h.9M400.7 64.3h.9M392.0 72.0h.9M389.7 48.2h.9M399.6 60.1h.9M392.5 70.2h.9M393.1 66.4h.9M395.3 71.5h.9M397.4 55.3h.9M403.3 56.4h.9M404.7 47.4h.9M397.2 73.3h.9M391.5 64.6h.9M392.5 74.2h.9M396.0 63.5h.9M398.3 61.3h.9M402.0 60.3h.9M397.7 59.4h.9M387.8 55.0h.9M392.8 46.8h.9M393.7 55.3h.9M405.3 57.6h.9M394.7 60.9h.9M383.1 75.7h.9M388.7 51.2h.9M401.2 62.9h.9M388.9 67.4h.9M386.9 76.1h.9M392.0 63.3h.9M393.9 79.0h.9M388.0 59.0h.9M390.9 62.7h.9M392.6 64.4h.9M401.2 48.7h.9M389.9 73.0h.9M397.3 69.8h.9M389.8 51.4h.9M386.9 58.0h.9M386.8 67.0h.9M389.7 65.1h.9M384.2 68.8h.9M398.1 69.3h.9M400.0 60.5h.9M404.0 56.5h.9M394.9 76.2h.9M391.1 60.0h.9M395.5 61.8h.9M392.5 70.0h.9M407.4 56.2h.9M384.8 55.4h.9M385.4 47.4h.9M387.5 70.5h.9M395.0 67.0h.9M393.3 70.1h.9M391.5 72.9h.9M399.5 62.2h.9M384.9 49.1h.9M395.6 49.7h.9M392.9 58.4h.9M402.6 53.2h.9M394.8 55.4h.9M389.3 64.3h.9M395.0 65.2h.9M387.5 56.0h.9M395.9 59.1h.9M402.6 51.3h.9M392.5 65.2h.9M393.6 57.6h.9M393.3 64.0h.9M398.7 49.6h.9M388.4 48.8h.9M394.0 64.9h.9M392.8 57.5h.9M395.6 52.7h.9M391.9 59.4h.9M382.6 66.1h.9M395.3 65.5h.9M390.3 67.4h.9M391.1 67.7h.9M402.4 66.2h.9M385.1 60.7h.9M387.6 79.2h.9M395.3 47.4h.9M384.5 73.1h.9M387.8 64.1h.9M392.0 58.6h.9M391.3 60.1h.9M404.0 51.4h.9M397.2 64.8h.9M389.9 49.2h.9M392.0 68.9h.9M395.6 71.1h.9M396.2 66.6h.9M395.1 67.2h.9M395.2 69.3h.9M392.1 71.3h.9M400.5 65.6h.9M396.9 60.2h.9M395.4 59.0h.9M398.3 66.3h.9M398.6 71.6h.9M392.6 70.0h.9M400.2 76.9h.9M394.7 68.7h.9M392.9 69.2h.9M397.0 73.2h.9M394.5 66.3h.9M396.7 65.2h.9M401.9 55.1h.9M389.3 63.5h.9M397.3 66.1h.9M396.4 58.6h.9M397.0 68.7h.9M400.5 70.1h.9M393.0 62.4h.9M391.2 63.6h.9M394.7 72.2h.9M400.6 66.4h.9M397.0 65.2h.9M390.7 68.6h.9M392.6 58.1h.9M392.2 73.3h.9M391.1 72.7h.9M390.4 65.7h.9M396.7 64.1h.9M391.8 66.0h.9M400.6 69.3h.9M395.7 68.8h.9M399.0 72.5h.9M394.1 61.7h.9M391.7 66.3h.9M394.0 66.1h.9M393.0 78.2h.9M392.7 73.0h.9M392.1 62.2h.9M391.1 60.7h.9M389.5 62.0h.9M394.2 69.4h.9M389.0 68.2h.9M394.6 66.0h.9M387.8 68.4h.9M397.3 71.7h.9M394.0 72.1h.9M395.3 61.5h.9M396.8 70.8h.9M395.8 65.9h.9M394.2 69.3h.9M388.9 67.5h.9M390.7 63.5h.9M395.7 72.1h.9M395.0 61.5h.9M404.2 67.6h.9M385.9 65.6h.9M392.5 63.1h.9M398.6 76.5h.9M395.4 59.5h.9M397.9 66.5h.9M393.6 67.0h.9M391.1 67.0h.9M396.2 71.9h.9M401.8 63.0h.9M396.3 62.2h.9M395.4 71.7h.9M397.2 64.6h.9M401.1 70.4h.9M399.2 66.4h.9M399.5 65.3h.9M398.0 66.2h.9M395.0 58.5h.9M398.3 68.9h.9M392.9 66.4h.9M397.1 69.2h.9M388.0 73.3h.9M391.5 75.3h.9M398.9 66.7h.9M395.7 67.4h.9M393.6 73.5h.9M392.7 63.4h.9M394.2 58.3h.9M398.5 60.3h.9M400.2 70.7h.9M401.9 63.1h.9M394.0 63.8h.9M397.7 61.7h.9M393.9 54.7h.9M395.2 67.1h.9M401.8 61.9h.9M398.3 68.8h.9M398.0 60.6h.9M383.2 63.7h.9M398.3 66.9h.9M400.0 76.6h.9M392.6 64.0h.9M400.3 57.8h.9M386.5 67.4h.9M396.2 73.5h.9M397.5 65.8h.9M393.1 57.0h.9M396.8 63.0h.9M393.7 67.6h.9M388.0 65.6h.9M392.9 75.9h.9M394.6 71.6h.9M391.6 58.2h.9M398.1 64.3h.9M390.4 71.3h.9M396.8 57.5h.9M394.2 75.9h.9M395.4 59.3h.9M392.2 72.9h.9M400.2 69.5h.9M389.8 70.2h.9M392.2 63.5h.9M393.3 71.4h.9M396.8 68.9h.9M393.5 63.5h.9M398.7 63.0h.9M394.1 68.8h.9M394.4 71.0h.9M397.0 69.2h.9M403.0 63.3h.9M402.3 59.6h.9M392.3 53.6h.9M392.7 62.0h.9M397.5 72.3h.9M403.1 63.4h.9M398.7 65.1h.9M393.8 56.3h.9M398.0 61.3h.9M397.3 62.7h.9M396.7 61.3h.9M396.4 75.1h.9M396.3 59.1h.9M392.3 66.7h.9M397.8 59.8h.9M391.9 57.9h.9M401.1 67.5h.9M396.2 63.8h.9M401.7 68.9h.9M394.7 72.2h.9M397.1 64.6h.9M393.8 66.1h.9M399.8 58.9h.9M389.3 69.4h.9M398.7 73.4h.9M397.0 58.5h.9M397.9 66.9h.9M391.5 57.9h.9M389.7 66.4h.9M390.6 67.8h.9M394.5 69.3h.9M398.1 61.4h.9M393.7 69.8h.9M392.8 71.2h.9M397.1 70.6h.9M393.0 70.0h.9M394.3 67.1h.9M397.2 63.2h.9M394.9 54.0h.9M392.6 69.2h.9M391.3 55.3h.9M390.1 64.5h.9M397.4 68.7h.9M390.1 68.1h.9M390.8 71.5h.9M396.4 62.8h.9M393.4 65.6h.9M393.0 71.9h.9M396.1 63.1h.9M396.6 59.0h.9M399.5 54.3h.9M397.3 55.7h.9M399.7 48.6h.9M400.1 71.0h.9M401.4 53.0h.9M400.1 64.4h.9M395.8 64.4h.9M398.0 65.6h.9M396.6 61.3h.9M397.3 62.4h.9M401.7 57.7h.9M396.6 61.3h.9M400.1 50.5h.9M400.7 55.1h.9M398.7 51.0h.9M399.6 60.4h.9M396.6 60.1h.9M393.7 56.6h.9M399.8 51.1h.9M399.5 49.3h.9M404.5 58.0h.9M402.2 51.3h.9M392.4 55.6h.9M402.9 55.2h.9M402.4 58.0h.9M400.0 61.4h.9M397.3 53.9h.9M402.2 58.3h.9M397.5 50.5h.9M401.7 55.2h.9M395.3 58.1h.9M400.4 67.6h.9M396.3 59.9h.9M397.6 55.7h.9M398.8 63.3h.9M400.0 55.2h.9M397.2 61.1h.9M397.0 58.1h.9M400.2 59.8h.9M401.3 57.4h.9M404.7 60.0h.9M396.9 51.4h.9M397.0 62.8h.9M395.9 64.0h.9M400.2 53.0h.9M396.2 55.5h.9M401.2 55.6h.9M401.1 56.9h.9M402.9 53.5h.9M398.6 50.2h.9M398.1 50.9h.9M394.7 54.9h.9M395.4 48.9h.9M400.1 58.9h.9M399.9 55.0h.9M396.8 56.9h.9M396.6 54.8h.9M400.2 54.7h.9M394.5 61.1h.9M397.4 53.6h.9M397.5 55.7h.9M398.6 57.8h.9M401.6 65.4h.9M393.0 55.4h.9M396.5 57.1h.9M396.2 56.3h.9M399.8 55.8h.9M399.7 59.3h.9M396.0 55.7h.9M402.0 60.7h.9M401.8 51.8h.9M397.1 61.0h.9M399.0 57.5h.9M398.0 60.6h.9M399.5 50.9h.9M400.1 54.2h.9M398.3 58.9h.9M399.4 53.1h.9M395.7 53.7h.9M398.6 49.9h.9M397.3 67.8h.9M397.2 56.3h.9M395.5 54.3h.9M399.7 56.8h.9M394.2 56.2h.9M396.3 61.5h.9M398.7 64.0h.9M400.0 50.1h.9M401.7 53.5h.9M398.7 56.5h.9M388.6 95.5h.9M397.1 89.2h.9M390.1 92.5h.9M381.7 90.9h.9M398.7 83.4h.9M382.2 90.4h.9M393.6 88.2h.9M389.5 98.8h.9M401.9 99.6h.9M384.2 87.1h.9M386.2 98.2h.9M393.8 91.6h.9M382.4 96.1h.9M401.5 85.3h.9M386.8 81.2h.9M398.6 85.5h.9M384.1 97.5h.9M395.0 89.4h.9M385.7 99.2h.9M387.9 95.0h.9M394.3 88.4h.9M401.4 88.9h.9M386.1 85.3h.9M381.3 89.6h.9M400.5 94.9h.9M388.0 86.7h.9M397.8 96.6h.9M387.2 85.8h.9M386.1 96.4h.9M390.8 93.8h.9M395.1 96.2h.9M392.1 81.5h.9M394.7 85.6h.9M398.9 92.1h.9M395.3 94.0h.9M398.8 96.5h.9M400.2 96.7h.9M386.0 95.2h.9M388.1 95.3h.9M392.5 91.9h.9M382.5 84.5h.9M383.3 82.9h.9M399.2 98.3h.9M388.0 89.6h.9M392.8 94.2h.9M382.3 99.5h.9M381.2 83.2h.9M396.0 87.3h.9M394.2 91.6h.9M390.8 90.8h.9M398.0 88.7h.9M397.0 92.2h.9M399.5 83.0h.9M386.9 81.4h.9M381.1 91.3h.9M390.3 84.5h.9M383.8 84.8h.9M399.7 91.7h.9M389.5 91.8h.9M389.8 90.3h.9M382.1 99.7h.9M393.1 94.8h.9M399.8 82.9h.9M381.8 85.3h.9M384.2 84.7h.9M389.0 96.8h.9M393.2 94.7h.9M391.2 98.6h.9M399.4 83.5h.9M395.0 99.1h.9M398.1 91.5h.9M389.0 82.7h.9M386.3 82.7h.9M382.0 95.8h.9M391.3 88.0h.9M395.8 87.1h.9M400.2 85.4h.9M384.8 85.2h.9M401.0 97.8h.9M384.8 98.6h.9M381.2 94.3h.9M390.4 85.3h.9M393.3 85.3h.9M391.8 95.2h.9M389.6 98.1h.9M399.7 84.5h.9M385.0 81.2h.9M388.1 82.4h.9M387.0 83.3h.9M390.8 85.9h.9M400.4 96.1h.9M388.1 91.2h.9M382.3 82.2h.9M398.1 82.7h.9M388.4 85.5h.9M385.0 85.1h.9M385.2 98.7h.9M385.7 93.4h.9M385.7 98.7h.9M399.7 90.7h.9M400.8 94.8h.9M399.8 90.9h.9M382.2 82.4h.9M398.6 99.3h.9M389.5 97.9h.9M400.0 87.0h.9M396.8 95.8h.9M394.9 85.4h.9M381.6 87.3h.9M386.3 90.9h.9M388.1 88.6h.9M387.3 83.6h.9M386.5 93.7h.9M386.5 98.0h.9M399.2 89.7h.9M386.9 93.4h.9M399.6 96.5h.9M385.0 85.0h.9M381.5 98.9h.9M386.5 88.5h.9M397.0 86.5h.9M396.0 81.3h.9M389.2 81.5h.9M398.1 86.4h.9M398.0 95.4h.9M382.9 86.7h.9M397.6 94.0h.9M389.5 83.5h.9M384.1 87.6h.9M391.1 93.4h.9M399.2 94.1h.9M392.4 91.0h.9M393.7 82.0h.9M381.4 91.3h.9M389.8 97.5h.9M385.5 87.6h.9M385.9 93.4h.9M397.8 82.9h.9M388.8 93.9h.9M396.4 95.6h.9M384.0 94.7h.9M390.2 97.9h.9M384.7 96.9h.9M400.2 92.6h.9M384.1 87.6h.9M388.4 97.8h.9M384.2 88.9h.9M388.4 91.1h.9M396.2 81.6h.9M385.5 82.6h.9M382.8 86.4h.9M398.2 102.0h.9M393.3 86.4h.9M384.2 91.8h.9M385.9 87.6h.9M387.9 91.9h.9M396.1 92.0h.9M393.2 92.9h.9M398.2 81.2h.9M391.3 82.5h.9M390.3 85.1h.9M390.6 90.8h.9M391.4 92.9h.9M388.2 95.4h.9M400.9 86.9h.9M389.0 89.6h.9M384.9 87.8h.9M390.3 94.3h.9M382.2 89.9h.9M395.8 89.2h.9M388.5 86.6h.9M389.9 86.7h.9M389.1 82.0h.9M394.4 96.8h.9M389.1 95.1h.9M393.1 87.9h.9M388.1 92.7h.9M397.7 88.1h.9M386.9 94.4h.9M399.2 81.5h.9M383.8 83.9h.9M387.1 84.2h.9M385.4 90.5h.9M382.5 99.1h.9M392.7 87.8h.9M381.9 99.6h.9M385.0 87.2h.9M391.6 82.1h.9M390.6 83.7h.9M387.0 83.3h.9M392.1 96.6h.9M388.9 99.8h.9M387.9 87.2h.9M389.7 85.2h.9M386.0 91.1h.9M391.9 84.6h.9M385.8 88.3h.9M386.1 81.3h.9M387.6 92.3h.9M388.6 85.5h.9M354.0 88.7h.9M352.5 90.6h.9M352.4 90.8h.9M367.1 88.3h.9M376.8 85.4h.9M353.1 97.4h.9M366.0 89.7h.9M352.7 97.2h.9M356.0 98.9h.9M375.2 86.8h.9M366.8 88.3h.9M362.9 100.6h.9M365.4 100.2h.9M354.7 89.3h.9M362.0 90.7h.9M361.4 88.7h.9M350.0 95.3h.9M346.5 88.3h.9M345.7 96.8h.9M348.2 89.1h.9M373.3 93.6h.9M359.3 90.1h.9M361.1 98.4h.9M355.5 86.5h.9M349.1 97.0h.9M359.7 101.2h.9M350.4 97.2h.9M356.5 89.2h.9M368.3 89.9h.9M350.5 92.3h.9M357.8 85.6h.9M378.0 91.4h.9M355.6 86.4h.9M347.8 87.4h.9M345.1 94.1h.9M365.8 99.7h.9M351.9 98.9h.9M369.4 85.1h.9M349.6 87.7h.9M373.9 97.8h.9M344.8 88.5h.9M348.3 95.6h.9M357.9 101.5h.9M372.6 89.3h.9M352.3 93.3h.9M357.1 98.7h.9M349.4 100.0h.9M363.7 91.3h.9M377.3 90.4h.9M370.3 101.8h.9M374.6 102.2h.9M358.4 98.3h.9M372.5 89.5h.9M358.8 101.0h.9M370.6 89.6h.9M370.4 86.1h.9M356.7 94.6h.9M353.5 84.2h.9M363.2 95.4h.9M366.3 87.1h.9M345.0 84.8h.9M362.1 84.7h.9M349.8 93.2h.9M356.0 96.7h.9M347.3 93.6h.9M357.7 87.6h.9M375.2 101.2h.9M377.2 88.6h.9M343.4 96.9h.9M374.9 90.4h.9M353.2 98.9h.9M362.4 94.9h.9M368.1 93.6h.9M372.0 94.3h.9M369.1 84.2h.9M359.8 100.7h.9M360.0 96.8h.9M361.6 101.2h.9M345.2 89.2h.9M348.5 100.1h.9M377.6 87.5h.9M352.8 88.6h.9M364.3 97.1h.9M351.7 99.3h.9M358.8 93.2h.9M355.6 92.4h.9M343.7 84.7h.9M377.3 89.3h.9M355.1 102.1h.9M353.7 85.7h.9M373.8 91.4h.9M365.8 89.5h.9M347.1 88.1h.9M370.1 94.0h.9M366.4 97.5h.9M363.1 96.6h.9M349.5 87.4h.9M358.2 99.6h.9M350.6 98.4h.9M372.3 97.6h.9M346.4 86.4h.9M371.6 88.1h.9M343.3 94.8h.9M367.6 99.2h.9M368.2 95.0h.9M355.5 101.1h.9M352.1 92.4h.9M346.5 94.7h.9M367.2 93.5h.9M356.0 84.8h.9M365.3 84.8h.9M369.8 95.4h.9M373.5 96.2h.9M369.9 89.2h.9M376.4 94.8h.9M362.2 91.1h.9M372.9 95.7h.9M362.4 95.3h.9M370.8 102.3h.9M349.6 101.8h.9M352.7 92.0h.9M368.9 99.0h.9M354.8 89.7h.9M361.6 92.9h.9M357.0 89.6h.9M342.9 101.2h.9M355.1 100.9h.9M365.1 86.0h.9M348.9 90.9h.9M349.6 85.9h.9M370.1 93.1h.9M348.0 93.5h.9M367.0 99.5h.9M358.2 87.9h.9M343.9 94.9h.9M361.5 102.4h.9M351.4 85.0h.9M361.6 96.9h.9M350.9 89.1h.9M349.3 99.6h.9M363.2 89.1h.9M355.4 88.7h.9M343.3 99.4h.9M370.2 89.8h.9M354.9 101.2h.9M352.0 97.0h.9M375.5 89.6h.9M370.7 89.9h.9M377.8 86.7h.9M348.8 96.9h.9M354.9 92.4h.9M373.3 87.0h.9M350.6 95.4h.9M351.0 92.4h.9M350.4 95.8h.9M366.1 84.9h.9M370.9 101.3h.9M353.3 98.6h.9M353.6 100.6h.9M376.9 97.1h.9M357.3 90.4h.9M349.1 100.3h.9M376.0 97.1h.9M375.5 90.2h.9M345.5 92.9h.9M378.5 95.0h.9M372.6 96.0h.9M357.3 93.0h.9M351.2 91.2h.9M377.0 101.0h.9M364.6 97.1h.9M354.2 95.9h.9M375.0 85.4h.9M377.6 87.2h.9M344.1 84.4h.9M357.1 97.7h.9M351.2 101.4h.9M370.1 86.6h.9M370.6 87.9h.9M368.1 84.9h.9M371.3 90.5h.9M367.3 85.3h.9M360.5 91.1h.9M347.8 91.8h.9M377.5 84.7h.9M377.1 90.3h.9M371.5 99.1h.9M363.5 95.4h.9M377.4 92.2h.9M371.6 92.9h.9M354.2 102.4h.9M347.5 101.6h.9M369.3 87.2h.9M374.5 84.7h.9M368.4 101.8h.9M370.0 101.0h.9M367.6 97.5h.9M375.1 101.2h.9M355.7 87.2h.9M356.2 85.9h.9M375.1 91.9h.9M377.7 86.0h.9M359.0 95.2h.9M355.8 97.1h.9M352.0 84.6h.9M374.5 93.9h.9M354.2 98.5h.9M346.2 89.6h.9M360.3 99.9h.9M363.6 92.5h.9M365.0 101.2h.9M356.0 87.5h.9M361.9 86.5h.9M351.3 96.2h.9M358.7 87.3h.9M342.6 102.0h.9M372.8 95.8h.9M362.6 92.8h.9M377.4 102.3h.9M376.6 96.0h.9M366.2 101.1h.9M350.8 93.1h.9M363.0 90.0h.9M363.7 94.8h.9M375.8 92.6h.9M357.2 94.2h.9M342.6 84.5h.9M343.5 100.3h.9M373.7 98.0h.9M351.9 95.4h.9M347.9 94.0h.9M361.4 96.5h.9M346.9 101.1h.9M363.7 102.5h.9M345.8 97.4h.9M371.9 102.4h.9M351.0 90.0h.9M374.6 96.9h.9M346.5 95.2h.9M353.2 98.8h.9M346.3 97.4h.9M356.9 86.9h.9M351.6 98.8h.9M376.6 101.9h.9M343.9 100.3h.9M365.1 91.2h.9M343.9 97.3h.9M361.8 88.0h.9M361.8 85.5h.9M376.5 99.7h.9M368.9 102.4h.9M348.9 93.0h.9M376.9 100.7h.9M365.6 86.1h.9M360.3 94.2h.9M361.9 89.3h.9M350.5 89.6h.9M351.4 101.8h.9M348.6 87.8h.9M377.9 86.4h.9M343.7 91.3h.9M362.5 96.2h.9M373.7 100.9h.9M343.0 98.8h.9M350.4 95.3h.9M372.2 86.2h.9M362.0 101.2h.9M357.2 95.8h.9M370.1 90.7h.9M346.4 96.8h.9M343.3 101.2h.9M359.8 94.2h.9M347.6 93.9h.9M358.3 96.1h.9M345.8 89.3h.9M362.0 98.3h.9M366.3 84.5h.9M376.4 91.3h.9M365.4 102.2h.9M372.6 90.7h.9M351.7 93.4h.9M360.5 86.5h.9M364.5 99.6h.9M348.9 95.4h.9M361.9 87.9h.9M373.3 86.5h.9M370.6 85.4h.9M374.6 89.0h.9M367.6 96.3h.9M366.8 98.3h.9M352.3 92.2h.9M363.8 97.2h.9M357.2 90.6h.9M365.0 85.7h.9M361.9 91.4h.9M367.1 90.1h.9M344.5 96.9h.9M354.0 85.3h.9M344.1 101.6h.9M360.6 86.6h.9M344.8 94.3h.9M358.1 84.9h.9M362.0 93.4h.9M363.4 86.0h.9M342.7 95.5h.9M342.6 93.4h.9M356.5 100.0h.9M361.5 86.7h.9M347.7 99.2h.9M350.8 95.0h.9M355.1 89.6h.9M355.7 95.5h.9M355.5 90.2h.9M355.4 99.7h.9M377.6 98.1h.9M369.9 91.0h.9M368.7 96.4h.9M378.1 88.5h.9M342.6 93.5h.9M368.0 89.9h.9M377.5 87.7h.9M365.6 99.8h.9M378.0 91.1h.9M368.8 86.6h.9M360.5 86.5h.9M370.4 93.9h.9M344.6 102.0h.9M360.3 99.8h.9M375.5 94.9h.9M358.3 96.6h.9M360.4 87.4h.9M342.5 98.1h.9M375.5 97.2h.9M361.7 99.5h.9M354.4 89.2h.9M370.8 100.4h.9M362.6 93.8h.9M364.6 91.2h.9M357.8 85.3h.9M363.7 98.9h.9M355.2 97.0h.9M368.8 96.7h.9M348.8 92.2h.9M364.2 100.3h.9M343.3 85.9h.9M349.4 98.7h.9M348.2 93.9h.9M353.4 96.8h.9M357.9 89.0h.9M361.6 100.5h.9M373.6 93.9h.9M368.3 101.1h.9M368.0 95.4h.9M370.2 86.1h.9M363.1 88.8h.9M360.5 85.6h.9M352.8 93.6h.9M371.8 102.1h.9M377.6 95.5h.9M371.6 91.2h.9M346.9 89.7h.9M366.8 94.4h.9M346.6 88.0h.9M367.2 101.4h.9M358.5 93.6h.9M374.7 97.7h.9M366.7 94.0h.9M371.9 90.0h.9M344.4 99.0h.9M366.9 85.8h.9M376.4 92.6h.9M359.0 85.5h.9M347.8 98.9h.9M367.9 94.5h.9M361.6 90.6h.9M370.9 102.1h.9M345.7 88.9h.9M370.3 96.8h.9M370.7 86.5h.9M357.2 92.7h.9M343.3 94.5h.9M348.4 93.2h.9M370.1 85.7h.9M376.2 97.8h.9M355.6 85.7h.9M367.2 92.0h.9M378.4 92.7h.9M364.6 90.3h.9M347.8 91.6h.9M350.4 93.4h.9M351.5 97.4h.9M373.4 96.5h.9M352.7 85.0h.9M369.5 91.4h.9M377.6 86.2h.9M364.7 99.9h.9M353.6 91.3h.9M351.8 84.3h.9M377.1 91.4h.9M372.2 84.1h.9M374.9 93.0h.9M372.4 89.6h.9M350.9 92.5h.9M357.3 90.1h.9M348.9 84.5h.9M343.2 86.7h.9M349.9 99.4h.9M366.4 94.4h.9M345.1 89.8h.9M376.7 100.6h.9M374.8 90.7h.9M365.9 88.6h.9M365.6 93.9h.9M363.6 85.0h.9M350.9 89.2h.9M361.2 89.8h.9M356.0 93.2h.9M362.8 90.6h.9M355.0 94.6h.9M365.0 97.7h.9M365.2 86.2h.9M355.3 95.8h.9M368.2 100.8h.9M368.8 95.1h.9M364.5 89.0h.9M363.2 90.8h.9M354.5 88.1h.9M376.9 101.9h.9M353.5 93.5h.9M344.9 99.3h.9M352.1 99.8h.9M350.9 93.5h.9M367.3 95.0h.9M375.1 97.6h.9M359.8 91.2h.9M356.8 92.4h.9M372.2 84.5h.9M353.4 96.9h.9M346.4 98.8h.9M355.2 100.4h.9M351.0 98.3h.9M373.4 90.0h.9M362.8 98.3h.9M376.4 94.6h.9M374.7 100.5h.9M377.4 87.8h.9M358.9 95.4h.9M364.5 85.9h.9M363.2 101.0h.9M362.0 87.3h.9M353.6 100.8h.9M357.6 85.5h.9M352.8 94.6h.9M348.4 93.1h.9M359.9 96.3h.9M352.5 87.5h.9M359.3 87.4h.9M362.7 91.3h.9M373.1 87.4h.9M361.6 89.2h.9M347.5 86.5h.9M362.6 93.6h.9M364.8 96.6h.9M345.2 101.9h.9M376.3 88.8h.9M348.6 98.7h.9M345.5 95.9h.9M353.6 101.8h.9M347.3 93.1h.9M347.0 86.4h.9M368.3 98.6h.9M348.1 102.4h.9M347.9 89.5h.9M351.4 88.7h.9M364.0 84.2h.9M371.5 99.1h.9M376.9 96.0h.9M347.3 89.3h.9M347.2 101.3h.9M364.3 97.2h.9M370.1 97.9h.9M377.4 87.4h.9M355.7 92.8h.9M364.5 93.3h.9M351.5 89.8h.9M366.8 85.4h.9M372.3 85.6h.9M357.8 100.2h.9M349.2 93.6h.9M350.0 86.1h.9M364.5 100.6h.9M357.3 101.0h.9M354.2 96.6h.9M373.8 87.3h.9M368.8 89.2h.9M356.8 86.7h.9M374.8 89.3h.9M356.9 99.7h.9M357.2 94.7h.9M363.7 98.6h.9M358.7 100.4h.9M350.7 102.4h.9M342.9 99.1h.9M361.2 100.2h.9M348.2 85.7h.9M370.3 91.7h.9M352.5 99.7h.9M364.1 87.9h.9M363.3 95.1h.9M344.3 93.7h.9M364.0 87.5h.9M374.8 90.9h.9M362.7 89.9h.9M358.1 102.1h.9M356.2 92.6h.9M351.7 91.5h.9M352.8 101.8h.9M376.2 86.7h.9M370.2 100.5h.9M366.6 101.4h.9M349.7 100.5h.9M363.2 97.1h.9M354.7 97.7h.9M367.5 89.6h.9M343.2 96.4h.9M344.2 100.3h.9M365.1 101.7h.9M346.0 93.4h.9M344.2 97.4h.9M345.6 88.6h.9M347.9 89.4h.9M365.6 100.6h.9M361.1 97.4h.9M354.0 90.0h.9M347.6 88.2h.9M344.9 91.2h.9M357.2 88.0h.9M357.4 94.4h.9M350.6 88.2h.9M353.2 99.6h.9M362.1 97.5h.9M350.5 89.5h.9M362.9 88.3h.9M354.7 92.3h.9M347.6 87.7h.9M350.5 95.5h.9M355.8 99.1h.9M359.4 101.3h.9M348.5 91.5h.9M351.8 89.1h.9M349.9 94.4h.9M352.8 91.3h.9M363.1 97.8h.9M366.9 95.0h.9M357.9 95.8h.9M367.0 91.9h.9M365.1 94.5h.9M362.9 98.6h.9M350.2 95.8h.9M354.5 89.4h.9M352.6 101.1h.9M351.4 88.9h.9M360.7 94.0h.9M358.7 88.9h.9M356.4 93.6h.9M357.7 94.0h.9M357.2 101.6h.9M345.5 87.8h.9M351.8 88.8h.9M343.4 98.1h.9M364.6 87.1h.9M347.4 90.1h.9M352.6 101.7h.9M344.6 92.8h.9M356.5 90.0h.9M351.4 97.4h.9M360.6 98.8h.9M361.0 92.0h.9M346.1 87.2h.9M360.2 98.8h.9M361.1 95.9h.9M353.3 87.7h.9M354.4 88.7h.9M350.3 98.3h.9M358.0 100.2h.9M365.3 97.7h.9M367.3 89.3h.9M362.1 96.4h.9M357.1 88.8h.9M355.7 100.4h.9M361.4 100.8h.9M363.2 88.0h.9M353.1 99.5h.9M361.6 94.3h.9M354.6 92.8h.9M352.2 92.2h.9M355.0 95.7h.9M346.6 89.5h.9M359.2 95.5h.9M355.5 94.7h.9M351.9 101.8h.9M350.4 94.9h.9M350.4 95.9h.9M350.6 93.3h.9M343.8 92.0h.9M354.5 96.1h.9M363.0 87.7h.9M351.0 90.6h.9M354.7 100.4h.9M367.2 97.7h.9M367.3 94.4h.9M358.9 89.0h.9M361.7 90.9h.9M357.2 90.4h.9M356.1 92.9h.9M365.8 94.7h.9M362.8 90.8h.9M355.9 94.8h.9M350.7 93.1h.9M343.0 89.2h.9M351.3 97.1h.9M357.9 97.6h.9M344.9 90.2h.9M367.1 89.0h.9M347.1 95.2h.9M354.7 99.9h.9M365.2 95.6h.9M354.4 93.6h.9M368.7 88.6h.9M355.3 98.3h.9M360.3 88.4h.9M364.0 100.7h.9M362.3 89.6h.9M366.3 89.1h.9M342.9 97.4h.9M360.8 98.5h.9M356.5 88.0h.9M343.5 96.6h.9M362.7 92.1h.9M362.8 92.6h.9M354.6 97.2h.9M360.7 96.6h.9M346.2 97.2h.9M363.2 98.1h.9M359.2 95.8h.9M349.0 101.7h.9M368.3 90.8h.9M359.9 98.1h.9M355.0 91.3h.9M351.8 89.3h.9M363.8 94.7h.9M369.0 90.2h.9M368.5 96.6h.9M357.1 88.6h.9M344.3 94.4h.9M345.7 96.4h.9M348.7 100.6h.9M359.7 87.7h.9M365.3 97.1h.9M348.2 92.5h.9M360.4 100.2h.9M353.1 99.0h.9M367.4 101.1h.9M358.9 99.1h.9M344.5 97.6h.9M365.1 92.1h.9M365.0 92.2h.9M364.6 91.9h.9M357.2 96.2h.9M345.7 88.2h.9M351.7 93.4h.9M359.4 101.2h.9M367.5 88.9h.9M361.3 88.7h.9M344.2 88.5h.9M366.2 97.5h.9M356.3 95.5h.9M359.1 88.6h.9M355.1 100.4h.9M343.4 97.5h.9M344.4 94.9h.9M347.2 88.1h.9M344.2 93.3h.9M368.3 89.2h.9M354.2 91.5h.9M352.2 90.2h.9M353.0 101.5h.9M346.2 99.3h.9M363.6 93.8h.9M360.8 95.2h.9M368.8 87.8h.9M362.6 99.1h.9M359.8 101.4h.9M343.9 96.1h.9M362.3 88.1h.9M356.7 99.1h.9M360.3 92.6h.9M364.2 100.5h.9M348.6 90.7h.9M364.3 98.2h.9M353.9 101.7h.9M368.4 95.8h.9M352.6 88.3h.9M342.8 92.8h.9M354.0 88.3h.9M348.4 99.8h.9M362.3 92.3h.9M345.3 100.8h.9M366.5 98.3h.9M360.6 97.1h.9M349.7 95.3h.9M342.6 91.8h.9M347.4 88.6h.9M361.7 93.5h.9M350.9 98.6h.9M359.5 97.0h.9M366.4 89.7h.9M354.4 88.0h.9M362.0 98.1h.9M343.3 92.1h.9M344.4 99.1h.9M358.6 90.7h.9M361.0 100.8h.9M365.7 92.7h.9M343.1 92.5h.9M349.5 97.5h.9M351.3 99.5h.9M349.9 100.2h.9M367.1 95.0h.9M343.4 98.7h.9M365.2 89.0h.9M361.8 88.4h.9M350.9 91.3h.9M346.6 96.5h.9M368.6 94.5h.9M367.5 90.9h.9M345.9 91.2h.9M364.2 91.8h.9M351.7 99.9h.9M358.6 92.9h.9M365.6 89.1h.9M347.8 96.1h.9M355.6 97.1h.9M364.1 97.1h.9M347.1 97.7h.9M348.7 88.4h.9M350.4 92.7h.9M355.9 88.7h.9M359.3 92.6h.9M368.7 94.1h.9M364.5 99.0h.9M358.5 96.8h.9M344.8 100.5h.9M368.1 100.6h.9M344.7 90.2h.9M350.9 89.6h.9M349.3 88.4h.9M358.0 99.9h.9M351.4 99.4h.9M365.5 95.5h.9M365.4 90.7h.9M358.7 96.5h.9M342.6 101.6h.9M349.4 94.7h.9M363.4 94.1h.9M345.8 101.6h.9M365.5 94.3h.9M351.1 87.1h.9M350.8 101.5h.9M362.5 89.2h.9M359.7 88.3h.9M355.5 101.1h.9M343.2 94.4h.9M368.1 88.5h.9M354.4 98.9h.9M364.8 94.9h.9M357.8 95.0h.9M360.3 101.5h.9M360.0 90.3h.9M348.7 94.3h.9M360.2 98.8h.9M349.7 89.8h.9M344.9 98.3h.9M343.3 87.2h.9M354.2 98.9h.9M368.5 90.9h.9M351.8 88.6h.9M346.0 89.9h.9M363.5 97.5h.9M361.0 98.5h.9M347.8 101.3h.9M356.6 90.9h.9M363.8 90.7h.9M343.0 98.2h.9M345.9 101.7h.9M364.8 92.0h.9M368.1 95.8h.9M356.9 91.2h.9M366.4 96.1h.9M350.2 91.6h.9M350.4 91.9h.9M367.3 95.5h.9M359.1 98.0h.9M344.2 95.9h.9M363.2 88.2h.9M367.2 94.3h.9M343.0 101.4h.9M353.3 99.2h.9M368.4 87.5h.9M349.8 94.3h.9M350.4 97.5h.9M352.1 94.1h.9M353.4 98.5h.9M356.9 92.7h.9M365.6 93.5h.9M368.8 88.9h.9M345.0 97.3h.9M366.0 87.8h.9M351.6 97.8h.9M361.6 95.2h.9M360.7 99.9h.9M357.8 92.6h.9M348.0 91.9h.9M364.2 99.7h.9M352.1 90.5h.9M368.4 87.8h.9M352.8 93.0h.9M361.0 87.6h.9M360.5 87.6h.9M348.0 93.5h.9M362.8 89.8h.9M359.8 87.4h.9M346.6 91.5h.9M344.5 98.9h.9M357.7 99.3h.9M354.9 95.2h.9M343.3 100.8h.9M350.8 96.5h.9M365.0 93.0h.9M351.6 98.3h.9M363.8 100.5h.9M353.2 92.0h.9M355.9 95.8h.9M360.3 99.3h.9M359.2 90.7h.9M363.0 98.5h.9M364.7 88.5h.9M353.1 99.6h.9M352.9 89.4h.9M343.5 97.4h.9M365.0 94.8h.9M350.1 94.7h.9M364.0 95.7h.9M349.1 88.6h.9M348.5 92.6h.9M347.8 94.4h.9M351.1 94.4h.9M355.5 93.7h.9M359.7 91.5h.9M363.9 94.8h.9M355.3 93.9h.9M366.2 93.7h.9M371.1 94.4h.9M358.2 93.9h.9M358.7 95.9h.9M349.6 97.3h.9M356.9 90.3h.9M348.2 90.3h.9M358.3 90.8h.9M371.6 92.0h.9M346.9 89.9h.9M354.8 93.2h.9M364.9 90.7h.9M359.0 98.0h.9M352.9 86.2h.9M358.1 98.3h.9M359.6 93.9h.9M353.8 88.6h.9M352.4 94.5h.9M356.1 89.9h.9M365.6 96.6h.9M351.8 88.7h.9M343.1 98.5h.9M356.5 101.0h.9M360.3 91.5h.9M364.4 90.9h.9M352.9 96.1h.9M357.2 95.1h.9M357.8 98.4h.9M347.3 85.1h.9M374.9 90.9h.9M355.3 95.3h.9M348.0 91.7h.9M358.2 93.9h.9M363.7 92.8h.9M349.0 87.5h.9M358.8 92.0h.9M362.0 88.6h.9M352.3 92.8h.9M348.2 92.6h.9M355.7 97.0h.9M363.8 89.7h.9M360.4 92.1h.9M364.5 91.3h.9M366.3 89.9h.9M351.0 97.6h.9M365.8 97.6h.9M375.4 98.3h.9M355.6 97.9h.9M347.4 97.4h.9M359.6 93.2h.9M348.5 98.5h.9M351.3 90.2h.9M349.6 95.1h.9M375.2 101.5h.9M353.7 92.0h.9M361.7 90.2h.9M351.6 100.5h.9M359.0 87.4h.9M358.6 96.0h.9M356.2 87.8h.9M363.6 101.7h.9M362.1 93.7h.9M359.4 98.9h.9M350.4 99.4h.9M358.1 94.8h.9M360.0 95.2h.9M346.5 100.7h.9M350.8 92.7h.9M361.3 93.4h.9M354.6 92.2h.9M361.8 91.0h.9M347.7 95.2h.9M369.9 96.3h.9M348.9 88.0h.9M363.9 96.1h.9M355.1 96.6h.9M361.5 96.1h.9M368.8 87.1h.9M349.2 91.5h.9M345.8 102.5h.9M359.2 95.7h.9M363.5 92.8h.9M364.0 92.9h.9M363.1 96.3h.9M368.6 87.1h.9M346.5 90.5h.9M347.5 95.5h.9M365.3 92.3h.9M366.3 97.8h.9M349.8 96.8h.9M369.9 91.7h.9M358.5 96.6h.9M360.8 93.6h.9M355.6 90.3h.9M375.1 100.7h.9M354.3 90.1h.9M360.0 100.9h.9M356.2 90.2h.9M365.1 95.0h.9M347.8 92.9h.9M357.3 89.0h.9M358.6 99.5h.9M366.2 99.4h.9M363.2 93.5h.9M361.9 99.3h.9M356.2 96.2h.9M349.6 93.9h.9M351.0 89.2h.9M357.7 90.6h.9M357.4 97.7h.9M361.6 96.4h.9M373.9 94.8h.9M368.1 91.4h.9M346.9 91.5h.9M351.5 97.9h.9M363.3 94.0h.9M347.0 94.6h.9M351.7 92.3h.9M377.8 92.1h.9M363.8 101.5h.9M365.5 101.8h.9M357.7 87.2h.9M357.5 90.1h.9M364.2 84.5h.9M346.2 88.8h.9M357.0 98.5h.9M352.9 88.2h.9M350.9 93.3h.9M367.4 94.5h.9M343.0 91.2h.9M360.9 95.0h.9M358.8 93.1h.9M347.5 89.5h.9M351.3 86.4h.9M354.7 96.1h.9M351.0 99.9h.9M358.0 98.1h.9M347.1 94.9h.9M359.1 92.3h.9M366.4 94.5h.9M356.0 94.6h.9M365.6 101.1h.9M351.2 94.0h.9M351.2 89.8h.9M366.1 95.1h.9M348.7 100.5h.9M353.5 95.0h.9M354.2 94.7h.9M343.1 84.2h.9M344.3 91.7h.9M354.0 93.6h.9M351.6 98.6h.9M353.5 90.1h.9M369.6 93.4h.9M366.9 96.4h.9M353.2 98.4h.9M351.6 93.0h.9M368.4 96.7h.9M358.0 99.9h.9M356.9 99.5h.9M366.5 91.4h.9M362.0 99.0h.9M358.8 92.1h.9M364.8 99.1h.9M355.8 96.3h.9M357.3 95.1h.9M359.6 92.2h.9M363.3 95.6h.9M373.3 95.3h.9M357.1 88.5h.9M350.9 92.7h.9M356.0 93.5h.9M372.9 91.8h.9M353.7 91.9h.9M362.0 86.6h.9M365.9 92.3h.9M342.7 97.1h.9M356.1 90.9h.9M363.5 93.6h.9M350.2 98.3h.9M356.3 94.3h.9M347.3 87.7h.9M351.3 95.2h.9M351.8 95.3h.9M353.4 92.8h.9M355.5 95.5h.9M353.9 91.9h.9M365.7 99.1h.9M367.4 97.2h.9M360.5 94.5h.9M363.5 90.9h.9M354.6 95.3h.9M354.4 88.3h.9M355.0 92.0h.9M349.5 96.6h.9M366.6 94.3h.9M344.4 93.1h.9M354.0 89.2h.9M349.8 94.5h.9M350.0 95.8h.9M342.8 96.8h.9M348.9 94.4h.9M356.1 91.6h.9M366.3 85.9h.9M357.9 96.7h.9M353.4 93.6h.9M344.4 93.6h.9M357.5 91.2h.9M356.0 92.2h.9M345.6 93.5h.9M348.0 97.7h.9M348.0 100.0h.9M355.6 93.7h.9M348.5 95.7h.9M345.5 86.9h.9M360.1 84.5h.9M367.2 91.4h.9M371.6 94.9h.9M372.3 87.3h.9M351.4 95.0h.9M350.2 94.1h.9M354.2 96.7h.9M370.2 84.2h.9M362.1 88.7h.9M372.2 87.2h.9M347.4 96.0h.9M354.1 96.8h.9M359.5 90.4h.9M353.6 93.3h.9M352.7 92.6h.9M348.5 94.0h.9M358.3 88.3h.9M364.6 91.4h.9M354.1 91.6h.9M359.8 93.4h.9M350.2 90.4h.9M360.3 95.4h.9M351.4 95.5h.9M357.6 84.8h.9M349.9 94.8h.9M368.5 95.5h.9M343.3 97.7h.9M353.0 97.4h.9M367.8 94.9h.9M357.6 93.3h.9M357.8 89.2h.9M368.2 97.3h.9M365.5 93.4h.9M364.3 98.1h.9M348.3 90.2h.9M364.6 95.9h.9M361.4 94.0h.9M347.6 94.4h.9M347.2 89.9h.9M350.6 96.3h.9M352.5 89.1h.9M357.3 96.0h.9M369.0 88.2h.9M370.8 92.7h.9M365.9 96.1h.9M364.3 89.8h.9M361.1 86.5h.9M372.7 95.5h.9M361.0 94.2h.9M362.3 94.7h.9M346.4 92.2h.9M354.2 95.4h.9M377.3 91.9h.9M351.5 93.4h.9M378.2 89.0h.9M352.0 96.2h.9M365.6 95.5h.9M357.1 98.1h.9M345.9 100.7h.9M350.9 95.5h.9M346.5 91.1h.9M366.0 96.3h.9M354.0 97.3h.9M347.5 93.8h.9M371.5 86.3h.9M362.7 92.4h.9M370.9 95.3h.9M348.3 91.9h.9M356.4 101.3h.9M356.9 91.5h.9M351.9 97.5h.9M352.8 101.5h.9M365.0 94.5h.9M357.0 92.3h.9M371.4 92.9h.9M358.8 87.9h.9M353.9 94.6h.9M355.1 94.0h.9M366.1 96.9h.9M364.0 91.3h.9M350.7 93.8h.9M359.3 93.8h.9M356.8 99.0h.9M353.6 88.1h.9M362.8 100.0h.9M365.8 94.0h.9M351.3 98.1h.9M349.3 93.5h.9M343.1 94.6h.9M368.6 95.8h.9M342.7 91.6h.9M348.2 87.3h.9M363.5 96.0h.9M354.1 100.3h.9M363.3 91.2h.9M356.4 93.2h.9M355.9 99.6h.9M368.9 89.6h.9M376.1 86.8h.9M363.0 99.0h.9M357.4 96.1h.9M349.3 100.3h.9M353.9 91.5h.9M361.0 94.0h.9M373.7 96.6h.9M359.4 90.4h.9M361.6 87.5h.9M348.2 99.9h.9M358.8 88.8h.9M349.5 93.3h.9M359.2 94.7h.9M363.4 85.6h.9M351.3 94.4h.9M366.8 91.1h.9M343.3 91.6h.9M348.7 98.8h.9M361.8 93.2h.9M359.2 100.8h.9M353.1 88.9h.9M356.3 88.5h.9M358.3 97.7h.9M352.3 98.0h.9M368.4 102.0h.9M352.4 96.5h.9M364.3 97.5h.9M365.8 96.1h.9M363.2 98.0h.9M361.1 96.5h.9M359.0 93.6h.9M356.4 91.5h.9M351.5 99.4h.9M350.7 93.4h.9M368.7 95.3h.9M361.4 91.6h.9M350.3 87.0h.9M362.6 94.0h.9M348.8 94.2h.9M367.4 98.0h.9M364.2 99.0h.9M358.6 94.0h.9M356.1 96.1h.9M356.5 90.1h.9M350.4 99.0h.9M352.1 93.5h.9M371.3 89.7h.9M355.7 92.1h.9M350.8 93.2h.9M361.7 92.8h.9M365.7 97.2h.9M345.2 94.2h.9M354.3 88.3h.9M359.1 99.3h.9M372.0 97.3h.9M359.9 99.6h.9M354.8 92.2h.9M366.0 96.8h.9M350.9 92.1h.9M352.3 91.8h.9M350.0 91.7h.9M357.4 94.1h.9M357.5 101.3h.9M356.6 91.4h.9M376.3 91.7h.9M363.1 95.0h.9M354.6 89.6h.9M357.7 94.8h.9M374.5 87.3h.9M352.7 98.9h.9M371.1 90.1h.9M347.1 93.2h.9M372.3 93.1h.9M364.0 93.2h.9M345.2 95.1h.9M360.2 90.7h.9M375.7 93.9h.9M360.5 87.5h.9M350.9 94.9h.9M363.6 96.5h.9M344.7 98.8h.9M357.2 93.7h.9M355.3 90.3h.9M359.5 93.4h.9M354.1 94.9h.9M353.7 93.1h.9M367.4 97.0h.9M356.8 94.5h.9M369.8 88.1h.9M358.2 94.8h.9M352.5 90.6h.9M347.7 93.7h.9M365.3 92.6h.9M344.5 95.7h.9M368.2 95.3h.9M351.4 92.2h.9" stroke="#000" stroke-width="0.9" fill="none" stroke-opacity="0.8" filter="url(#bl)"/>
<rect x="341.5" y="27.5" width="89.20" height="76.00" fill="none" stroke="#7a7a7a" stroke-width="1"/>
<line x1="430.7" y1="27.5" x2="430.7" y2="103.5" stroke="#777" stroke-width="1"/>
<line x1="341.5" y1="27.5" x2="341.5" y2="103.5" stroke="#111" stroke-width="1.3"/>
<line x1="341.5" y1="103.5" x2="430.7" y2="103.5" stroke="#111" stroke-width="1.3"/>
<line x1="379.5" y1="27.5" x2="379.5" y2="103.5" stroke="#333" stroke-width="1"/>
<line x1="341.5" y1="79.8" x2="430.7" y2="79.8" stroke="#999" stroke-width="1.1"/>
<path d="M337.9 94.5h3.6M339.1 88.6h2.4M339.1 85.2h2.4M339.1 82.8h2.4M339.1 80.9h2.4M339.1 79.3h2.4M339.1 78.0h2.4M339.1 76.9h2.4M339.1 75.9h2.4M337.9 75.0h3.6M339.1 69.1h2.4M339.1 65.7h2.4M339.1 63.3h2.4M339.1 61.4h2.4M339.1 59.8h2.4M339.1 58.5h2.4M339.1 57.4h2.4M339.1 56.4h2.4M337.9 55.5h3.6M339.1 49.6h2.4M339.1 46.2h2.4M339.1 43.8h2.4M339.1 41.9h2.4M339.1 40.3h2.4M339.1 39.0h2.4M339.1 37.9h2.4M339.1 36.9h2.4M337.9 36.0h3.6M339.1 97.5h2.4M339.1 100.0h2.4M339.1 102.0h2.4M339.1 30.1h2.4M354.3 103.5v5.3M361.0 103.5v3.5M365.0 103.5v3.5M367.8 103.5v3.5M370.0 103.5v3.5M371.7 103.5v3.5M373.2 103.5v3.5M374.5 103.5v3.5M375.7 103.5v3.5M376.7 103.5v5.3M383.4 103.5v3.5M387.4 103.5v3.5M390.2 103.5v3.5M392.4 103.5v3.5M394.1 103.5v3.5M395.6 103.5v3.5M396.9 103.5v3.5M398.1 103.5v3.5M399.1 103.5v5.3M405.8 103.5v3.5M409.8 103.5v3.5M412.6 103.5v3.5M414.8 103.5v3.5M416.5 103.5v3.5M418.0 103.5v3.5M419.3 103.5v3.5M420.5 103.5v3.5M421.5 103.5v5.3M344.5 103.5v3.5M347.5 103.5v3.5M350.5 103.5v3.5" stroke="#111" stroke-width="0.9" fill="none"/>
<text x="350.6" y="115.6" font-size="4.9" fill="#222" font-family="Liberation Sans, sans-serif">10<tspan font-size="4.1" dy="-2.7">2</tspan></text>
<text x="373.0" y="115.6" font-size="4.9" fill="#222" font-family="Liberation Sans, sans-serif">10<tspan font-size="4.1" dy="-2.7">3</tspan></text>
<text x="395.4" y="115.6" font-size="4.9" fill="#222" font-family="Liberation Sans, sans-serif">10<tspan font-size="4.1" dy="-2.7">4</tspan></text>
<text x="417.8" y="115.6" font-size="4.9" fill="#222" font-family="Liberation Sans, sans-serif">10<tspan font-size="4.1" dy="-2.7">5</tspan></text>
<text transform="translate(337.3,97.8) rotate(-90)" font-size="5.5" fill="#222" font-family="Liberation Sans, sans-serif">10<tspan font-size="3.8" dy="-2.3">2</tspan></text>
<text transform="translate(337.3,78.3) rotate(-90)" font-size="5.5" fill="#222" font-family="Liberation Sans, sans-serif">10<tspan font-size="3.8" dy="-2.3">3</tspan></text>
<text transform="translate(337.3,58.8) rotate(-90)" font-size="5.5" fill="#222" font-family="Liberation Sans, sans-serif">10<tspan font-size="3.8" dy="-2.3">4</tspan></text>
<text transform="translate(337.3,39.3) rotate(-90)" font-size="5.5" fill="#222" font-family="Liberation Sans, sans-serif">10<tspan font-size="3.8" dy="-2.3">5</tspan></text>
<text x="367.4" y="68.8" font-size="6.6" fill="#222" font-family="Liberation Sans, sans-serif">Q2</text>
<text x="1" y="172.6" font-size="11.2" font-weight="bold" font-family="Liberation Sans, sans-serif">B</text>
<text x="28.3" y="296.70" font-size="8.3" fill="#3a3a3a" text-anchor="end" font-family="Liberation Sans, sans-serif">0</text>
<text x="28.3" y="273.30" font-size="8.3" fill="#3a3a3a" text-anchor="end" font-family="Liberation Sans, sans-serif">20</text>
<text x="28.3" y="249.90" font-size="8.3" fill="#3a3a3a" text-anchor="end" font-family="Liberation Sans, sans-serif">40</text>
<text x="28.3" y="226.50" font-size="8.3" fill="#3a3a3a" text-anchor="end" font-family="Liberation Sans, sans-serif">60</text>
<text x="28.3" y="203.10" font-size="8.3" fill="#3a3a3a" text-anchor="end" font-family="Liberation Sans, sans-serif">80</text>
<text x="28.3" y="179.70" font-size="8.3" fill="#3a3a3a" text-anchor="end" font-family="Liberation Sans, sans-serif">100</text>
<text x="34.90" y="308.8" font-size="8.3" fill="#3a3a3a" text-anchor="middle" font-family="Liberation Sans, sans-serif">2</text>
<text x="68.88" y="308.8" font-size="8.3" fill="#3a3a3a" text-anchor="middle" font-family="Liberation Sans, sans-serif">3</text>
<text x="102.86" y="308.8" font-size="8.3" fill="#3a3a3a" text-anchor="middle" font-family="Liberation Sans, sans-serif">4</text>
<text x="136.84" y="308.8" font-size="8.3" fill="#3a3a3a" text-anchor="middle" font-family="Liberation Sans, sans-serif">5</text>
<text x="170.82" y="308.8" font-size="8.3" fill="#3a3a3a" text-anchor="middle" font-family="Liberation Sans, sans-serif">6</text>
<text x="204.80" y="308.8" font-size="8.3" fill="#3a3a3a" text-anchor="middle" font-family="Liberation Sans, sans-serif">7</text>
<path d="M32.5 293.30H206M32.5 269.90H200.6M32.5 246.50H200.6M32.5 223.10H200.6M32.5 199.70H200.6M32.5 176.30H206M34.90 293.30v2.2M68.88 293.30v2.2M102.86 293.30v2.2M136.84 293.30v2.2M170.82 293.30v2.2M204.80 293.30v2.2M34.90 295.50V176.30" stroke="#d9d9d9" stroke-width="0.9" fill="none"/>
<text x="119.8" y="323.0" font-size="8.3" font-weight="bold" fill="#111" text-anchor="middle" font-family="Liberation Sans, sans-serif">Days in culture</text>
<text transform="translate(10.6,239.6) rotate(-90)" font-size="8.75" font-weight="bold" fill="#111" text-anchor="middle" font-family="Liberation Sans, sans-serif">CLL cell survival (%)</text>
<path d="M68.88 197.95L102.86 192.68L136.84 200.64L170.82 208.48" stroke="#000" stroke-width="1.25" fill="none"/>
<path d="M68.88 200.29L102.86 194.44L136.84 208.36L170.82 223.10" stroke="#000" stroke-width="1.25" fill="none" stroke-dasharray="5 3"/>
<path d="M68.88 202.62L102.86 210.23L136.84 221.70L170.82 240.65" stroke="#000" stroke-width="1.25" fill="none" stroke-dasharray="5 2.2 1.5 2.2"/>
<path d="M68.88 204.38L102.86 216.08L136.84 227.78L170.82 241.82" stroke="#000" stroke-width="1.25" fill="none" stroke-dasharray="4 2 1.3 2 1.3 2"/>
<path d="M68.88 206.14L102.86 217.25L136.84 240.06L170.82 270.72" stroke="#000" stroke-width="1.25" fill="none" stroke-dasharray="1.4 2.6"/>
<path d="M68.88 214.56L102.86 242.64L136.84 259.37L170.82 277.39" stroke="#000" stroke-width="1.25" fill="none" stroke-dasharray="6 3"/>
<path d="M68.88 221.35L102.86 275.75L170.82 293.30" stroke="#444" stroke-width="1.0" fill="none"/>
<path d="M68.88 189.17V206.72M67.78 189.17h2.2M67.78 206.72h2.2" stroke="#444" stroke-width="0.7" fill="none"/>
<path d="M102.86 186.25V199.12M101.76 186.25h2.2M101.76 199.12h2.2" stroke="#444" stroke-width="0.7" fill="none"/>
<path d="M136.84 197.71V203.56M135.74 197.71h2.2M135.74 203.56h2.2" stroke="#444" stroke-width="0.7" fill="none"/>
<path d="M170.82 202.62V214.33M169.72 202.62h2.2M169.72 214.33h2.2" stroke="#444" stroke-width="0.7" fill="none"/>
<path d="M68.88 194.44V206.14M67.78 194.44h2.2M67.78 206.14h2.2" stroke="#444" stroke-width="0.7" fill="none"/>
<path d="M102.86 189.76V199.12M101.76 189.76h2.2M101.76 199.12h2.2" stroke="#444" stroke-width="0.7" fill="none"/>
<path d="M136.84 204.85V211.87M135.74 204.85h2.2M135.74 211.87h2.2" stroke="#444" stroke-width="0.7" fill="none"/>
<path d="M170.82 218.42V227.78M169.72 218.42h2.2M169.72 227.78h2.2" stroke="#444" stroke-width="0.7" fill="none"/>
<path d="M68.88 196.78V208.48M67.78 196.78h2.2M67.78 208.48h2.2" stroke="#444" stroke-width="0.7" fill="none"/>
<path d="M102.86 204.38V216.08M101.76 204.38h2.2M101.76 216.08h2.2" stroke="#444" stroke-width="0.7" fill="none"/>
<path d="M136.84 217.02V226.38M135.74 217.02h2.2M135.74 226.38h2.2" stroke="#444" stroke-width="0.7" fill="none"/>
<path d="M170.82 235.97V245.33M169.72 235.97h2.2M169.72 245.33h2.2" stroke="#444" stroke-width="0.7" fill="none"/>
<path d="M68.88 198.53V210.23M67.78 198.53h2.2M67.78 210.23h2.2" stroke="#444" stroke-width="0.7" fill="none"/>
<path d="M102.86 209.06V223.10M101.76 209.06h2.2M101.76 223.10h2.2" stroke="#444" stroke-width="0.7" fill="none"/>
<path d="M136.84 221.93V233.63M135.74 221.93h2.2M135.74 233.63h2.2" stroke="#444" stroke-width="0.7" fill="none"/>
<path d="M170.82 232.46V251.18M169.72 232.46h2.2M169.72 251.18h2.2" stroke="#444" stroke-width="0.7" fill="none"/>
<path d="M68.88 200.29V211.99M67.78 200.29h2.2M67.78 211.99h2.2" stroke="#444" stroke-width="0.7" fill="none"/>
<path d="M102.86 205.55V228.95M101.76 205.55h2.2M101.76 228.95h2.2" stroke="#444" stroke-width="0.7" fill="none"/>
<path d="M136.84 230.71V249.43M135.74 230.71h2.2M135.74 249.43h2.2" stroke="#444" stroke-width="0.7" fill="none"/>
<path d="M170.82 264.87V276.57M169.72 264.87h2.2M169.72 276.57h2.2" stroke="#444" stroke-width="0.7" fill="none"/>
<path d="M68.88 211.05V218.07M67.78 211.05h2.2M67.78 218.07h2.2" stroke="#444" stroke-width="0.7" fill="none"/>
<path d="M102.86 239.13V246.15M101.76 239.13h2.2M101.76 246.15h2.2" stroke="#444" stroke-width="0.7" fill="none"/>
<path d="M136.84 248.84V269.90M135.74 248.84h2.2M135.74 269.90h2.2" stroke="#444" stroke-width="0.7" fill="none"/>
<path d="M170.82 271.54V283.24M169.72 271.54h2.2M169.72 283.24h2.2" stroke="#444" stroke-width="0.7" fill="none"/>
<path d="M68.88 214.33V228.37M67.78 214.33h2.2M67.78 228.37h2.2" stroke="#444" stroke-width="0.7" fill="none"/>
<path d="M102.86 271.07V280.43M101.76 271.07h2.2M101.76 280.43h2.2" stroke="#444" stroke-width="0.7" fill="none"/>
<rect x="67.08" y="196.15" width="3.60" height="3.60" fill="#000" stroke="#000" stroke-width="0.8"/>
<rect x="101.06" y="190.88" width="3.60" height="3.60" fill="#000" stroke="#000" stroke-width="0.8"/>
<rect x="135.04" y="198.84" width="3.60" height="3.60" fill="#000" stroke="#000" stroke-width="0.8"/>
<rect x="169.02" y="206.68" width="3.60" height="3.60" fill="#000" stroke="#000" stroke-width="0.8"/>
<circle cx="68.88" cy="200.29" r="1.80" fill="#000" stroke="#000" stroke-width="0.8"/>
<circle cx="102.86" cy="194.44" r="1.80" fill="#000" stroke="#000" stroke-width="0.8"/>
<circle cx="136.84" cy="208.36" r="1.80" fill="#000" stroke="#000" stroke-width="0.8"/>
<circle cx="170.82" cy="223.10" r="1.80" fill="#000" stroke="#000" stroke-width="0.8"/>
<path d="M68.88 200.65L70.77 204.06L66.99 204.06Z" fill="#000" stroke="#000" stroke-width="0.8"/>
<path d="M102.86 208.25L104.75 211.67L100.97 211.67Z" fill="#000" stroke="#000" stroke-width="0.8"/>
<path d="M136.84 219.72L138.73 223.14L134.95 223.14Z" fill="#000" stroke="#000" stroke-width="0.8"/>
<path d="M170.82 238.67L172.71 242.09L168.93 242.09Z" fill="#000" stroke="#000" stroke-width="0.8"/>
<path d="M67.28 202.78L70.48 205.98M70.48 202.78L67.28 205.98" stroke="#000" stroke-width="0.8" fill="none"/>
<path d="M101.26 214.48L104.46 217.68M104.46 214.48L101.26 217.68" stroke="#000" stroke-width="0.8" fill="none"/>
<path d="M135.24 226.18L138.44 229.38M138.44 226.18L135.24 229.38" stroke="#000" stroke-width="0.8" fill="none"/>
<path d="M169.22 240.22L172.42 243.42M172.42 240.22L169.22 243.42" stroke="#000" stroke-width="0.8" fill="none"/>
<path d="M68.88 203.98L71.04 206.14L68.88 208.30L66.72 206.14Z" fill="#000" stroke="#000" stroke-width="0.8"/>
<path d="M102.86 215.09L105.02 217.25L102.86 219.41L100.70 217.25Z" fill="#000" stroke="#000" stroke-width="0.8"/>
<path d="M136.84 237.91L139.00 240.06L136.84 242.22L134.68 240.06Z" fill="#000" stroke="#000" stroke-width="0.8"/>
<path d="M170.82 268.56L172.98 270.72L170.82 272.88L168.66 270.72Z" fill="#000" stroke="#000" stroke-width="0.8"/>
<rect x="67.08" y="212.76" width="3.60" height="3.60" fill="#fff" stroke="#555" stroke-width="0.8"/>
<rect x="101.06" y="240.84" width="3.60" height="3.60" fill="#fff" stroke="#555" stroke-width="0.8"/>
<rect x="135.04" y="257.57" width="3.60" height="3.60" fill="#fff" stroke="#555" stroke-width="0.8"/>
<rect x="169.02" y="275.59" width="3.60" height="3.60" fill="#fff" stroke="#555" stroke-width="0.8"/>
<circle cx="68.88" cy="221.35" r="1.80" fill="#fff" stroke="#555" stroke-width="0.8"/>
<circle cx="102.86" cy="275.75" r="1.80" fill="#fff" stroke="#555" stroke-width="0.8"/>
<circle cx="170.82" cy="293.30" r="1.80" fill="#fff" stroke="#555" stroke-width="0.8"/>
<path d="M203.2 206.10H221.8" stroke="#000" stroke-width="1.3" fill="none"/>
<rect x="210.65" y="204.25" width="3.70" height="3.70" fill="#000" stroke="#000" stroke-width="0.9"/>
<text x="223.7" y="208.95" font-size="8.15" font-weight="bold" fill="#1a1a1a" font-family="Liberation Sans, sans-serif">1.6E+07</text>
<path d="M203.4 217.62H210.5M214.5 217.62H219.8" stroke="#000" stroke-width="1.3" fill="none"/>
<circle cx="212.50" cy="217.62" r="1.85" fill="#000" stroke="#000" stroke-width="0.9"/>
<text x="223.7" y="220.47" font-size="8.15" font-weight="bold" fill="#1a1a1a" font-family="Liberation Sans, sans-serif">8.0E+06</text>
<path d="M203.4 229.14H209.8M216.8 229.14H219.6" stroke="#000" stroke-width="1.3" fill="none"/>
<path d="M212.50 227.10L214.44 230.62L210.56 230.62Z" fill="#000" stroke="#000" stroke-width="0.9"/>
<text x="223.7" y="231.99" font-size="8.15" font-weight="bold" fill="#1a1a1a" font-family="Liberation Sans, sans-serif">4.0E+06</text>
<path d="M203.4 240.66H209.8M216.8 240.66H219.6" stroke="#000" stroke-width="1.3" fill="none"/>
<path d="M210.70 238.86L214.30 242.46M214.30 238.86L210.70 242.46" stroke="#000" stroke-width="0.9" fill="none"/>
<text x="223.7" y="243.51" font-size="8.15" font-weight="bold" fill="#1a1a1a" font-family="Liberation Sans, sans-serif">2.0E+06</text>
<path d="M203.8 252.18H205.3M207.6 252.18H209.1M216.0 252.18H217.5M219.3 252.18H220.8" stroke="#000" stroke-width="1.3" fill="none"/>
<path d="M212.50 249.96L214.72 252.18L212.50 254.40L210.28 252.18Z" fill="#000" stroke="#000" stroke-width="0.9"/>
<text x="223.7" y="255.03" font-size="8.15" font-weight="bold" fill="#1a1a1a" font-family="Liberation Sans, sans-serif">1.0E+06</text>
<path d="M203.4 263.70H210.3M214.7 263.70H220.0" stroke="#000" stroke-width="1.3" fill="none"/>
<rect x="210.65" y="261.85" width="3.70" height="3.70" fill="#fff" stroke="#555" stroke-width="0.9"/>
<text x="223.7" y="266.55" font-size="8.15" font-weight="bold" fill="#1a1a1a" font-family="Liberation Sans, sans-serif">5.0E+05</text>
<path d="M203.2 275.22H221.8" stroke="#444" stroke-width="0.9" fill="none" stroke-dasharray="1 0.9"/>
<circle cx="212.50" cy="275.22" r="1.85" fill="#fff" stroke="#555" stroke-width="0.9"/>
<text x="223.7" y="278.07" font-size="8.15" font-weight="bold" fill="#1a1a1a" font-family="Liberation Sans, sans-serif">2.5E+05</text>
<text x="269.3" y="173.3" font-size="11.6" font-weight="bold" font-family="Liberation Sans, sans-serif">C</text>
<text x="292.5" y="280.70" font-size="6.9" font-weight="bold" fill="#111" text-anchor="end" font-family="Liberation Sans, sans-serif">0</text>
<text x="292.5" y="261.68" font-size="6.9" font-weight="bold" fill="#111" text-anchor="end" font-family="Liberation Sans, sans-serif">20</text>
<text x="292.5" y="242.66" font-size="6.9" font-weight="bold" fill="#111" text-anchor="end" font-family="Liberation Sans, sans-serif">40</text>
<text x="292.5" y="223.64" font-size="6.9" font-weight="bold" fill="#111" text-anchor="end" font-family="Liberation Sans, sans-serif">60</text>
<text x="292.5" y="204.62" font-size="6.9" font-weight="bold" fill="#111" text-anchor="end" font-family="Liberation Sans, sans-serif">80</text>
<text x="292.5" y="185.60" font-size="6.9" font-weight="bold" fill="#111" text-anchor="end" font-family="Liberation Sans, sans-serif">100</text>
<text x="297.80" y="290.9" font-size="6.8" font-weight="bold" fill="#111" text-anchor="middle" font-family="Liberation Sans, sans-serif">0</text>
<text x="333.00" y="290.9" font-size="6.8" font-weight="bold" fill="#111" text-anchor="middle" font-family="Liberation Sans, sans-serif">2</text>
<text x="368.20" y="290.9" font-size="6.8" font-weight="bold" fill="#111" text-anchor="middle" font-family="Liberation Sans, sans-serif">4</text>
<text x="403.40" y="290.9" font-size="6.8" font-weight="bold" fill="#111" text-anchor="middle" font-family="Liberation Sans, sans-serif">6</text>
<text x="438.60" y="290.9" font-size="6.8" font-weight="bold" fill="#111" text-anchor="middle" font-family="Liberation Sans, sans-serif">8</text>
<path d="M295.8 277.90H437.5M295.8 258.88H437.5M295.8 239.86H437.5M295.8 220.84H437.5M295.8 201.82H437.5M295.8 182.80H437.5M297.80 277.90v1.8M333.00 277.90v1.8M368.20 277.90v1.8M403.40 277.90v1.8M438.60 277.90v1.8M297.80 279.70V182.80" stroke="#e2e2e2" stroke-width="0.9" fill="none"/>
<text x="368.0" y="302.3" font-size="6.9" font-weight="bold" text-anchor="middle" font-family="Liberation Sans, sans-serif">Days in culture</text>
<text transform="translate(276.9,231.8) rotate(-90)" font-size="6.85" font-weight="bold" text-anchor="middle" font-family="Liberation Sans, sans-serif">CLL cell survival (%)</text>
<path d="M297.80 186.13L333.00 197.54L385.80 191.36L421.00 191.36" stroke="#000" stroke-width="1.15" fill="none"/>
<path d="M297.80 186.13L333.00 207.05L385.80 194.69L421.00 198.02" stroke="#222" stroke-width="1.15" fill="none" stroke-dasharray="4 2.5"/>
<path d="M297.80 186.13L333.00 199.25L385.80 201.82L421.00 210.38" stroke="#000" stroke-width="1.15" fill="none"/>
<path d="M297.80 186.13L333.00 217.51L385.80 253.17L421.00 271.05" stroke="#222" stroke-width="1.15" fill="none" stroke-dasharray="4 2.5"/>
<path d="M297.80 186.13L333.00 217.80L385.80 232.06L421.00 255.74" stroke="#000" stroke-width="1.15" fill="none"/>
<path d="M297.80 186.13L333.00 227.02L385.80 272.38L421.00 277.42" stroke="#222" stroke-width="1.15" fill="none" stroke-dasharray="4 2.5"/>
<path d="M333.00 194.69V200.39M332.00 194.69h2.0M332.00 200.39h2.0" stroke="#333" stroke-width="0.6" fill="none"/>
<path d="M385.80 189.93V192.79M384.80 189.93h2.0M384.80 192.79h2.0" stroke="#333" stroke-width="0.6" fill="none"/>
<path d="M421.00 189.93V192.79M420.00 189.93h2.0M420.00 192.79h2.0" stroke="#333" stroke-width="0.6" fill="none"/>
<path d="M333.00 205.15V208.95M332.00 205.15h2.0M332.00 208.95h2.0" stroke="#333" stroke-width="0.6" fill="none"/>
<path d="M385.80 192.79V196.59M384.80 192.79h2.0M384.80 196.59h2.0" stroke="#333" stroke-width="0.6" fill="none"/>
<path d="M421.00 196.11V199.92M420.00 196.11h2.0M420.00 199.92h2.0" stroke="#333" stroke-width="0.6" fill="none"/>
<path d="M333.00 197.35V201.15M332.00 197.35h2.0M332.00 201.15h2.0" stroke="#333" stroke-width="0.6" fill="none"/>
<path d="M385.80 198.97V204.67M384.80 198.97h2.0M384.80 204.67h2.0" stroke="#333" stroke-width="0.6" fill="none"/>
<path d="M421.00 206.57V214.18M420.00 206.57h2.0M420.00 214.18h2.0" stroke="#333" stroke-width="0.6" fill="none"/>
<path d="M333.00 216.08V218.94M332.00 216.08h2.0M332.00 218.94h2.0" stroke="#333" stroke-width="0.6" fill="none"/>
<path d="M385.80 251.75V254.60M384.80 251.75h2.0M384.80 254.60h2.0" stroke="#333" stroke-width="0.6" fill="none"/>
<path d="M421.00 269.63V272.48M420.00 269.63h2.0M420.00 272.48h2.0" stroke="#333" stroke-width="0.6" fill="none"/>
<path d="M333.00 216.37V219.22M332.00 216.37h2.0M332.00 219.22h2.0" stroke="#333" stroke-width="0.6" fill="none"/>
<path d="M385.80 230.64V233.49M384.80 230.64h2.0M384.80 233.49h2.0" stroke="#333" stroke-width="0.6" fill="none"/>
<path d="M421.00 248.89V262.59M420.00 248.89h2.0M420.00 262.59h2.0" stroke="#333" stroke-width="0.6" fill="none"/>
<path d="M333.00 225.59V228.45M332.00 225.59h2.0M332.00 228.45h2.0" stroke="#333" stroke-width="0.6" fill="none"/>
<path d="M385.80 271.43V273.34M384.80 271.43h2.0M384.80 273.34h2.0" stroke="#333" stroke-width="0.6" fill="none"/>
<path d="M421.00 276.47V277.90M420.00 276.47h2.0M420.00 277.90h2.0" stroke="#333" stroke-width="0.6" fill="none"/>
<rect x="296.20" y="184.53" width="3.20" height="3.20" fill="#000" stroke="#000" stroke-width="0.9"/>
<rect x="331.40" y="195.94" width="3.20" height="3.20" fill="#000" stroke="#000" stroke-width="0.9"/>
<rect x="384.20" y="189.76" width="3.20" height="3.20" fill="#000" stroke="#000" stroke-width="0.9"/>
<rect x="419.40" y="189.76" width="3.20" height="3.20" fill="#000" stroke="#000" stroke-width="0.9"/>
<circle cx="297.80" cy="186.13" r="1.60" fill="#fff" stroke="#444" stroke-width="0.9"/>
<circle cx="333.00" cy="207.05" r="1.60" fill="#fff" stroke="#444" stroke-width="0.9"/>
<circle cx="385.80" cy="194.69" r="1.60" fill="#fff" stroke="#444" stroke-width="0.9"/>
<circle cx="421.00" cy="198.02" r="1.60" fill="#fff" stroke="#444" stroke-width="0.9"/>
<path d="M297.80 184.37L299.48 187.41L296.12 187.41Z" fill="#000" stroke="#000" stroke-width="0.9"/>
<path d="M333.00 197.49L334.68 200.53L331.32 200.53Z" fill="#000" stroke="#000" stroke-width="0.9"/>
<path d="M385.80 200.06L387.48 203.10L384.12 203.10Z" fill="#000" stroke="#000" stroke-width="0.9"/>
<path d="M421.00 208.62L422.68 211.66L419.32 211.66Z" fill="#000" stroke="#000" stroke-width="0.9"/>
<path d="M297.80 184.37L299.48 187.41L296.12 187.41Z" fill="#fff" stroke="#444" stroke-width="0.9"/>
<path d="M333.00 215.75L334.68 218.79L331.32 218.79Z" fill="#fff" stroke="#444" stroke-width="0.9"/>
<path d="M385.80 251.41L387.48 254.45L384.12 254.45Z" fill="#fff" stroke="#444" stroke-width="0.9"/>
<path d="M421.00 269.29L422.68 272.33L419.32 272.33Z" fill="#fff" stroke="#444" stroke-width="0.9"/>
<circle cx="297.80" cy="186.13" r="1.60" fill="#000" stroke="#000" stroke-width="0.9"/>
<circle cx="333.00" cy="217.80" r="1.60" fill="#000" stroke="#000" stroke-width="0.9"/>
<circle cx="385.80" cy="232.06" r="1.60" fill="#000" stroke="#000" stroke-width="0.9"/>
<circle cx="421.00" cy="255.74" r="1.60" fill="#000" stroke="#000" stroke-width="0.9"/>
<circle cx="297.80" cy="186.13" r="1.60" fill="#fff" stroke="#444" stroke-width="0.9"/>
<circle cx="333.00" cy="227.02" r="1.60" fill="#fff" stroke="#444" stroke-width="0.9"/>
<circle cx="385.80" cy="272.38" r="1.60" fill="#fff" stroke="#444" stroke-width="0.9"/>
<circle cx="421.00" cy="277.42" r="1.60" fill="#fff" stroke="#444" stroke-width="0.9"/>
<circle cx="297.80" cy="186.13" r="1.80" fill="#000" stroke="#000" stroke-width="0.6"/>
<path d="M440.2 188.30H455.0" stroke="#000" stroke-width="1.1" fill="none"/>
<circle cx="447.60" cy="188.30" r="1.60" fill="#000" stroke="#000" stroke-width="0.7"/>
<text x="456.9" y="191.20" font-size="7.05" font-weight="bold" letter-spacing="0.07" fill="#1a1a1a" font-family="Liberation Sans, sans-serif">Coculture</text>
<path d="M440.2 198.40H455.0" stroke="#707070" stroke-width="1.1" fill="none"/>
<rect x="446.00" y="196.80" width="3.20" height="3.20" fill="#fff" stroke="#666" stroke-width="0.7"/>
<text x="456.9" y="201.30" font-size="7.05" font-weight="bold" letter-spacing="0.07" fill="#1a1a1a" font-family="Liberation Sans, sans-serif">Coculture (CD19+)</text>
<path d="M440.2 207.80H455.0" stroke="#000" stroke-width="1.1" fill="none"/>
<path d="M447.60 206.04L449.28 209.08L445.92 209.08Z" fill="#000" stroke="#000" stroke-width="0.7"/>
<text x="456.9" y="210.70" font-size="7.05" font-weight="bold" letter-spacing="0.07" fill="#1a1a1a" font-family="Liberation Sans, sans-serif">Cell dense</text>
<path d="M440.2 217.40H455.0" stroke="#707070" stroke-width="1.1" fill="none"/>
<path d="M447.60 215.64L449.28 218.68L445.92 218.68Z" fill="#fff" stroke="#666" stroke-width="0.7"/>
<text x="456.9" y="220.30" font-size="7.05" font-weight="bold" letter-spacing="0.07" fill="#1a1a1a" font-family="Liberation Sans, sans-serif">Cell dense (CD19+)</text>
<path d="M440.2 227.10H455.0" stroke="#000" stroke-width="1.1" fill="none"/>
<circle cx="447.60" cy="227.10" r="1.60" fill="#000" stroke="#000" stroke-width="0.7"/>
<text x="456.9" y="230.00" font-size="7.05" font-weight="bold" letter-spacing="0.07" fill="#1a1a1a" font-family="Liberation Sans, sans-serif">Control</text>
<path d="M440.2 236.70H455.0" stroke="#707070" stroke-width="1.1" fill="none"/>
<circle cx="447.60" cy="236.70" r="1.60" fill="#fff" stroke="#666" stroke-width="0.7"/>
<text x="456.9" y="239.60" font-size="7.05" font-weight="bold" letter-spacing="0.07" fill="#1a1a1a" font-family="Liberation Sans, sans-serif">Control (CD19+)</text>
</svg>
</body></html>
